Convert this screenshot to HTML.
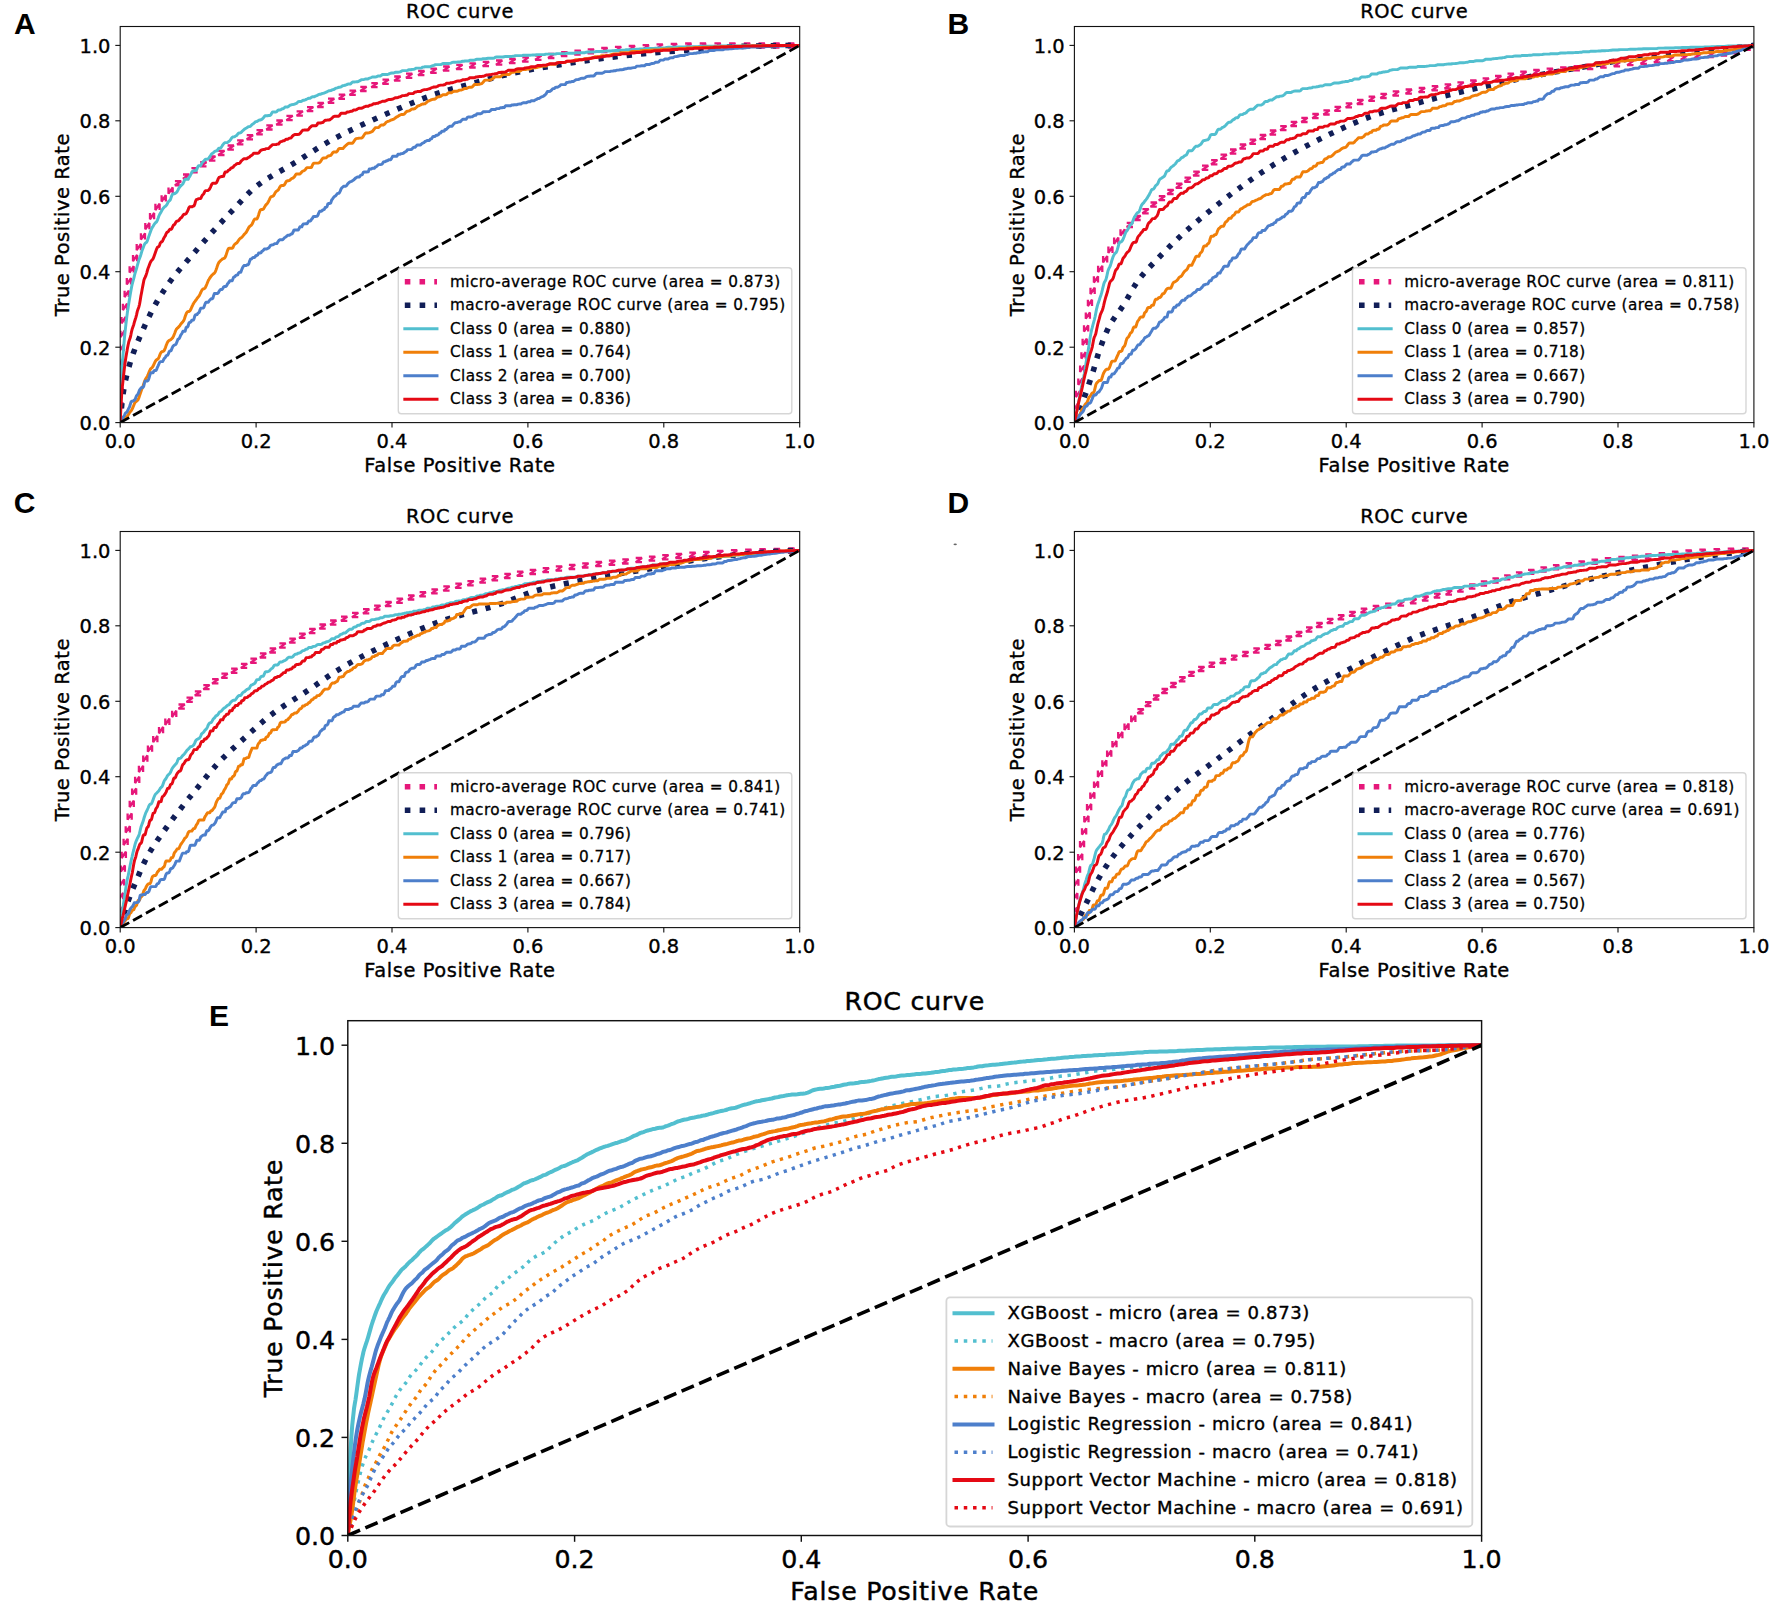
<!DOCTYPE html>
<html lang="en"><head><meta charset="utf-8"><title>ROC curves</title>
<style>
html,body{margin:0;padding:0;background:#fff}
body{width:1772px;height:1604px;overflow:hidden}
svg{display:block}
text{white-space:pre}
</style></head><body>
<svg width="1772" height="1604" viewBox="0 0 1772 1604">
<rect width="1772" height="1604" fill="#fff"/>
<clipPath id="cpA"><rect x="120.2" y="26.5" width="679.5" height="396.1"/></clipPath>
<g clip-path="url(#cpA)" fill="none" stroke-linejoin="round">
<path d="M118.1 416.7v6.3L122.3 416.7v6.3M118.3 402.1v6.3L122.4 402.1v6.3M118.4 387.5v6.3L122.6 387.5v6.3M118.7 373.1v6.3L122.8 373.1v6.3M119.1 358.7v6.3L123.2 358.7v6.3M119.7 344.6v6.3L123.8 344.6v6.3M120.5 330.7v6.3L124.6 330.7v6.3M121.5 317v6.3L125.7 317v6.3M122.9 303.7v6.3L127.1 303.7v6.3M124.6 290.7v6.3L128.8 290.7v6.3M126.8 278.1v6.3L131 278.1v6.3M129.6 266.2v6.3L133.7 266.2v6.3M133 254.9v6.3L137.1 254.9v6.3M136.7 243.9v6.3L140.9 243.9v6.3M140.9 233.3v6.3L145 233.3v6.3M145.3 223v6.3L149.4 223v6.3M150 213v6.3L154.1 213v6.3M155.4 203.7v6.3L159.6 203.7v6.3M161.6 195.2v6.3L165.8 195.2v6.3M168.5 187.4v6.3L172.7 187.4v6.3M174.9 181.2h6.3L174.9 185.3h6.3M183 174.5h6.3L183 178.6h6.3M191.4 168.2h6.3L191.4 172.4h6.3M200.2 162.2h6.3L200.2 166.4h6.3M209.1 156.4h6.3L209.1 160.6h6.3M218.2 150.9h6.3L218.2 155h6.3M227.6 145.5h6.3L227.6 149.7h6.3M237.1 140.3h6.3L237.1 144.4h6.3M246.7 135.2h6.3L246.7 139.3h6.3M256.5 130.2h6.3L256.5 134.3h6.3M266.3 125.3h6.3L266.3 129.5h6.3M276.3 120.5h6.3L276.3 124.7h6.3M286.4 115.9h6.3L286.4 120.1h6.3M296.6 111.4h6.3L296.6 115.6h6.3M307 107.1h6.3L307 111.2h6.3M317.4 102.8h6.3L317.4 107h6.3M328 98.7h6.3L328 102.8h6.3M338.7 94.6h6.3L338.7 98.8h6.3M349.5 90.7h6.3L349.5 94.9h6.3M360.3 86.8h6.3L360.3 91h6.3M371.3 83.1h6.3L371.3 87.2h6.3M382.5 79.6h6.3L382.5 83.8h6.3M394.2 76.5h6.3L394.2 80.7h6.3M406 73.7h6.3L406 77.8h6.3M418.1 71h6.3L418.1 75.2h6.3M430.4 68.6h6.3L430.4 72.8h6.3M443.1 66.5h6.3L443.1 70.7h6.3M456.2 64.9h6.3L456.2 69.1h6.3M469.4 63.4h6.3L469.4 67.5h6.3M482.7 61.9h6.3L482.7 66.1h6.3M496 60.5h6.3L496 64.7h6.3M509.2 59h6.3L509.2 63.2h6.3M522.3 57.4h6.3L522.3 61.6h6.3M535.2 55.6h6.3L535.2 59.8h6.3M548.1 53.8h6.3L548.1 58h6.3M561.1 52.1h6.3L561.1 56.2h6.3M574.4 50.6h6.3L574.4 54.7h6.3M587.7 49.3h6.3L587.7 53.4h6.3M601.2 48h6.3L601.2 52.2h6.3M614.9 46.9h6.3L614.9 51.1h6.3M628.7 46h6.3L628.7 50.2h6.3M642.6 45.2h6.3L642.6 49.4h6.3M656.5 44.4h6.3L656.5 48.6h6.3M670.7 43.8h6.3L670.7 48h6.3M685.1 43.5h6.3L685.1 47.7h6.3M699.7 43.5h6.3L699.7 47.6h6.3M714.4 43.4h6.3L714.4 47.6h6.3M729.1 43.4h6.3L729.1 47.5h6.3M743.8 43.4h6.3L743.8 47.5h6.3M758.5 43.3h6.3L758.5 47.5h6.3M773.2 43.3h6.3L773.2 47.5h6.3M787.9 43.3h6.3L787.9 47.5h6.3" fill="none" stroke="#E6177A" stroke-width="2.3" stroke-linejoin="bevel"/>
<path d="M123 422.8L123.4 417.6L117.8 417.1L117.4 422.4ZM124.2 408.5L124.7 403.3L119.1 402.8L118.6 408ZM125.8 394.5L126.6 389.4L121.1 388.5L120.3 393.7ZM128.2 380.9L129.4 375.9L123.9 374.7L122.8 379.6ZM131.6 367.7L133 362.8L127.7 361.2L126.2 366.1ZM135.7 354.8L137.4 350.1L132.2 348.2L130.4 352.9ZM140.6 342.3L142.5 337.8L137.4 335.6L135.4 340.1ZM146 330L147.9 325.5L142.8 323.3L140.8 327.8ZM151.5 317.9L153.7 313.6L148.6 311.1L146.5 315.4ZM157.6 306.3L160 302L155.1 299.3L152.7 303.5ZM164.3 295L166.9 290.9L162.2 287.9L159.6 292ZM171.5 284.2L174.4 280.3L169.9 277L167 280.9ZM179.5 274L182.6 270.3L178.3 266.7L175.2 270.3ZM188 264.1L191.2 260.5L187 256.8L183.8 260.4ZM196.7 254.2L199.8 250.5L195.5 246.9L192.4 250.5ZM205.2 244.3L208.4 240.7L204.2 237L201 240.6ZM213.9 234.5L217.1 231L213 227.2L209.7 230.7ZM222.7 224.9L226 221.3L221.9 217.5L218.6 221ZM231.6 215.3L235 211.9L230.9 208L227.6 211.5ZM240.7 205.7L243.9 202.2L239.8 198.4L236.5 202ZM249.5 196.3L252.9 192.9L249 188.9L245.6 192.3ZM259 187.8L262.9 185L259.6 180.4L255.7 183.3ZM269.6 180.5L273.8 178L270.9 173.2L266.8 175.7ZM281 173.9L285.3 171.5L282.5 166.6L278.3 169ZM292.7 167.3L296.8 164.7L293.9 160L289.8 162.5ZM304 160.2L308 157.6L305 152.9L300.9 155.5ZM315.1 153.2L319.2 150.6L316.2 145.8L312.1 148.4ZM326.3 146.3L330.5 143.8L327.7 139L323.5 141.4ZM337.8 139.9L342.1 137.6L339.5 132.7L335.2 134.9ZM349.6 133.9L354 131.7L351.6 126.7L347.2 128.8ZM361.6 128.1L366.1 126L363.7 120.9L359.3 123ZM373.8 122.5L378.3 120.5L376 115.4L371.5 117.4ZM386.1 117.1L390.6 115.1L388.4 110L383.9 112ZM398.4 111.8L403 109.8L400.8 104.7L396.2 106.6ZM410.8 106.5L415.4 104.7L413.3 99.5L408.7 101.4ZM423.3 101.6L427.9 99.8L426 94.6L421.3 96.3ZM435.9 96.9L440.7 95.4L438.9 90L434.2 91.6ZM448.8 92.9L453.7 91.5L452.2 86.1L447.3 87.5ZM462.1 89.2L467 87.9L465.5 82.5L460.6 83.8ZM475.4 85.6L480.3 84.2L478.8 78.8L473.9 80.2ZM488.7 82L493.6 80.7L492.2 75.3L487.3 76.6ZM502 78.6L507 77.4L505.7 72L500.7 73.1ZM515.5 75.5L520.5 74.5L519.4 69L514.4 70ZM529.2 72.8L534.2 71.8L533.2 66.3L528.2 67.3ZM543 70.3L548.1 69.4L547.1 63.9L542 64.8ZM556.8 68L561.9 67.2L561.1 61.6L556 62.4ZM570.8 65.8L575.9 65L575.1 59.5L569.9 60.3ZM584.8 63.7L589.9 63L589.1 57.5L584 58.2ZM598.8 61.8L603.9 61.1L603.2 55.5L598 56.2ZM612.8 59.9L618 59.3L617.3 53.7L612.1 54.4ZM626.9 58.2L632.2 57.7L631.6 52.1L626.3 52.7ZM641.2 56.8L646.4 56.3L645.9 50.7L640.6 51.2ZM655.4 55.5L660.7 55L660.2 49.5L654.9 49.9ZM669.7 54.3L675 53.9L674.6 48.3L669.3 48.7ZM684.1 53.2L689.4 52.8L689 47.2L683.7 47.6ZM698.5 52.1L703.8 51.7L703.3 46.1L698 46.5ZM712.8 51L718.1 50.6L717.7 45L712.4 45.4ZM727.2 49.9L732.5 49.6L732.1 44L726.8 44.3ZM741.6 49.2L746.9 49L746.8 43.4L741.4 43.6ZM756.2 48.8L761.5 48.7L761.4 43.1L756 43.2ZM770.8 48.5L776.2 48.4L776.1 42.8L770.7 42.9ZM785.4 48.3L790.8 48.2L790.8 42.6L785.4 42.7Z" fill="#111E57" stroke="none"/>
<path d="M120.2 422.6L120.9 392.4L120.9 391.6L121.6 375.6L122.3 363.2L123.1 353.6L123.8 345.4L124.3 339.9L124.5 337.7L125.2 330.6L125.9 324.3L126.6 318.5L127.3 313.1L128.1 308L128.4 305.9L128.8 303.2L129.5 299L130.2 294.8L130.9 290.7L131.6 286.9L132.3 283.8L133 281.1L133.1 280.9L133.8 278.4L134.5 275.4L135.2 272.7L135.9 270.5L136.6 268.3L137.3 265.7L138.1 262.8L138.8 260.3L139.5 258.4L139.9 257.4L140.2 256.7L140.9 254.5L141.6 252.1L142.3 249.9L143.1 247.9L143.8 246L144.5 244.4L145.2 243.3L145.9 242.8L146.7 242.1L147.4 240.6L148.1 238.5L148.8 236.4L149.4 234.7L149.5 234.4L150.2 232.4L151 230.3L151.7 228.5L152.4 227.2L153.1 226.3L153.8 225.1L154.6 223.8L155.3 222.8L156 222.4L156.7 221.7L157.4 220.1L158.2 218L158.9 216L159.6 214.5L160.3 213.3L161.1 211.9L161.8 210.5L162.3 209.5L162.5 209.3L163.2 208.3L164 207.4L164.7 206.6L165.4 206.2L166.1 205.7L166.9 204.7L167.6 203.2L168.3 201.8L169 201.1L169.8 200.6L170.5 199.4L171.2 197.3L171.9 195.3L172.7 194.2L173.4 193.9L174.1 193.8L174.9 193.5L175.6 193L176.3 192.6L177.1 191.7L177.8 190.3L178.5 188.8L179.3 187.7L180 186.7L180 186.7L180.7 185.9L181.5 185.1L182.2 184.6L182.9 183.8L183.7 182.2L184.4 180.4L185.1 179.3L185.9 179.3L186.6 179.3L187.4 179.3L188.1 179.3L188.8 177.8L189.6 176.6L190.3 175.4L191.1 173.9L191.8 172.3L192.6 171.2L193.3 170.8L194 170.8L194.8 170.8L195.5 170.8L196.3 170.3L197 168.7L197.8 166.9L198.5 165.8L199.3 165.8L200 165.8L200.8 165.5L201.5 164L201.7 163.6L202.3 162.6L203 161.7L203.8 161.1L204.5 160.2L205.3 159.4L206 159.2L206.8 159.2L207.6 159.1L208.3 158.5L209.1 157.7L209.8 156.7L210.6 155.5L211.3 154.3L212.1 153.5L212.9 153.1L213.6 152.6L214.4 151.7L215.2 151.1L215.9 151L216.7 150.9L217.5 150.1L218.2 148.9L219 148.2L219.8 148.2L220.5 148.1L221.3 147.3L222.1 146L222.8 144.8L223.6 143.8L224.4 143L225.2 142.6L225.9 142.6L226.7 142.6L227.5 142.5L228.3 141.8L229.1 141.3L229.6 140.9L229.8 140.7L230.6 139.7L231.4 138.3L232.2 137.3L233 137L233.7 136.9L234.5 136.7L235.3 136.2L236.1 135.8L236.9 135.2L237.7 134.1L238.5 133.1L239.3 132.9L240.1 132.9L240.8 132.7L241.6 131.9L242.4 131L243.2 130.3L244 129.6L244.8 128.9L245.6 128.4L246.4 128L247.2 127.5L248 126.9L248.8 126.6L249.6 126.6L250.4 126.4L251.2 125.4L252.1 124.4L252.9 123.9L253.7 123.5L254.5 122.7L255.3 121.9L256.1 121.6L256.9 121.6L257.7 121.1L258.6 120.4L259.4 120L260.2 120L261 119.8L261.8 119.4L262.6 118.7L263.5 117.8L264.3 116.6L265.1 115.8L265.9 115.7L266.3 115.7L266.8 115.7L267.6 115.7L268.4 115.5L269.3 115.5L270.1 115.5L270.9 114.7L271.8 113L272.6 111.9L273.4 111.9L274.3 111.9L275.1 111.9L276 111.9L276.8 111.6L277.6 110.6L278.5 110L279.3 110L280.2 110L281 109.6L281.9 109L282.7 108.7L283.6 108.5L284.4 107.7L285.3 107L286.1 106.9L287 106.9L287.9 106.9L288.7 106.3L289.6 105.6L290.4 105.1L291.3 104.8L292.2 104.6L293 104.5L293.9 104.4L294.8 104L295.6 103.7L296.5 103.3L297.4 102.5L298.3 101.6L299.1 101.5L300 101.5L300.9 101.5L301.8 101.2L302.7 100.5L303.5 100.3L304.4 100.2L305.3 99.9L306.2 99.4L307.1 99L308 98.5L308.9 98.3L309.8 98.3L310.7 97.9L311.6 97.2L312.5 96.8L313.3 96.8L314.3 96.8L315.2 96.2L316.1 95.9L317 95.6L317.9 95L318.8 94.4L319.7 94.3L320.6 94.2L321.5 93.8L322.4 93.4L323.3 93.3L324.1 93.1L324.3 93L325.2 92.6L326.1 92.2L327 91.8L327.9 91.2L328.9 90.7L329.8 90.7L330.7 90.6L331.7 90.1L332.6 89.7L333.5 89.6L334.5 89.1L335.4 88.4L336.3 88.1L337.3 87.9L338.2 87.5L339.2 87.2L340.1 87.2L341.1 86.9L342 86.1L343 85.6L343.9 85.5L344.9 85.3L345.8 85L346.8 84.6L347.7 84.1L348.7 83.9L349.6 83.9L350.6 83.9L351.6 82.8L352.5 82L353.5 82L354.5 82L355.5 81.9L356.4 81.8L357.4 81.8L358 81.6L358.4 81.4L359.4 80.9L360.3 80.4L361.3 79.8L362.3 79.6L363.3 79.6L364.3 79.4L365.3 79L366.3 79L367.3 79L368.3 78.8L369.3 78.1L370.3 77.9L371.3 77.5L372.3 77L373.3 77L374.3 77L375.3 77L376.3 76.9L377.3 76.3L378.3 75.9L379.3 75.9L380.4 75.9L381.4 75.3L382.4 74.5L383.4 74.5L384.5 74.5L385.5 74.5L386.5 74.5L387.6 74.5L388.6 74.1L389.6 73.6L390.7 73.2L391.7 73L392.7 73L393.8 73L394.8 72.5L395.9 72.2L396.9 72.2L398 72.2L399 72.1L400.1 71.9L401.2 71.4L402.2 70.7L403.3 70.6L404.3 70.6L405.4 70.6L406.5 70.6L407.5 70.3L408.6 69.8L409.7 69.8L410.8 69.8L411.8 69.5L412.9 69.4L414 69.3L414.4 69.1L415.1 68.7L416.2 68.1L417.3 68.1L418.4 68.1L419.5 68.1L420.6 68.1L421.7 67.8L422.8 67.1L423.9 67L425 66.8L426.1 66.7L427.2 66.7L428.3 66.7L429.4 66.7L430.5 66.7L431.6 66.2L432.8 65.7L433.9 65.3L435 64.8L436.1 64.6L437.3 64.6L438.4 64.6L439.5 64.6L440.7 64.6L441.8 64.1L442.9 63.5L444.1 63.5L445.2 63.5L446.4 63.5L447.5 63.5L448.7 63.5L449.8 63.4L451 63.1L452.1 62.4L453.3 62.3L454.5 62.3L455.6 62.3L456.8 62.1L458 62L459.1 62L459.9 62L460.3 62L461.5 61.5L462.7 61.2L463.8 61.2L465 61L466.2 60.9L467.4 60.9L468.6 60.9L469.8 60.3L471 60.3L472.2 60.3L473.4 60.3L474.6 60.1L475.8 59.5L477 59.3L478.2 59.3L479.4 59.3L480.6 59.3L481.9 59.2L483.1 58.7L484.3 58.7L485.5 58.7L486.8 58.5L488 58.3L489.2 58.3L490.5 58.3L491.7 58.3L492.9 58.3L494.2 58.1L495.4 57.2L496.7 57L497.9 57L499.2 57L500.4 57L501.7 57L502.9 57L504.2 56.7L505.5 56.4L506.7 56.4L508 56.4L509.3 56.4L510.6 56.4L511.8 56.4L513.1 56.2L514.4 56L515.7 55.6L517 55.6L517.7 55.6L518.3 55.6L519.6 55.6L520.9 55.6L522.2 55.5L523.5 55.3L524.8 55.3L526.1 55.3L527.4 55.3L528.7 55.2L530 55.2L531.3 55.1L532.7 54.9L534 54.9L535.3 54.9L536.6 54.6L538 54.6L539.3 54.6L540.6 54.6L542 54.6L543.3 54.6L544.7 54.5L546 54.1L547.4 54.1L548.7 54.1L550.1 54.1L551.4 54.1L552.8 54.1L554.2 54.1L555.5 54L556.9 53.6L558.3 53.6L559.7 53.6L561 53.6L562.4 53.6L563.8 53.6L565.2 53.5L566.6 53.3L568 53.3L569.4 53.3L570.8 53.2L572.2 53.2L573.6 53.2L574.8 53.1L575 53L576.4 52.7L577.8 52.7L579.2 52.7L580.7 52.7L582.1 52.7L583.5 52.7L584.9 52.7L586.4 52.2L587.8 52L589.2 52L590.7 52L592.1 52L593.6 52L595 51.8L596.5 51.5L597.9 51.5L599.4 51.5L600.8 51.5L602.3 51.5L603.8 51.4L605.2 51.1L606.7 50.9L608.2 50.9L609.7 50.9L611.2 50.9L612.6 50.7L614.1 50.7L615.6 50.4L617.1 50.4L618.6 50.4L620.1 50.1L621.6 50.1L623.1 50.1L624.6 50.1L626.1 49.8L627.7 49.7L629.2 49.7L630.7 49.7L632.2 49.6L632.5 49.5L633.8 49.5L635.3 49.5L636.8 49.3L638.4 49.2L639.9 49L641.4 49L643 49L644.5 49L646.1 48.5L647.7 48.5L649.2 48.5L650.8 48.5L652.3 48.5L653.9 48.5L655.5 48.3L657.1 48.2L658.6 47.9L660.2 47.9L661.8 47.9L663.4 47.9L665 47.9L666.6 47.4L668.2 47.3L669.8 47.3L671.4 47.3L673 47.3L674.6 47.2L676.2 46.9L677.8 46.9L679.5 46.9L681.1 46.9L682.7 46.9L684.4 46.9L686 46.8L687.6 46.8L689.3 46.8L690.3 46.8L690.9 46.8L692.6 46.7L694.2 46.7L695.9 46.7L697.5 46.7L699.2 46.5L700.9 46.3L702.5 46.3L704.2 46.3L705.9 46.3L707.6 46.2L709.2 46.1L710.9 46.1L712.6 46.1L714.3 46.1L716 46.1L717.7 46.1L719.4 46L721.1 46L722.8 46L724.5 46L726.2 46L728 46L729.7 45.9L731.4 45.9L733.2 45.9L734.9 45.9L736.6 45.9L738.4 45.9L740.1 45.9L741.9 45.8L743.6 45.8L745.4 45.8L747.1 45.8L748.1 45.8L748.9 45.7L750.7 45.6L752.4 45.6L754.2 45.6L756 45.6L757.8 45.6L759.5 45.6L761.3 45.6L763.1 45.6L764.9 45.6L766.7 45.6L768.5 45.5L770.3 45.5L772.1 45.5L773.9 45.5L775.8 45.5L777.6 45.5L779.4 45.4L781.2 45.4L783.1 45.4L784.9 45.4L786.7 45.4L788.6 45.4L790.4 45.4L792.3 45.4L794.1 45.4L796 45.4L797.8 45.4L799.7 45.4" stroke="#52BFCF" stroke-width="2.95" stroke-linecap="square"/>
<path d="M120.2 422.6L120.9 422.1L121.6 421.7L122.3 421.1L123.1 420.3L123.8 419.4L124.5 418.5L125.2 417.8L125.9 417.2L126.6 416.7L127.3 416L128.1 415L128.8 413.9L129.5 412.7L130.2 411.8L130.9 411L131.6 410.1L132.3 408.8L133 407.2L133.8 405.2L134.5 403.5L135.2 402.3L135.9 401.6L136.6 401.2L137.3 400.6L137.9 399.9L138.1 399.6L138.8 398L139.5 395.9L140.2 393.8L140.9 391.7L141.6 389.8L142.3 387.8L143.1 385.7L143.8 383.6L144.5 381.5L145.2 379.9L145.9 378.5L146.7 377.4L147.4 376.2L147.4 376.2L148.1 374.7L148.8 372.9L149.5 371L150.2 369.5L151 368.5L151.7 367.9L152.4 367.2L153.1 366.1L153.8 364.6L154.6 362.8L155.3 361.3L156 360.3L156.7 359.8L157.4 359.4L158.2 358.7L158.9 357.4L159.6 355.6L160.3 353.8L161.1 352.4L161.8 351.7L162.3 351.5L162.5 351.5L163.2 351.4L164 350.8L164.7 349.5L165.4 347.7L166.1 345.6L166.9 343.7L167.6 342.2L168.3 341.2L169 340.5L169.8 340.1L170.5 339.7L171.2 339.2L171.9 338.6L172.7 337.7L173.4 336.4L174.1 334.7L174.9 332.7L175.6 330.8L176.3 329.3L177.1 328.4L177.8 327.7L178 327.6L178.5 327.1L179.3 326.3L180 325.3L180.7 324.2L181.5 323.3L182.2 322.5L182.9 321.7L183.7 320.6L184.4 319L185.1 316.8L185.9 314.6L186.6 312.8L187.4 311.8L188.1 311.5L188.8 311.5L189.6 311.2L190.3 310.3L191.1 308.8L191.8 307L192.6 305.3L192.9 304.6L193.3 303.9L194 302.7L194.8 301.7L195.5 300.7L196.3 299.6L197 298.5L197.8 297.6L198.5 296.7L199.3 295.6L200 294.2L200.8 292.5L201.5 290.9L202.3 289.6L203 289L203.8 288.8L204.5 288.5L205.3 287.7L206 286.2L206.8 284.3L207.6 282.2L208.3 280.5L208.5 280.1L209.1 279.2L209.8 278L210.6 277L211.3 275.9L212.1 275L212.9 274.3L213.6 273.7L214.4 273.1L215.2 272L215.9 270.2L216.7 268L217.5 265.6L218.2 263.7L219 262.3L219.8 261.4L220.5 260.7L221.3 260L222.1 259.3L222.8 258.8L223.5 258.5L223.6 258.5L224.4 258.2L225.2 257.3L225.9 255.6L226.7 253.1L227.5 250.6L228.3 248.8L229.1 248.3L229.8 248.3L230.6 248.3L231.4 248.3L232.2 248.3L233 247.4L233.7 245.7L234.5 244.5L235.3 243.8L236.1 243.4L236.9 242.8L237.7 241.7L238.5 240.4L239.3 239.3L240.1 238.5L240.8 238L241.6 237.5L242.4 236.7L243.2 235.7L243.9 234.8L244 234.6L244.8 233.8L245.6 233L246.4 232L247.2 230.6L248 229L248.8 227.5L249.6 226.5L250.4 225.9L251.2 225.3L252.1 224.1L252.9 222.3L253.7 220.5L254.5 219.3L255.3 218.9L256.1 218.9L256.9 218.9L257.7 217.5L258.6 214.9L259.4 212.2L260.2 210.2L261 209.5L261.5 209.5L261.8 209.5L262.6 209.5L263.5 209L264.3 207.6L265.1 206.1L265.9 204.9L266.8 204.1L267.6 203.1L268.4 201.7L269.3 199.8L270.1 198L270.9 196.9L271.8 196.5L272.6 196.4L273.4 195.8L274.3 194.5L275.1 192.9L276 191.7L276.8 191L277.6 190.5L278.5 189.6L279.3 188.1L280.2 186.6L280.6 186L281 185.6L281.9 185.5L282.7 185.5L283.6 185.5L284.4 184.8L285.3 183.2L286.1 181.7L287 180.9L287.9 180.7L288.7 180.7L289.6 180.3L290.4 179.6L291.3 178.8L292.2 178.3L293 178L293.9 177.3L294.8 176.2L295.6 174.8L296.5 173.9L297.4 173.9L298.3 173.9L299.1 173.9L300 173.9L300.9 173L301.8 171.8L302.7 171.1L303.5 170.9L304.4 170.5L305.3 169.7L306.2 168.4L307.1 167.6L308 167.6L308.9 167.6L309.8 167.6L310.7 167.6L311.6 167.1L312.5 165L313.3 163.6L314.3 163.1L315.2 163.1L315.9 163.1L316.1 163.1L317 163.1L317.9 163.1L318.8 162.8L319.7 162.4L320.6 161.5L321.5 160L322.4 158.6L323.3 157.9L324.3 157.9L325.2 157.9L326.1 157.8L327 157L327.9 156.2L328.9 155.8L329.8 155.7L330.7 155.4L331.7 154.3L332.6 152.9L333.5 152L334.5 152L335.4 152L336.3 152L337.3 151.2L338.2 149.6L339.2 148.5L340.1 148.5L341.1 148.5L342 148.5L343 148.5L343.9 147.4L344.9 146.3L345.8 145.5L346.8 144.7L347.7 143.9L348.7 143.2L349.6 143.2L350.6 143.2L351.6 143.2L352.5 143.2L353.5 142.1L354.5 140.4L355.5 139.1L355.6 139L356.4 138.6L357.4 138.4L358.4 138.3L359.4 138.1L360.3 138.1L361.3 138.1L362.3 137.7L363.3 136.4L364.3 134.6L365.3 133.4L366.3 132.9L367.3 132.9L368.3 132.9L369.3 132.7L370.3 132.3L371.3 131.9L372.3 131.4L373.3 130.3L374.3 128.9L375.3 127.8L376.3 127.6L377.3 127.6L378.3 127.6L379.3 126.8L380.4 125.6L381.4 124.9L382.4 124.9L383.4 124.9L384.5 124.3L385.5 123.1L386.5 122L387.6 121.5L388.6 121.2L389.6 120.8L390.7 120.2L391.7 119.8L392.7 119.5L393.8 119.2L394.8 118.4L395.9 117.5L396.9 116.8L398 116.3L398.1 116.2L399 115.6L400.1 115L401.2 114.5L402.2 114.5L403.3 114.5L404.3 114.1L405.4 112.8L406.5 111.6L407.5 111.1L408.6 111L409.7 110.7L410.8 109.8L411.8 109.1L412.9 108.9L414 108.9L415.1 108.5L416.2 107.5L417.3 106.4L418.4 105.8L419.5 105.5L420.6 105L421.7 104.3L422.8 103.9L423.9 103.9L425 103.7L426.1 102.9L427.2 101.8L428.3 101.1L429.4 100.6L430.5 100.2L431.6 99.7L432.8 99.3L433.9 99.3L435 99L436.1 98.2L437.3 97.2L438.4 96.8L439.5 96.7L440.7 96.3L441.8 95.5L442.9 94.8L444.1 94.8L445.2 94.8L446.4 94.6L447.5 93.6L448.7 92.8L449.8 92.8L449.8 92.8L451 92.8L452.1 92.3L453.3 91.6L454.5 91.3L455.6 91.3L456.8 91.3L458 90.9L459.1 90.3L459.9 90.1L460.3 90.1L461.5 90L462.7 89.5L463.8 88.8L465 88.5L466.2 88.5L467.4 88.1L468.6 87.4L469.8 87.2L471 87.2L472.2 87L473.4 85.6L474.6 84.4L475.8 84.4L477 84.4L478.2 84.4L479.4 84.2L480.6 83.9L481.9 83.5L483.1 82.3L484.3 80.6L485.5 80.1L486.8 80.1L488 80.1L489.2 80.1L490.5 80.1L491.7 79.3L492.9 78.6L494.2 77.5L495.4 76.8L496.7 76.8L497.9 76.8L498 76.8L499.2 76.8L500.4 76.8L501.7 75.4L502.9 74.8L504.2 74.6L505.5 74.5L506.7 74.5L508 74.5L509.3 74.5L510.6 73.2L511.8 72.3L513.1 72.3L514.4 72.1L515.7 71.4L517 71.4L517.7 71.4L518.3 71.4L519.6 71.4L520.9 70.5L522.2 69.4L523.5 69.4L524.8 69.4L526.1 69.4L527.4 69L528.7 69L530 69L531.3 68.4L532.7 67.7L534 67.7L535.3 67.7L536.6 67.5L538 67L539.3 66.8L540.6 66.5L542 66L543.3 66L544.7 66L546 66L547.4 65L548.7 64.2L550.1 64.2L551.4 64.2L552.8 64.2L554.2 64.2L555.5 64.2L556.9 63.3L558.3 62.5L559.7 62.5L561 62.5L562.4 62.5L563.8 62.5L565.2 62.2L566.6 61.8L568 61.1L569.4 61.1L570.8 61.1L572.2 61.1L573.6 61.1L574.8 60.2L575 60L576.4 59.7L577.8 59.7L579.2 59.7L580.7 59.7L582.1 59.7L583.5 59.2L584.9 58.7L586.4 58.7L587.8 58.6L589.2 58.2L590.7 58.2L592.1 58.2L593.6 57.6L595 56.7L596.5 56.7L597.9 56.7L599.4 56.7L600.8 56L602.3 55.7L603.8 55.7L605.2 55.7L606.7 55.5L608.2 55.4L609.7 55.1L611.2 54.6L612.6 54.2L614.1 54L615.6 54L617.1 54L618.6 54L620.1 53.4L621.6 52.6L623.1 52.6L624.6 52.6L626.1 52.6L627.7 52.6L629.2 52.6L630.7 51.9L632.2 51.5L632.5 51.5L633.8 51.5L635.3 51.5L636.8 51.5L638.4 51.5L639.9 51.4L641.4 50.6L643 50.5L644.5 50.5L646.1 50.5L647.7 50.5L649.2 50.5L650.8 50.2L652.3 49.9L653.9 49.9L655.5 49.9L657.1 49.9L658.6 49.9L660.2 49.6L661.8 49.1L663.4 49.1L665 49.1L666.6 49.1L668.2 49L669.8 48.9L671.4 48.9L673 48.9L674.6 48.9L676.2 48.9L677.8 48.6L679.5 48.4L681.1 48.4L682.7 48.4L684.4 48.4L686 48.3L687.6 47.9L689.3 47.9L690.3 47.9L690.9 47.9L692.6 47.9L694.2 47.6L695.9 47.5L697.5 47.5L699.2 47.5L700.9 47.5L702.5 47.5L704.2 47.2L705.9 47.2L707.6 47.2L709.2 47.2L710.9 47.2L712.6 47.2L714.3 47L716 47L717.7 47L719.4 47L721.1 46.8L722.8 46.8L724.5 46.8L726.2 46.8L728 46.8L729.7 46.8L731.4 46.7L733.2 46.7L734.9 46.7L736.6 46.3L738.4 46.3L740.1 46.3L741.9 46.3L743.6 46.3L745.4 46.3L747.1 45.9L748.9 45.9L750.7 45.9L752.4 45.9L754.2 45.9L756 45.9L757.8 45.9L759.5 45.9L761.3 45.9L763.1 45.8L764.9 45.8L766.7 45.8L768.5 45.7L770.3 45.7L772.1 45.6L773.9 45.6L775.8 45.6L777.6 45.6L779.4 45.5L781.2 45.5L783.1 45.5L784.9 45.5L786.7 45.5L788.6 45.4L790.4 45.4L792.3 45.4L794.1 45.4L796 45.4L797.8 45.4L799.7 45.4" stroke="#F07F09" stroke-width="2.95" stroke-linecap="square"/>
<path d="M120.2 422.6L120.9 421.3L121.6 419.9L122.3 418.3L123.1 417.3L123.8 416.4L124.5 415.1L125.2 413.5L125.9 412.6L126.6 412.4L127.3 411.4L128.1 409.6L128.8 408.2L129.5 407L130.2 404.8L130.9 402.3L131.6 401.2L132.3 401.2L133 401.1L133.8 400.5L134.5 400L134.5 400L135.2 399.2L135.9 397.3L136.6 395.6L137.3 394.8L138.1 393.8L138.8 391.9L139.5 390.1L140.2 389.1L140.9 388.3L141.6 387.4L142.3 387.4L143.1 387.4L143.8 386L144.5 382.8L145.2 380.9L145.9 380.9L146.7 380.9L147.4 380.9L148.1 380.5L148.8 378.7L149.5 376.4L150.2 373.9L150.8 372.9L151 372.8L151.7 372.8L152.4 372.8L153.1 372.8L153.8 371.1L154.6 370.4L155.3 370.4L156 370.4L156.7 369.2L157.4 367.3L158.2 365.6L158.9 364L159.6 362.4L160.3 361.6L161.1 361.6L161.8 361.6L162.5 361.6L163.2 360.5L164 358.8L164.7 358.1L165.4 357.3L166.1 356L166.9 355.4L167.6 355.2L168.3 354L169 352L169.8 350.9L169.8 350.9L170.5 350.9L171.2 350.6L171.9 348.6L172.7 346.7L173.4 345.8L174.1 345.2L174.9 344.8L175.6 344.6L176.3 343.6L177.1 341.4L177.8 339.5L178.5 339L179.3 338.5L180 336.9L180.7 335.2L181.5 334.2L182.2 332.8L182.9 331.3L183.7 331.3L184.4 331.3L185.1 331.3L185.9 328.3L186.1 327.7L186.6 327L187.4 327L188.1 326.1L188.8 323.4L189.6 322.2L190.3 322.2L191.1 321.6L191.8 320.1L192.6 320.1L193.3 320.1L194 319L194.8 315.8L195.5 314.7L196.3 314.7L197 314.6L197.8 313.4L198.5 312.9L199.3 312.1L200 309.8L200.8 308.1L201.5 308.1L202.3 308.1L203 308.1L203.8 307.5L204.5 305.6L205.1 303.8L205.3 303.4L206 302.3L206.8 302.3L207.6 302.3L208.3 302.3L209.1 301L209.8 300L210.6 299.3L211.3 298.8L212.1 298.8L212.9 298.1L213.6 295.7L214.4 293.4L215.2 293.4L215.9 293.4L216.7 293.4L217.5 293.4L218.2 293L219 291.5L219.8 290.2L220.5 289.5L221.3 289.5L222.1 289.5L222.8 288.5L223.6 287L224.4 286.5L225.2 286.5L225.9 286.5L226.7 285.6L227.5 283.8L228.3 283L229.1 282L229.8 280.8L230.6 280.8L231 280.8L231.4 280.8L232.2 280.8L233 278.8L233.7 277.1L234.5 276.9L235.3 276.1L236.1 275.1L236.9 275.1L237.7 274.9L238.5 273L239.3 272.3L240.1 272.3L240.8 272.3L241.6 270.1L242.4 267.9L243.2 266.6L244 265.5L244.8 265.4L245.6 265.4L246.4 265.4L247.2 264.8L248 264.8L248.8 263.8L249.6 261.1L250.4 259.3L251.2 259.1L252.1 258.3L252.9 257.5L253.7 257.5L254.4 257.5L254.5 257.5L255.3 256.6L256.1 255.4L256.9 255.4L257.7 255L258.6 253L259.4 253L260.2 253L261 252.9L261.8 251.3L262.6 251L263.5 250.2L264.3 248.9L265.1 248.9L265.9 248.9L266.8 248.9L267.6 248.5L268.4 248.1L269.3 247.3L270.1 246L270.9 245.1L271.8 245L272.6 244.9L273.4 244.6L274.3 244L275.1 243.6L276 243.6L276.8 243.6L277.6 242.4L278.5 241L279.3 240.1L280.2 239.7L281 239.7L281.9 239.7L282.7 239.7L283.6 238.8L284.4 237.8L285.3 237.3L286.1 236.8L287 235.9L287.9 235.2L288.7 235.2L289.6 235.2L289.7 235.2L290.4 234.6L291.3 234L292.2 233.8L293 232.3L293.9 230.2L294.8 229.9L295.6 229.9L296.5 229.9L297.4 229.9L298.3 229.9L299.1 228.5L300 226.8L300.9 226.8L301.8 226.8L302.7 224.7L303.5 223.9L304.4 223.9L305.3 223.8L306.2 223.8L307.1 223.8L308 222.2L308.9 220.9L309.8 220.9L310.7 220.9L311.6 219.3L312.5 218.2L313.3 216.7L314.3 216.4L315.2 216.4L316.1 216.4L317 216.3L317.9 215.2L318.8 212.9L319.7 211.3L320.6 211.3L321.5 211.3L322.4 210.4L322.7 210L323.3 209.8L324.3 209.4L325.2 207.5L326.1 207.3L327 206.6L327.9 203.8L328.9 203.4L329.8 203.4L330.7 203.1L331.7 200L332.6 198.8L333.5 197.5L334.5 196.4L335.4 196L336.3 195L337.3 193.6L338.2 193.3L339.2 193.2L340.1 191.4L341.1 188.9L342 187.6L343 186.9L343.8 186.2L343.9 186.2L344.9 186.2L345.8 186.2L346.8 185.4L347.7 183.8L348.7 182.9L349.6 182.1L350.6 181.7L351.6 181.4L352.5 180.7L353.5 180.1L354.5 179.1L355.5 178.1L356.4 177.6L357.4 177L358.4 177L359.4 177L360.3 175.5L361.3 175L362.3 174.7L363.3 172.3L364.3 171.9L365.3 171.9L366.3 171.9L367.3 171.9L368.3 171.8L369.3 168.9L370.3 168.9L371.3 168.9L372.3 168.3L373.3 168.3L374.3 168.3L375.3 167L376.3 166.8L377.3 165.8L378.3 164.6L379.3 164.6L380.4 164.6L381.4 164.4L381.8 164.2L382.4 163.6L383.4 162L384.5 161.8L385.5 161.5L386.5 160.8L387.6 160.8L388.6 159.7L389.6 159.7L390.7 159.7L391.7 158.1L392.7 156.3L393.8 156.3L394.8 156.3L395.9 156.3L396.9 156.3L398 154.3L399 154.2L400.1 154.2L401.2 153.6L402.2 153.5L403.3 153.3L404.3 152.4L405.4 151.9L406.5 151.1L407.5 149.6L408.6 149.6L409.7 149.6L410.8 149.6L411.8 149.2L412.9 147.9L414 147.3L415.1 147.3L416.2 146L417.3 144.9L418.4 144.9L419.5 144.9L420.6 144.9L421.7 143.8L422.8 143.1L423.9 142.7L425 141.5L426.1 141.1L427.2 140.4L428.3 140.4L428.7 140.4L429.4 140.4L430.5 138.9L431.6 138.7L432.8 136.7L433.9 136.4L435 136.4L436.1 135.3L437.3 135.3L438.4 134.7L439.5 133L440.7 133L441.8 131.2L442.9 131.2L444.1 131.1L445.2 129.4L446.4 129.4L447.5 128.1L448.7 126.9L449.8 126.2L451 126.2L452.1 126.2L453.3 124.5L454.5 123.3L455.6 122.6L456.8 122.6L458 122.2L459.1 121.8L459.9 121.8L460.3 121.8L461.5 120.3L462.7 119.3L463.8 119.3L465 119.3L466.2 119.2L467.4 117.3L468.6 116.9L469.8 116.9L471 116.9L472.2 116.8L473.4 116L474.6 115.2L475.8 115.2L477 113.8L478.2 113.8L479.4 113.8L480.6 113.8L481.9 113.1L483.1 111.7L484.3 111.7L485.5 111.7L486.8 111.6L488 111.6L489.2 111.6L490.5 110.6L491.7 109.4L492.9 109.4L494.2 109.4L495.4 109.4L496.7 108.6L497.9 108.6L498 108.6L499.2 108.5L500.4 107.8L501.7 107.8L502.9 107.5L504.2 107.5L505.5 105.8L506.7 105.8L508 105.8L509.3 105.8L510.6 105.8L511.8 105L513.1 105L514.4 104.7L515.7 104.7L517 104.7L518.3 104.1L519.6 104L520.9 104L522.2 103.1L523.5 102.8L524.8 102.8L526.1 102.8L527.4 102.2L528.7 101.7L530 101.7L531.3 100.8L532.7 100.8L534 100.8L535.3 99.8L536.6 99.4L536.7 99.3L538 98.4L539.3 98.4L540.6 97.4L542 96.7L543.3 96.3L544.7 95.3L546 93.9L547.4 91.5L548.7 91.5L550.1 91.2L551.4 90.3L552.8 88.6L554.2 88.6L555.5 87.4L555.8 87.3L556.9 87.3L558.3 86.8L559.7 86L561 84.6L562.4 84.6L563.8 84.6L565.2 84.6L566.6 82.4L568 82.4L569.4 82L570.8 82L572.2 81.4L573.6 81.4L575 80.3L576.4 79.6L577.8 79.6L579.2 79.3L580.7 78.4L582.1 78.3L583.5 78.3L584.9 77.9L586.4 76.7L587.8 76.3L589.2 76.3L590.7 76L592.1 76L593.6 76L594.5 75.4L595 74.6L596.5 73.2L597.9 73.2L599.4 73.2L600.8 73.2L602.3 73.2L603.8 72.5L605.2 71.6L606.7 71.6L608.2 71.6L609.7 71.6L611.2 71.1L612.6 71.1L614.1 70.7L615.6 70.7L617.1 70.1L618.6 70.1L620.1 69.8L621.6 69.8L623.1 69.5L624.6 69L626.1 68.8L627.7 68.3L629.2 68.3L630.7 68.2L632.2 67.9L633.8 67.6L635.3 67.5L636.8 66.1L638.4 66.1L639.9 66.1L641.4 65.7L643 65.7L644.5 65.7L646.1 64.5L647.7 64.5L649.2 64.5L650.8 63.9L651.6 63.5L652.3 63.5L653.9 63.4L655.5 62.3L657.1 62.3L658.6 62.1L660.2 60.1L661.8 60.1L663.4 60.1L665 58.9L666.6 58.9L668.2 58.9L669.8 57.9L670.6 57.9L671.4 57.7L673 57.7L674.6 56.6L676.2 56.6L677.8 56.2L679.5 55.8L681.1 55.4L682.7 55.4L684.4 55.4L686 54.6L687.6 54.5L689.3 53.6L690.9 53.6L692.6 53.6L694.2 53.3L695.9 53.2L697.5 52.8L699.2 52.8L700.9 52.3L702.5 51.9L704.2 51.9L705.9 51.8L707.6 51.8L709.2 50.5L709.3 50.5L710.9 50.5L712.6 50.5L714.3 50.5L716 49.8L717.7 49.8L719.4 49.8L721.1 49.8L722.8 49.8L724.5 49.1L726.2 49.1L728 49.1L729.7 48.8L731.4 48.8L733.2 48.6L734.9 48.3L736.6 48.3L737.9 48.3L738.4 48L740.1 47.9L741.9 47.9L743.6 47.9L745.4 47.8L747.1 47.5L748.9 47.5L750.7 47.1L752.4 47.1L754.2 47.1L756 47.1L757.8 47.1L759.5 46.7L761.3 46.7L763.1 46.7L764.9 46.7L766.7 46.5L767.1 46.5L768.5 46.5L770.3 46.5L772.1 46.4L773.9 46.3L775.8 46.3L777.6 46.1L779.4 46L781.2 46L783.1 46L784.9 45.8L786.7 45.8L788.6 45.8L790.4 45.7L792.3 45.6L794.1 45.5L796 45.5L797.8 45.5L799.7 45.4" stroke="#4D7FCB" stroke-width="2.95" stroke-linecap="square"/>
<path d="M120.2 422.6L120.9 407.2L121.6 396.2L121.6 395.4L122.3 387.1L123.1 379.9L123.8 373.4L124.5 367.4L125.2 362L125.9 357.3L126.6 353.2L127 351L127.3 349L128.1 345L128.8 341.8L129.5 339.8L130.2 337.8L130.9 334.8L131.6 331.3L132.3 328.7L133 326.7L133.8 324.4L134.5 321.7L135.2 319.5L135.9 317.4L136.6 314.6L137.3 311.4L138.1 309L138.8 307.2L139.2 305.7L139.5 304.5L140.2 300.4L140.9 296.1L141.6 292.4L142.3 288.6L143.1 284.4L143.8 280.7L144 279.9L144.5 278.5L145.2 277.2L145.9 275.6L146.7 273.1L147.4 270.5L148.1 268.3L148.8 266.4L149.5 264.6L150.2 262.7L151 261.2L151.7 260.3L152.4 259.7L153.1 258.7L153.2 258.6L153.8 256.9L154.6 254.7L155.3 252.7L156 250.8L156.7 248.8L157.4 247.3L158.2 246.9L158.9 246.5L159.6 245.1L160.3 243.1L161.1 242L161.8 241.8L162.5 241.2L163.2 239.5L164 237.8L164.7 236.7L165.4 235.6L166.1 233.8L166.1 233.8L166.9 232.4L167.6 232L168.3 231.6L169 230.4L169.8 229.3L170.5 229.3L171.2 229.3L171.9 228.5L172.7 226.6L173.4 225.3L174.1 224.8L174.9 224.1L175.6 222.7L176.3 221.5L177.1 221.1L177.8 221L178.5 220.6L179.3 219.8L180 218.8L180.7 218L181.5 217.5L182.2 216.6L182.9 215.4L183.7 214.4L184.4 214.2L185.1 214.2L185.9 213.8L186.6 212.8L187.4 211.5L188.1 209.8L188.2 209.7L188.8 207.9L189.6 206.8L190.3 206.8L191.1 206.8L191.8 206.8L192.6 206.5L193.3 206.2L194 205.9L194.8 204.1L195.5 201.3L196.3 199.6L197 199.4L197.8 199.2L198.5 198.6L199.3 198.6L200 198.6L200.8 198.5L201.5 196.8L202.3 195.2L203 194.5L203.8 193.7L204.5 192.1L205.3 190.8L206 190.6L206.8 190.6L207.6 190.6L208.3 190.2L209.1 189.6L209.8 188.6L210.6 187.1L210.6 187.1L211.3 185.2L212.1 183.7L212.9 183.2L213.6 183.2L214.4 183.2L215.2 183.2L215.9 183.2L216.7 182.4L217.5 180.7L218.2 178.7L219 177.5L219.8 177.2L220.5 176.9L221.3 176.4L222.1 176.4L222.8 176.4L223.6 176.2L224.4 173.7L225.2 172L225.9 172L226.7 172L227.5 171.5L228.3 170.4L229.1 170L229.8 169.5L230.6 168.5L231.4 167.8L232.2 167.8L233 167.3L233.7 166.3L234.5 165.4L235.3 165L236.1 164.3L236.9 163.6L237.7 163.5L237.8 163.5L238.5 163.5L239.3 163.5L240.1 162.7L240.8 161.6L241.6 160.7L242.4 160L243.2 159.2L244 158.7L244.8 158.7L245.6 158.7L246.4 158.7L247.2 158.5L248 157.6L248.8 157.4L249.6 157L250.4 156.1L251.2 155.5L252.1 155.1L252.9 154.2L253.7 153.2L254.5 153.2L255.3 153.2L256.1 153.2L256.9 153.2L257.7 153.2L258.6 153.1L259.4 152.1L260.2 150.9L261 150.3L261.8 150.1L262.6 149.6L263.5 149.4L264.3 149.4L265.1 149.2L265.9 148.6L266.8 148.6L267.6 148.6L268.4 148.6L269.3 147.7L270.1 146.8L270.9 146.2L271.8 145.4L272.6 144.7L273.4 144.6L274.3 144.6L275.1 144.6L276 144.6L276.8 144.2L277.6 144.1L278.5 144L279.3 143L280.2 141.9L281 141.6L281.9 141.4L282.7 140.9L283.6 140.7L284.4 140.7L285.3 139.9L285.3 139.9L286.1 139.3L287 139.3L287.9 139.3L288.7 138.5L289.6 138.1L290.4 138.1L291.3 137.8L292.2 136.4L293 135.6L293.9 135L294.8 134.4L295.6 134.4L296.5 134.4L297.4 134.4L298.3 134.4L299.1 134.2L300 133.6L300.9 132.5L301.8 131.2L302.7 130.3L303.5 130.1L304.4 130L305.3 130L306.2 130L307.1 130L308 130L308.9 129L309.8 127.7L310.7 126.9L311.6 125.9L312.5 125.7L313.3 125.7L314.3 125.7L315.2 125.7L316.1 125.7L317 124.7L317.9 123L318.8 123L319.7 123L320.6 123L321.5 122.7L322.4 122.6L323.3 122.1L324.3 120.9L325.2 120.3L326.1 120.3L327 120.1L327.9 120L328.9 120L329.8 119.8L330.7 119.1L331.7 118.4L332.6 117.5L333.5 116.7L334.5 116.3L335.4 116.3L336.3 116.3L337 116.3L337.3 116.3L338.2 116.3L339.2 115.9L340.1 114.5L341.1 113.3L342 113.3L343 113.3L343.9 113.3L344.9 113.3L345.8 113.3L346.8 112.2L347.7 111.9L348.7 111.9L349.6 111.7L350.6 111.3L351.6 111.3L352.5 111.1L353.5 110L354.5 110L355.5 110L356.4 109.7L357.4 109L358.4 108.5L359.4 108.2L360.3 108.2L361.3 108.2L362.3 108L363.3 107.4L364.3 106.9L365.3 106.5L366.3 106.2L367.3 106.2L368.3 106.2L369.3 105.6L370.3 105.1L371.3 105.1L372.3 104.7L373.3 103.8L374.3 103.8L375.3 103.8L376.3 103.4L377.3 103.3L378.3 103.2L379.3 102.4L380.4 102.2L381.4 101.7L382.4 101.2L383.4 101.2L384.5 101.2L385.5 101L386.5 100.4L387.6 100L388.6 99.5L389.6 99.5L390.7 99.5L391.7 99.3L392.7 99L393.8 98.6L394.8 98L395.9 97.7L396.9 97.7L398 97.6L399 97L400.1 96.9L401.2 96.4L402.2 95.6L403.3 95.6L404.3 95.6L405.4 95.3L406.5 95.3L407.5 94.9L408.6 93.8L409.7 93.6L410.8 93.6L411.8 93.6L412.9 93.6L414 93L414.4 92.4L415.1 92L416.2 92L417.3 91.5L418.4 91.5L419.5 91.5L420.6 91.5L421.7 90.6L422.8 90.1L423.9 89.8L425 89.6L426.1 89.6L427.2 89.5L428.3 89L429.4 88.9L430.5 88.4L431.6 87.6L432.8 87.4L433.9 87L435 87L436.1 87L437.3 86.5L438.4 85.7L439.5 85.4L440.7 85.1L441.8 85.1L442.9 85.1L444.1 84.8L445.2 84.5L446.4 83.3L447.5 83.3L448.7 83.3L449.8 83.2L451 82.7L452.1 82.7L453.3 82.5L454.5 82L455.6 81.6L456.8 81.1L458 81L459.1 81L459.9 81L460.3 80.9L461.5 80.5L462.7 79.8L463.8 79.7L465 79.7L466.2 79.4L467.4 79.3L468.6 78.7L469.8 77.8L471 77.8L472.2 77.8L473.4 77.8L474.6 77.7L475.8 77L477 77L478.2 76.8L479.4 76.4L480.6 76.4L481.9 76.4L483.1 76.2L484.3 76L485.5 75.4L486.8 74.9L488 74.9L489.2 74.8L490.5 74.8L491.7 74.4L492.9 74.1L494.2 74.1L495.4 73.6L496.7 73.6L497.9 73L498 72.9L499.2 72.5L500.4 72.5L501.7 72.1L502.9 72.1L504.2 72.1L505.5 72.1L506.7 71.3L508 70.3L509.3 70.3L510.6 70.3L511.8 70.3L513.1 70.3L514.4 70.2L515.7 69.4L517 69L517.7 68.8L518.3 68.7L519.6 68.7L520.9 68.7L522.2 68.7L523.5 68.7L524.8 67.9L526.1 67.9L527.4 67.6L528.7 67.6L530 67.1L531.3 66.7L532.7 66.7L534 66.7L535.3 66.7L536.6 66L538 65.4L539.3 65.4L540.6 65.4L542 65.4L543.3 65.1L544.7 65.1L546 65.1L547.4 64.6L548.7 64.3L550.1 63.7L551.4 63.7L552.8 63.7L554.2 63.7L555.5 63.7L556.9 62.9L558.3 62.8L559.7 62.4L561 62.4L562.4 62.4L563.8 62.4L565.2 62.3L566.6 61.2L568 61.2L569.4 61.2L570.8 61.2L572.2 60.9L573.6 60.8L574.8 60.7L575 60.7L576.4 60.6L577.8 60.4L579.2 59.7L580.7 59.7L582.1 59.7L583.5 59.5L584.9 59.1L586.4 58.9L587.8 58.9L589.2 58.7L590.7 58.4L592.1 57.8L593.6 57.8L595 57.6L596.5 57.6L597.9 57.3L599.4 57.1L600.8 57.1L602.3 56.8L603.8 56.5L605.2 56.3L606.7 56L608.2 55.9L609.7 55.9L611.2 55.8L612.6 55.1L614.1 54.6L615.6 54.6L617.1 54.6L618.6 54.6L620.1 54.6L621.6 53.9L623.1 53.8L624.6 53.7L626.1 53.7L627.7 53.7L629.2 53.7L630.7 53L632.2 53L632.5 53L633.8 53L635.3 52.7L636.8 52.5L638.4 52.5L639.9 52.5L641.4 52.4L643 52L644.5 51.8L646.1 51.8L647.7 51.7L649.2 51.7L650.8 51.7L652.3 51.3L653.9 50.8L655.5 50.8L657.1 50.8L658.6 50.8L660.2 50.7L661.8 50.6L663.4 50.3L665 50.2L666.6 50.2L668.2 50.2L669.8 50.2L671.4 49.6L673 49.4L674.6 49.4L676.2 49.4L677.8 49.4L679.5 49.1L681.1 49.1L682.7 49.1L684.4 49.1L686 49L687.6 48.7L689.3 48.7L690.3 48.7L690.9 48.7L692.6 48.7L694.2 48.3L695.9 48.2L697.5 48.2L699.2 48.2L700.9 48.1L702.5 47.9L704.2 47.9L705.9 47.9L707.6 47.9L709.2 47.9L710.9 47.6L712.6 47.6L714.3 47.3L716 47.3L717.7 47.3L719.4 47.3L721.1 47L722.8 47L724.5 47L726.2 47L728 46.7L729.7 46.7L731.4 46.7L733.2 46.7L734.9 46.4L736.6 46.4L738.4 46.4L740.1 46.4L741.9 46.4L743.6 46.1L745.4 46.1L747.1 46.1L748.1 46.1L748.9 46.1L750.7 46.1L752.4 46L754.2 46L756 46L757.8 46L759.5 46L761.3 46L763.1 45.7L764.9 45.7L766.7 45.7L768.5 45.7L770.3 45.7L772.1 45.7L773.9 45.7L775.8 45.5L777.6 45.5L779.4 45.5L781.2 45.5L783.1 45.5L784.9 45.5L786.7 45.5L788.6 45.5L790.4 45.5L792.3 45.4L794.1 45.4L796 45.4L797.8 45.4L799.7 45.4" stroke="#E50914" stroke-width="2.95" stroke-linecap="square"/>
<path d="M120.2 422.6L799.7 45.4" stroke="#000" stroke-width="2.78" stroke-dasharray="10.28 4.44"/>
</g>
<rect x="120.2" y="26.5" width="679.5" height="396.1" fill="none" stroke="#111" stroke-width="1.11"/>
<g stroke="#111" stroke-width="1.11"><path d="M120.2 422.6v4.9"/><path d="M120.2 422.6h-4.9"/><path d="M256.1 422.6v4.9"/><path d="M120.2 347.2h-4.9"/><path d="M392 422.6v4.9"/><path d="M120.2 271.7h-4.9"/><path d="M527.9 422.6v4.9"/><path d="M120.2 196.3h-4.9"/><path d="M663.8 422.6v4.9"/><path d="M120.2 120.8h-4.9"/><path d="M799.7 422.6v4.9"/><path d="M120.2 45.4h-4.9"/></g>
<g font-family="'DejaVu Sans', 'Liberation Sans', sans-serif" font-size="19.44" letter-spacing="0.56" fill="#000" stroke="#000" stroke-width="0.35"><text x="120.2" y="447.7" text-anchor="middle" letter-spacing="0">0.0</text><text x="110.5" y="430" text-anchor="end" letter-spacing="0">0.0</text><text x="256.1" y="447.7" text-anchor="middle" letter-spacing="0">0.2</text><text x="110.5" y="354.5" text-anchor="end" letter-spacing="0">0.2</text><text x="392" y="447.7" text-anchor="middle" letter-spacing="0">0.4</text><text x="110.5" y="279.1" text-anchor="end" letter-spacing="0">0.4</text><text x="527.9" y="447.7" text-anchor="middle" letter-spacing="0">0.6</text><text x="110.5" y="203.7" text-anchor="end" letter-spacing="0">0.6</text><text x="663.8" y="447.7" text-anchor="middle" letter-spacing="0">0.8</text><text x="110.5" y="128.2" text-anchor="end" letter-spacing="0">0.8</text><text x="799.7" y="447.7" text-anchor="middle" letter-spacing="0">1.0</text><text x="110.5" y="52.8" text-anchor="end" letter-spacing="0">1.0</text><text x="460" y="18.2" text-anchor="middle">ROC curve</text><text x="460" y="472" text-anchor="middle">False Positive Rate</text><text transform="translate(69.4 224.6) rotate(-90)" text-anchor="middle">True Positive Rate</text></g>
<rect x="398.3" y="267.8" width="393.5" height="146" rx="3.1" fill="#fff" fill-opacity="0.8" stroke="#ccc" stroke-opacity="0.8" stroke-width="1.39"/>
<g font-family="'DejaVu Sans', 'Liberation Sans', sans-serif" font-size="15.28" letter-spacing="0.44" fill="#000" stroke="#000" stroke-width="0.30"><path d="M404.8 281.8H437" fill="none" stroke="#E6177A" stroke-width="5.56" stroke-dasharray="5.56 9.17"/><text x="450" y="286.8">micro-average ROC curve (area = 0.873)</text><path d="M404.8 305.3H437" fill="none" stroke="#111E57" stroke-width="5.60" stroke-dasharray="5.60 9.24"/><text x="450" y="310.3">macro-average ROC curve (area = 0.795)</text><path d="M404.8 328.8H437" fill="none" stroke="#52BFCF" stroke-width="2.95" stroke-linecap="square"/><text x="450" y="333.8">Class 0 (area = 0.880)</text><path d="M404.8 352.3H437" fill="none" stroke="#F07F09" stroke-width="2.95" stroke-linecap="square"/><text x="450" y="357.3">Class 1 (area = 0.764)</text><path d="M404.8 375.8H437" fill="none" stroke="#4D7FCB" stroke-width="2.95" stroke-linecap="square"/><text x="450" y="380.8">Class 2 (area = 0.700)</text><path d="M404.8 399.3H437" fill="none" stroke="#E50914" stroke-width="2.95" stroke-linecap="square"/><text x="450" y="404.3">Class 3 (area = 0.836)</text></g>
<clipPath id="cpB"><rect x="1074.4" y="26.5" width="679.5" height="396.1"/></clipPath>
<g clip-path="url(#cpB)" fill="none" stroke-linejoin="round">
<path d="M1072.5 416.9v6.3L1076.7 416.9v6.3M1073.8 403.5v6.3L1078 403.5v6.3M1075.9 390.8v6.3L1080 390.8v6.3M1078.3 378.5v6.3L1082.4 378.5v6.3M1080.1 365.6v6.3L1084.2 365.6v6.3M1081.4 352.2v6.3L1085.6 352.2v6.3M1082.6 338.7v6.3L1086.8 338.7v6.3M1084 325.3v6.3L1088.2 325.3v6.3M1085.8 312.4v6.3L1089.9 312.4v6.3M1087.9 299.7v6.3L1092 299.7v6.3M1090.5 287.7v6.3L1094.7 287.7v6.3M1093.9 276.3v6.3L1098 276.3v6.3M1098.1 265.8v6.3L1102.3 265.8v6.3M1103.1 256.1v6.3L1107.2 256.1v6.3M1108.4 246.6v6.3L1112.5 246.6v6.3M1114.1 237.6v6.3L1118.3 237.6v6.3M1120.5 229.3v6.3L1124.7 229.3v6.3M1126.7 222.8h6.3L1126.7 227h6.3M1134.4 215.8h6.3L1134.4 220h6.3M1142.4 209.1h6.3L1142.4 213.3h6.3M1150.5 202.5h6.3L1150.5 206.7h6.3M1158.8 196.1h6.3L1158.8 200.2h6.3M1167.3 189.9h6.3L1167.3 194h6.3M1175.9 183.7h6.3L1175.9 187.9h6.3M1184.5 177.6h6.3L1184.5 181.8h6.3M1193.2 171.6h6.3L1193.2 175.7h6.3M1202 165.7h6.3L1202 169.9h6.3M1211.1 160.1h6.3L1211.1 164.3h6.3M1220.5 154.7h6.3L1220.5 158.9h6.3M1230 149.5h6.3L1230 153.7h6.3M1239.7 144.5h6.3L1239.7 148.6h6.3M1249.6 139.7h6.3L1249.6 143.8h6.3M1259.7 135h6.3L1259.7 139.2h6.3M1269.8 130.5h6.3L1269.8 134.6h6.3M1280.2 126.1h6.3L1280.2 130.2h6.3M1290.7 121.9h6.3L1290.7 126h6.3M1301.3 117.8h6.3L1301.3 122h6.3M1312.3 114h6.3L1312.3 118.2h6.3M1323.4 110.4h6.3L1323.4 114.5h6.3M1334.5 106.8h6.3L1334.5 110.9h6.3M1345.7 103.3h6.3L1345.7 107.4h6.3M1357 99.9h6.3L1357 104h6.3M1368.6 96.7h6.3L1368.6 100.9h6.3M1380.4 93.9h6.3L1380.4 98h6.3M1392.7 91.4h6.3L1392.7 95.6h6.3M1405.6 89.5h6.3L1405.6 93.7h6.3M1418.7 88h6.3L1418.7 92.1h6.3M1431.7 86.2h6.3L1431.7 90.4h6.3M1444.6 84.4h6.3L1444.6 88.5h6.3M1457.4 82.4h6.3L1457.4 86.6h6.3M1470.1 80.5h6.3L1470.1 84.6h6.3M1482.6 78.3h6.3L1482.6 82.4h6.3M1495 76h6.3L1495 80.1h6.3M1507.5 73.7h6.3L1507.5 77.8h6.3M1520.2 71.6h6.3L1520.2 75.8h6.3M1533.2 70h6.3L1533.2 74.1h6.3M1546.6 68.6h6.3L1546.6 72.8h6.3M1560.1 67.4h6.3L1560.1 71.5h6.3M1573.6 66.1h6.3L1573.6 70.3h6.3M1587 64.9h6.3L1587 69h6.3M1600.4 63.6h6.3L1600.4 67.7h6.3M1613.8 62.3h6.3L1613.8 66.4h6.3M1627.2 60.9h6.3L1627.2 65.1h6.3M1640.6 59.6h6.3L1640.6 63.8h6.3M1654 58.3h6.3L1654 62.4h6.3M1667.4 56.9h6.3L1667.4 61.1h6.3M1680.8 55.6h6.3L1680.8 59.7h6.3M1694.1 54.2h6.3L1694.1 58.3h6.3M1707.5 52.8h6.3L1707.5 57h6.3M1720.8 51.5h6.3L1720.8 55.6h6.3M1733.3 49.3h6.3L1733.3 53.4h6.3M1744.5 45.7h6.3L1744.5 49.9h6.3" fill="none" stroke="#E6177A" stroke-width="2.3" stroke-linejoin="bevel"/>
<path d="M1077 423.7L1078.9 419.2L1073.8 417L1071.8 421.5ZM1082.1 411.1L1083.9 406.5L1078.7 404.5L1076.9 409.1ZM1086.9 398.3L1088.6 393.7L1083.3 391.8L1081.6 396.5ZM1091.4 385.5L1093 380.7L1087.7 378.9L1086.1 383.7ZM1095.7 372.4L1097.2 367.6L1091.8 366L1090.4 370.8ZM1099.6 359.2L1101 354.4L1095.7 352.8L1094.2 357.6ZM1103.8 346.4L1105.5 341.7L1100.3 339.8L1098.6 344.5ZM1108.6 334L1110.7 329.6L1105.6 327.2L1103.5 331.7ZM1114.6 322.6L1117.3 318.6L1112.7 315.5L1110 319.5ZM1122.2 311.9L1124.9 307.9L1120.3 304.7L1117.6 308.7ZM1129.4 300.5L1131.8 296.3L1127 293.5L1124.6 297.8ZM1135.9 289.1L1138.5 285L1133.7 282L1131.2 286.1ZM1143.2 278.6L1146.3 274.9L1142 271.3L1138.9 275ZM1151.7 268.9L1155.1 265.4L1151 261.5L1147.7 265ZM1160.9 259.5L1164.2 256L1160.2 252.1L1156.8 255.6ZM1170 250.1L1173.4 246.8L1169.4 242.8L1166 246.2ZM1179.3 241.1L1182.8 237.8L1179 233.7L1175.5 237ZM1188.9 232.2L1192.5 229L1188.8 224.9L1185.2 228ZM1198.7 223.7L1202.4 220.6L1198.8 216.3L1195.1 219.4ZM1208.8 215.3L1212.5 212.2L1209 207.9L1205.2 210.9ZM1218.9 207.1L1222.7 204.1L1219.3 199.7L1215.5 202.7ZM1229.3 199L1233.1 196.1L1229.7 191.7L1225.9 194.6ZM1239.8 191.2L1243.7 188.4L1240.4 183.9L1236.5 186.7ZM1250.5 183.6L1254.4 180.8L1251.2 176.2L1247.2 179ZM1261.2 176.1L1265.3 173.4L1262.2 168.8L1258.1 171.5ZM1272.2 168.9L1276.3 166.3L1273.4 161.6L1269.2 164.2ZM1283.4 162L1287.6 159.6L1284.8 154.8L1280.6 157.2ZM1294.9 155.4L1299.1 153.1L1296.4 148.2L1292.1 150.5ZM1306.5 149.1L1310.8 146.8L1308.2 141.9L1303.9 144.1ZM1318.3 143L1322.7 140.8L1320.2 135.8L1315.8 138ZM1330.3 137.1L1334.7 135L1332.3 130L1327.8 132.1ZM1342.3 131.4L1346.8 129.3L1344.4 124.3L1340 126.3ZM1354.5 125.9L1359 124L1356.9 118.9L1352.3 120.8ZM1366.9 120.9L1371.5 119.2L1369.6 113.9L1364.9 115.6ZM1379.6 116.4L1384.4 115L1382.7 109.6L1377.9 111.1ZM1392.7 112.5L1397.5 111.2L1396 105.8L1391.2 107.1ZM1405.9 108.9L1410.8 107.7L1409.4 102.2L1404.5 103.5ZM1419.3 105.4L1424.2 104.1L1422.7 98.7L1417.8 100ZM1432.6 101.9L1437.5 100.6L1436.1 95.2L1431.2 96.5ZM1446 98.5L1450.9 97.3L1449.6 91.8L1444.7 93.1ZM1459.4 95.2L1464.4 94L1463.1 88.6L1458.1 89.7ZM1472.9 92L1477.9 90.8L1476.6 85.4L1471.7 86.5ZM1486.4 88.9L1491.4 87.7L1490.2 82.3L1485.2 83.4ZM1500 85.8L1505 84.7L1503.8 79.3L1498.8 80.3ZM1513.6 82.9L1518.6 81.8L1517.5 76.3L1512.5 77.4ZM1527.3 80.1L1532.3 79.1L1531.2 73.6L1526.2 74.6ZM1541 77.4L1546 76.4L1545 70.9L1539.9 71.9ZM1554.7 74.8L1559.8 73.9L1558.8 68.4L1553.7 69.3ZM1568.6 72.3L1573.6 71.4L1572.7 65.9L1567.6 66.8ZM1582.4 69.9L1587.5 69L1586.5 63.5L1581.5 64.4ZM1596.3 67.5L1601.3 66.5L1600.4 61L1595.3 61.9ZM1610.1 65L1615.2 64.1L1614.2 58.5L1609.1 59.4ZM1623.9 62.6L1629 61.7L1628.1 56.2L1623 57ZM1637.8 60.4L1643 59.7L1642.2 54.2L1637.1 54.9ZM1651.9 58.7L1657.1 58.1L1656.5 52.5L1651.3 53.1ZM1666.1 57.2L1671.3 56.7L1670.8 51.2L1665.6 51.7ZM1680.4 55.9L1685.6 55.5L1685.1 49.9L1679.9 50.4ZM1694.7 54.6L1699.9 54.1L1699.4 48.5L1694.1 49ZM1708.9 53.2L1714.2 52.6L1713.6 47.1L1708.4 47.6ZM1723.2 51.7L1728.4 51.1L1727.8 45.5L1722.6 46.1ZM1737.4 50.1L1742.6 49.5L1742 43.9L1736.8 44.5ZM1751.6 48.5L1754.2 48.2L1753.6 42.6L1750.9 42.9Z" fill="#111E57" stroke="none"/>
<path d="M1074.4 422.6L1075.1 419.3L1075.8 416L1076.5 412.7L1077.3 409.3L1078 405.7L1078.7 402L1079.4 398.4L1080.1 394.8L1080.8 390.9L1081.5 386.9L1082.3 383.1L1083 379.8L1083.7 376.9L1083.9 375.9L1084.4 373.5L1085.1 369.3L1085.8 364.4L1086.5 359.8L1087.2 355.6L1088 351.6L1088.7 347.2L1089.4 342.4L1090.1 337.8L1090.8 333.8L1091.5 330.4L1092.1 328.1L1092.3 327.4L1093 324.6L1093.7 322.1L1094.4 319.6L1095.1 316.6L1095.8 313L1096.5 309.3L1097.3 306.1L1098 303.7L1098 303.7L1098.7 301.7L1099.4 299.7L1100.1 297.4L1100.9 295.2L1101.6 292.9L1102.3 290.2L1103 287.2L1103.7 284.3L1104.4 282.2L1105 281.2L1105.2 281L1105.9 279.6L1106.6 277.2L1107.3 273.9L1108 270.8L1108.8 268.7L1109.5 267.4L1110.2 266L1110.9 263.9L1111.6 261.3L1112.4 258.8L1113.1 256.8L1113.1 256.7L1113.8 255.3L1114.5 254.1L1115.3 253.2L1116 252.6L1116.7 251.5L1117.4 249.4L1118.2 246.5L1118.9 243.9L1119.6 242.3L1120.3 241.9L1121.1 241.9L1121.8 241.4L1122.5 240.3L1123.2 238.8L1124 237L1124.7 235L1125 234.1L1125.4 233.1L1126.1 231.7L1126.9 230.8L1127.6 229.9L1128.3 228.6L1129.1 226.9L1129.8 225.4L1130.5 224.7L1131.3 224.3L1132 223.3L1132.7 221.4L1133.5 219.2L1134.2 217.5L1134.9 216.3L1135.7 215.3L1136.4 214L1137.1 213L1137.9 212.5L1138.6 212.2L1139 211.9L1139.3 211.3L1140.1 209.3L1140.8 207L1141.6 205.1L1142.3 204.1L1143 203.4L1143.8 202.6L1144.5 201.5L1145.3 200.5L1146 199.7L1146.8 198.7L1147.5 197.5L1148.2 196.3L1149 195.1L1149.7 193.7L1150.5 192.1L1151.2 190.5L1152 189.5L1152.7 189.3L1153.5 189.1L1154.2 188.2L1154.6 187.5L1155 186.8L1155.7 185.6L1156.5 185L1157.2 184.4L1158 183.2L1158.7 181.3L1159.5 179.7L1160.2 178.9L1161 178.5L1161.8 178L1162.5 177.4L1163.3 176.9L1164 176.5L1164.8 175.5L1165.5 173.8L1166.3 172L1167.1 171L1167.8 170.8L1168.6 170.7L1169.4 169.8L1170.1 168.6L1170.9 167.5L1171.7 166.9L1172.4 166.4L1173.2 165.8L1174 165.1L1174.7 164.5L1175.5 163.7L1175.6 163.5L1176.3 162.6L1177 161.4L1177.8 160.8L1178.6 160.5L1179.4 160.2L1180.1 159.3L1180.9 158.3L1181.7 157.7L1182.5 157.4L1183.3 156.9L1184 156.2L1184.8 155.6L1185.6 155.3L1186.4 154.9L1187.2 153.6L1187.9 151.9L1188.7 150.8L1189.5 150.8L1190.3 150.8L1191.1 150.8L1191.9 150.8L1192.7 150L1193.5 148.9L1194.3 147.9L1195 147L1195.8 146.3L1196.6 146.2L1197.4 146.2L1198.2 146L1199 145.5L1199.8 144.9L1200.6 144.4L1201.4 143.6L1202.2 142.3L1203 141.1L1203.8 140.6L1204.6 140.5L1205.4 140.4L1206.2 140L1206.3 140L1207.1 139.9L1207.9 139.7L1208.7 139L1209.5 137.4L1210.3 135.5L1211.1 134.6L1211.9 134.5L1212.8 134.5L1213.6 134.5L1214.4 134.5L1215.2 134.3L1216 133.4L1216.8 131.6L1217.7 129.9L1218.5 129.3L1219.3 129.3L1220.1 129.3L1221 128.8L1221.8 127.8L1222.6 127.4L1223.5 127.1L1224.3 126.6L1225.1 125.8L1226 125L1226.8 124.1L1227.6 123.1L1228.5 122.4L1229.3 122.2L1230.2 122.2L1231 121.9L1231.8 120.9L1232.7 120.1L1233.5 119.6L1234.4 119.1L1235.2 118.3L1236.1 117.8L1236.9 117.8L1237.8 117.7L1238.6 116.6L1239.5 115.2L1239.5 115.2L1240.3 114.6L1241.2 114.6L1242.1 114.6L1242.9 114.4L1243.8 113.7L1244.6 113.4L1245.5 113.2L1246.4 112.5L1247.2 111.5L1248.1 110.7L1249 110L1249.8 109.5L1250.7 109.3L1251.6 109.3L1252.5 109.3L1253.3 109.3L1254.2 108.4L1255.1 107.4L1256 106.6L1256.9 105.8L1257.7 105.1L1258.6 105.1L1259.5 105.1L1260.4 105.1L1261.3 105L1262.2 104.5L1263.1 104L1264 102.9L1264.9 101.8L1265.8 101.4L1266.7 101.4L1267.5 101.4L1268.5 100.9L1269.4 100.1L1270.3 100L1271.2 100L1272.1 100L1273 99.3L1273.9 98.7L1274.8 98.1L1275.7 97.4L1276.6 96.8L1277.5 96.8L1278.5 96.8L1279.4 96.4L1280.3 96.1L1281.2 96.1L1282.1 96L1283.1 95.6L1284 94.9L1284.9 94.1L1285.9 93L1286.8 92.4L1287.7 92.4L1288.7 92.4L1289.6 92.4L1290.5 92.4L1291.2 92.4L1291.5 92.3L1292.4 91.7L1293.4 91.4L1294.3 91.1L1295.3 90.9L1296.2 90.9L1297.2 90.9L1298.1 90.9L1299.1 90.9L1300 90.9L1301 90.2L1301.9 89L1302.9 88.6L1303.8 88.6L1304.8 88.6L1305.8 88.6L1306.7 88.6L1307.7 88.5L1308.7 88.1L1309.7 88L1310.6 88L1311.6 87.9L1312.6 87.3L1313.6 87.1L1314.5 87.1L1315.5 87.1L1316.5 86.8L1317.5 86.7L1318.5 86.6L1319.5 86.1L1320.5 85.9L1321.5 85.9L1322.5 85.9L1323.5 85.6L1324.5 84.9L1325.5 84.8L1326.5 84.8L1327.5 84.8L1328.5 84.8L1329.5 84.8L1330.5 84.8L1331.5 84.3L1332.5 83.8L1333.5 83.2L1334.6 83L1335.6 83L1336.6 83L1337.6 83L1338.7 83L1339.7 82.7L1340.7 82.5L1341.8 82.2L1342.8 82L1343.8 81.9L1344.9 81.7L1345.9 81.4L1346.9 81.4L1348 81.4L1349 81L1349.9 80.5L1350.1 80.5L1351.1 80.5L1352.2 80.5L1353.2 79.6L1354.3 79L1355.4 79L1356.4 79L1357.5 79L1358.5 79L1359.6 78.8L1360.7 77.6L1361.7 77L1362.8 76.9L1363.9 76.9L1365 76.9L1366 76.9L1367.1 76.8L1368.2 76.4L1369.3 76.3L1370.4 75.2L1371.5 73.9L1372.6 73.9L1373.7 73.9L1374.8 73.9L1375.9 73.9L1377 73.9L1378.1 73.2L1379.2 72.8L1380.3 72.8L1381.4 72.6L1382.5 72.1L1383.6 71.9L1384.7 71.9L1385.8 71.7L1387 71.6L1388.1 71.4L1389.2 70.7L1390.3 70.1L1391.5 70L1392.6 69.7L1393.7 69.6L1394.9 69.6L1396 69.6L1397.1 69.6L1398.3 69.3L1399.2 68.8L1399.4 68.6L1400.6 67.9L1401.7 67.9L1402.9 67.9L1404 67.9L1405.2 67.9L1406.3 67.9L1407.5 67.9L1408.7 67.4L1409.8 67.3L1411 67.3L1412.2 67.3L1413.3 67.3L1414.2 67.3L1414.5 67.3L1415.7 67.3L1416.9 66.9L1418 66.5L1419.2 66.5L1420.4 66.5L1421.6 66.5L1422.8 66.5L1424 66.4L1425.2 66.4L1426.4 66.3L1427.6 66.1L1428.8 65.9L1430 65.6L1431.2 65.6L1432.4 65.6L1433.6 65.6L1434.8 65.6L1436.1 65.3L1437.3 64.8L1438.5 64.8L1439.7 64.8L1441 64.8L1442.2 64.8L1443.4 64.8L1444.7 64.4L1445.9 64.3L1447.1 64.1L1448.4 64L1449.6 64L1450.9 64L1452.1 63.7L1453.4 63.6L1454.6 63.6L1455.9 63.5L1457.1 63.4L1458.4 63.1L1459.7 62.8L1460.9 62.8L1462.2 62.8L1463.5 62.8L1464.8 62.6L1466 62.4L1467.3 62.3L1468.6 61.9L1469.9 61.4L1471.2 61.4L1471.9 61.4L1472.5 61.4L1473.8 61.4L1475.1 61L1476.4 60.7L1477.7 60.7L1479 60.7L1480.3 60.7L1481.6 60.7L1482.9 60.7L1484.2 60.2L1485.5 59.3L1486.9 59.3L1488.2 59.3L1489.5 59.3L1490.8 59.3L1492.2 58.9L1493.5 58.7L1494.8 58.6L1496.2 58.4L1497.5 58.4L1498.9 58.1L1500.2 58L1501.6 58L1502.9 57.6L1504.3 57.5L1505.6 57.3L1507 56.6L1508.4 56.6L1509.7 56.6L1510 56.6L1511.1 56.6L1512.5 56.6L1513.9 56.1L1515.2 56L1516.6 56L1518 56L1519.4 56L1520.8 56L1522.2 55.4L1523.6 55.4L1525 55.4L1526.4 55.4L1527.8 55.4L1529.2 55.3L1530.6 55.3L1532 55.1L1533.4 54.7L1534.9 54.7L1536.3 54.7L1537.7 54.7L1539.1 54.7L1540.6 54.6L1542 54.6L1543.4 54.3L1544.9 54.1L1546.3 54.1L1547.8 54.1L1549.2 54.1L1550.7 53.7L1552.1 53.7L1553.6 53.7L1555 53.7L1556.5 53.7L1558 53.7L1559.4 53.3L1560.9 53L1562.4 53L1563.9 53L1565.4 53L1566.8 52.9L1567.7 52.8L1568.3 52.8L1569.8 52.8L1571.3 52.8L1572.8 52.8L1574.3 52.6L1575.8 52.4L1577.3 52.4L1578.8 52.4L1580.3 52.3L1581.9 52.2L1583.4 51.7L1584.9 51.7L1586.4 51.7L1588 51.7L1589.5 51.7L1591 51.2L1592.6 51.2L1594.1 51.2L1595.6 51.2L1597.2 51.1L1598.7 51L1600.3 51L1601.9 50.7L1603.4 50.7L1605 50.7L1606.5 50.6L1608.1 50.6L1609.7 50.4L1611.3 50.2L1612.8 50L1614.4 50L1616 50L1617.6 50L1619.2 49.7L1620.8 49.6L1622.4 49.6L1624 49.6L1624.8 49.6L1625.6 49.6L1627.2 49.6L1628.8 49.4L1630.4 49.2L1632 49.2L1633.7 49.2L1635.3 49.2L1636.9 49.1L1638.6 49L1640.2 49L1641.8 49L1643.5 48.7L1645.1 48.7L1646.8 48.7L1648.4 48.7L1650.1 48.6L1651.7 48.6L1653.4 48.6L1655.1 48.6L1656.7 48.6L1658.4 48.1L1660.1 48.1L1661.8 48.1L1663.4 48.1L1665.1 48L1666.8 48L1668.5 48L1670.2 48L1671.9 48L1673.6 48L1675.3 47.7L1677 47.7L1678.7 47.7L1680.4 47.7L1682.2 47.5L1682.6 47.5L1683.9 47.5L1685.6 47.5L1687.4 47.5L1689.1 47.5L1690.8 47.2L1692.6 47.2L1694.3 47.2L1696.1 47.2L1697.8 47.2L1699.6 47.2L1701.3 47.1L1703.1 47.1L1704.9 47L1706.6 46.9L1708.4 46.9L1710.2 46.9L1712 46.6L1713.7 46.6L1715.5 46.6L1717.3 46.5L1719.1 46.5L1720.9 46.5L1722.7 46.5L1724.5 46.5L1726.3 46.2L1728.1 46L1730 46L1731.8 46L1733.6 45.9L1735.4 45.9L1737.3 45.9L1739.1 45.9L1740.9 45.8L1742.8 45.7L1744.6 45.7L1746.5 45.7L1748.3 45.6L1750.2 45.5L1752 45.5L1753.9 45.4" stroke="#52BFCF" stroke-width="2.95" stroke-linecap="square"/>
<path d="M1074.4 422.6L1075.1 421.3L1075.8 420.1L1076.5 418.9L1077.3 417.7L1078 416.5L1078.7 415.7L1079.4 415.1L1080.1 414.1L1080.8 412.3L1081.5 410.3L1082.3 408.9L1083 408.1L1083.7 407.2L1084.4 405.8L1085.1 404.4L1085.8 403.6L1086.5 403.2L1087.2 402L1088 400L1088.5 398.3L1088.7 397.9L1089.4 396.8L1090.1 396.2L1090.8 395.3L1091.5 393.9L1092.3 392.9L1093 392.8L1093.7 392.4L1094.4 390.7L1095.1 387.8L1095.8 384.9L1096.5 383.2L1097.3 382.4L1098 381.7L1098.7 380.9L1099.4 380.5L1100.1 380.5L1100.9 380.4L1101.6 379.2L1102.3 377L1102.7 375.7L1103 374.7L1103.7 372.9L1104.4 371.7L1105.2 370.6L1105.9 369.7L1106.6 369.3L1107.3 369.3L1108 369.3L1108.8 368.7L1109.5 367.5L1110.2 365.7L1110.9 363.6L1111.6 361.9L1112.4 361.1L1113.1 361.1L1113.8 361.1L1114.5 361.1L1115.3 360.7L1116 359L1116.7 357.4L1117.4 355.8L1118.2 354.1L1118.9 352.3L1119.6 351.4L1120.3 351.4L1120.3 351.4L1121.1 351.4L1121.8 350.9L1122.5 348.9L1123.2 347.3L1124 346.5L1124.7 345.7L1125.4 343.8L1126.1 340.9L1126.9 338.6L1127.6 337.6L1128.3 337.1L1129.1 335.9L1129.8 334.3L1130.5 333.1L1131.3 332.6L1132 331.7L1132.7 329.7L1133.3 328L1133.5 327.6L1134.2 326.9L1134.9 326.9L1135.7 326.9L1136.4 325.1L1137.1 322.6L1137.9 320.9L1138.6 320.1L1139.3 319L1140.1 317.6L1140.8 317L1141.6 317L1142.3 317L1143 317L1143.8 315.5L1144.5 313.1L1145.3 312.2L1146 311.8L1146.8 310.3L1147.5 308.2L1148.2 307.4L1149 307.4L1149.7 307.4L1150.5 307.4L1151.2 306.1L1152 305.2L1152.1 305.2L1152.7 305.2L1153.5 305L1154.2 302.9L1155 300.4L1155.7 299.3L1156.5 299.3L1157.2 299.3L1158 298.5L1158.7 297.6L1159.5 297.4L1160.2 297.4L1161 296.7L1161.8 295.1L1162.5 294L1163.3 293.7L1164 293.5L1164.8 292.4L1165.5 290.9L1166.3 289.6L1167.1 288.8L1167.8 288.4L1168.6 288.2L1169.4 288.2L1170.1 288.2L1170.9 288L1171.7 286.4L1172.4 284.4L1173.2 282.9L1174 282.2L1174.7 281.9L1175.5 281.5L1175.6 281.4L1176.3 280.9L1177 280.3L1177.8 279.4L1178.6 278.2L1179.4 277.2L1180.1 276.8L1180.9 276.5L1181.7 275.7L1182.5 274.4L1183.3 273.1L1184 272.1L1184.8 271.2L1185.6 270.5L1186.4 270L1187.2 269.1L1187.9 267.6L1188.7 265.9L1189.5 265.2L1190.3 265.2L1191.1 265.2L1191.9 265.2L1192.7 263.3L1193.5 261.6L1194.3 260.2L1195 258.5L1195.8 256.8L1196.6 256.3L1196.7 256.3L1197.4 256.3L1198.2 256.3L1199 256.3L1199.8 254L1200.6 252.7L1201.4 252.3L1202.2 251L1203 248.4L1203.8 246.3L1204.6 246L1205.4 246L1206.3 245.9L1207.1 244.6L1207.9 243.8L1208.7 243.3L1209.5 241.5L1210.3 238.5L1211.1 236.4L1211.9 236.2L1212.8 236.2L1213.6 236L1214.4 235L1214.4 235L1215.2 234.8L1216 234.6L1216.8 233.1L1217.7 230.6L1218.5 228.9L1219.3 228.3L1220.1 227.6L1221 226.6L1221.8 226.2L1222.6 226.2L1223.5 226.2L1224.3 224.8L1225.1 222.7L1226 221.7L1226.8 221.5L1227.6 220.4L1228.5 218.9L1229.3 218.3L1230.2 218.3L1231 218.2L1231.8 216.9L1232.7 215.8L1233.5 215.3L1234.4 214.6L1235.2 213.2L1236.1 212L1236.9 211.9L1237.8 211.9L1238.6 211.9L1239.3 210.9L1239.5 210.6L1240.3 209.3L1241.2 208.7L1242.1 208.5L1242.9 207.9L1243.8 207.2L1244.6 206.7L1245.5 206.3L1246.4 205.7L1247.2 205L1248.1 204.7L1249 204.7L1249.8 204.4L1250.7 203.4L1251.6 202.2L1252.5 201.5L1253.3 201.4L1254.2 201.1L1255.1 200.7L1256 200.2L1256.9 199.9L1257.7 199.5L1258.6 199L1259.5 198.7L1260.4 198.5L1261.3 197.9L1262.2 197L1263.1 196.3L1264 195.8L1264.9 195.4L1265.8 194.8L1266.7 194.6L1267.5 194.6L1268.5 194.5L1269.4 194L1270.3 193.7L1271.2 193.6L1272.1 192.7L1273 191.1L1273.9 189.8L1274.8 189.5L1275.7 189.5L1276.6 189.5L1277.5 189.5L1278.5 189.5L1279.4 189.5L1280.3 188.1L1281.2 186.5L1281.6 186.2L1282.1 186.2L1283.1 186L1284 184.9L1284.9 183.9L1285.9 183.9L1286.8 183.9L1287.7 183.8L1288.7 183.5L1289.6 183.5L1290.5 182.8L1291.5 180.7L1292.4 179.3L1293.4 179.3L1294.3 179L1295.3 177.8L1296.2 177L1297.2 177L1298.1 177L1299.1 177L1300 177L1301 175.7L1301.9 173.5L1302.9 171.7L1303.8 171.7L1304.8 171.7L1305.8 171.7L1306.7 171.6L1307.7 171L1308.7 170.3L1309.7 169.1L1310.6 168.7L1311.6 168.7L1312.6 167.7L1313.6 166.3L1314.5 166.3L1315.5 166.3L1316.5 165.2L1317.5 163.4L1318.5 163.1L1319.4 163.1L1319.5 163.1L1320.5 162.7L1321.5 162.4L1322.5 162.4L1323.5 161.3L1324.5 159.4L1325.5 158.7L1326.5 158.7L1327.5 157.8L1328.5 156.7L1329.5 156.7L1330.5 156.7L1331.5 156.2L1332.5 155.3L1333.5 154.4L1334.6 153.3L1335.6 152.3L1336.6 151.8L1337.6 151.4L1338.7 151L1339.7 150.4L1340.7 149.5L1341.8 148.6L1342.8 148.1L1343.8 147.7L1344.9 147.5L1345.9 147.2L1346.9 146.1L1348 144.4L1349 143.2L1350.1 142.9L1351.1 142.9L1352.2 142.9L1353.2 142.9L1354.3 142.2L1355.4 140.9L1356.4 140L1357.1 139.4L1357.5 138.9L1358.5 137.7L1359.6 137.7L1360.7 137.7L1361.7 137.7L1362.8 137L1363.9 136.5L1365 134.9L1366 134L1367.1 134L1368.2 134L1369.3 133L1370.4 132.3L1371.5 132.3L1372.6 130.7L1373.7 130.3L1374.8 130.3L1375.9 130.3L1377 129.3L1378.1 129.3L1379.2 128.8L1380.3 126.7L1381.4 126.2L1382.5 125.9L1383.6 125L1384.7 125L1385.8 125L1387 125L1388.1 124.4L1389.2 123.6L1390.3 121.8L1391.5 121L1392.6 121L1393.7 121L1394.9 121L1396 121L1397.1 120.9L1398.3 119L1399.4 118.6L1400.6 118.3L1401.7 117.8L1402.9 117.8L1404 117.2L1405.2 116.5L1406.3 116.5L1407.5 116.5L1408.7 116.5L1408.7 116.5L1409.8 115.2L1411 114.4L1412.2 114.4L1413.3 114.4L1414.2 114.4L1414.5 114.4L1415.7 114.4L1416.9 114.4L1418 114L1419.2 113.2L1420.4 112.3L1421.6 111.6L1422.8 111.6L1424 111.6L1425.2 111.4L1426.4 110.9L1427.6 110.9L1428.8 110.8L1430 110.8L1431.2 109.8L1432.4 108.3L1433.6 108.3L1434.8 108.3L1436.1 108.3L1437.3 108.3L1438.5 107.7L1439.7 106.6L1441 106.6L1442.2 106L1443.4 105.7L1444.7 105.7L1445.9 105.3L1447.1 103.9L1448.4 103.9L1449.6 103.7L1450.9 103.7L1452.1 103.7L1452.2 103.7L1453.4 102.5L1454.6 101.5L1455.9 101.5L1457.1 100.9L1458.4 100.9L1459.7 100.9L1460.9 100.3L1462.2 99.9L1463.5 99.3L1464.8 98.4L1466 98.4L1467.3 98.2L1468.6 98L1469.9 97.9L1471.2 96.7L1472.5 96L1473.8 95.7L1475.1 95.3L1476.4 95.3L1477.7 94.8L1479 94.2L1480.3 93.7L1481.6 92.7L1482.9 92.3L1484.2 92.3L1485.5 92.3L1486.9 91.5L1488.2 90.2L1489.5 89.7L1490.8 89.5L1490.9 89.5L1492.2 89.5L1493.5 89.5L1494.8 88L1496.2 87.5L1497.5 86.8L1498.9 85.9L1500.2 85.9L1501.6 85.3L1502.9 84.1L1504.3 84.1L1505.6 83.2L1507 83.2L1508.4 83.1L1509.7 81.6L1510 81.4L1511.1 81.2L1512.5 80.6L1513.9 80.6L1515.2 80.6L1516.6 80.5L1518 79.4L1519.4 78.8L1520.8 78.8L1522.2 78.8L1523.6 78.8L1525 78.8L1526.4 78.3L1527.8 77.1L1529.2 77.1L1530.6 77.1L1532 77.1L1533.4 77.1L1534.9 76.3L1536.3 76.3L1537.7 76.3L1539.1 75.4L1540.6 75.4L1542 75.4L1543.4 75.4L1544.9 75.1L1546.3 74.1L1547.8 74.1L1548.7 74.1L1549.2 74.1L1550.7 74.1L1552.1 74.1L1553.6 73.5L1555 72.6L1556.5 72.3L1558 72.3L1559.4 72.3L1560.9 71.5L1562.4 71.4L1563.9 71.4L1565.4 71.2L1566.8 70.2L1568.3 69.5L1569.8 69.5L1571.3 69.5L1572.8 69.5L1574.3 68.9L1575.8 68.1L1577.3 68.1L1578.8 68L1580.3 67.7L1581.9 67.5L1583.4 66.9L1584.9 66.9L1586.4 66.8L1586.7 66.6L1588 66.1L1589.5 65.6L1591 65.6L1592.6 65.6L1594.1 65.6L1595.6 64.8L1597.2 64.6L1598.7 64.6L1600.3 64.6L1601.9 63.8L1603.4 63.8L1605 63.8L1606.5 63.8L1608.1 63.4L1609.7 62.4L1611.3 62.2L1612.8 62.2L1614.4 62.2L1616 62.2L1617.6 61.5L1619.2 60.9L1620.8 60.9L1622.4 60.9L1624 60.9L1625.6 60.9L1627.2 60.4L1628.8 60.4L1630.4 60.3L1632 60.2L1633.7 60.2L1635.3 60.1L1636.9 59.5L1638.6 59.4L1640.2 59.4L1641.8 59.2L1643.5 59L1644.5 58.8L1645.1 58.7L1646.8 58.3L1648.4 58.3L1650.1 58.3L1651.7 57.8L1653.4 57.4L1655.1 57.4L1656.7 57.4L1658.4 57.1L1660.1 57.1L1661.8 57.1L1663.4 56.9L1665.1 56.3L1666.8 56.3L1668.5 56.2L1670.2 56.2L1671.9 56L1673.6 55.5L1675.3 54.9L1677 54.9L1678.7 54.9L1680.4 54.9L1682.2 54.6L1683.9 54.6L1685.6 54.6L1687.4 54.6L1689.1 54.4L1690.8 54.4L1692.6 54L1694.3 53.9L1696.1 53.5L1697.8 53.5L1699.6 53.5L1701.3 53.2L1702.3 53.1L1703.1 52.8L1704.9 52.8L1706.6 52.8L1708.4 52.3L1710.2 52.2L1712 52.2L1713.7 52.1L1715.5 51.7L1717.3 51.4L1719.1 51.4L1720.9 51.4L1722.7 51.2L1724.5 50.5L1726.3 50.5L1728.1 50.4L1730 50.2L1730.8 50L1731.8 49.8L1733.6 49.6L1735.4 49.3L1737.3 49L1739.1 48.6L1740.9 48.3L1742.8 48L1744.6 47.4L1746.5 47.1L1748.3 46.7L1750.2 46.3L1752 45.8L1753.9 45.4" stroke="#F07F09" stroke-width="2.95" stroke-linecap="square"/>
<path d="M1074.4 422.6L1075.1 421.6L1075.8 420.4L1076.5 419.3L1077.3 418.6L1078 418L1078.7 417L1079.4 415.7L1080.1 414.7L1080.8 413.9L1081.5 413.1L1082.3 412.4L1083 411.6L1083.7 410.3L1084.4 408.3L1085.1 406.7L1085.8 406.3L1086.5 406.3L1087.2 405.6L1088 404.3L1088.7 403.5L1089.4 403.4L1090.1 403.2L1090.8 402.2L1091.5 400.5L1092.1 399.1L1092.3 398.6L1093 396.8L1093.7 395.5L1094.4 394.9L1095.1 394.9L1095.8 394.9L1096.5 394L1097.3 392.8L1098 392.2L1098.7 392.1L1099.4 391.4L1100.1 390.1L1100.9 389.1L1101.6 387.9L1102.3 385.8L1103 383.3L1103.7 382.4L1104.4 382.4L1105.2 382.4L1105.9 382.4L1106.6 382.4L1107.3 382.4L1108 380.4L1108.8 377.8L1109.5 376.9L1110.2 376.9L1110.9 376.9L1111.6 375L1112.1 374.1L1112.4 373.9L1113.1 373.9L1113.8 373.9L1114.5 373.3L1115.3 372L1116 371.3L1116.7 370.1L1117.4 368.5L1118.2 368L1118.9 368L1119.6 366.7L1120.3 364.3L1121.1 363.4L1121.8 363.4L1122.5 363.4L1123.2 362.9L1124 361.2L1124.7 360.4L1125.4 359.6L1126.1 358.4L1126.9 358L1127.6 357.8L1128.3 356.4L1129.1 354.6L1129.8 354.2L1130.5 354.2L1131.3 354L1132 351.8L1132.2 351.4L1132.7 350.3L1133.5 350.2L1134.2 350.1L1134.9 349.5L1135.7 348.7L1136.4 347.6L1137.1 346.2L1137.9 345L1138.6 344.8L1139.3 344.8L1140.1 344.3L1140.8 342.9L1141.6 341.8L1142.3 341.3L1143 340.7L1143.8 339.4L1144.5 338.1L1145.3 337.4L1146 337.1L1146.8 336.7L1147.5 336.1L1148.2 335.8L1149 335.5L1149.7 334.4L1150.5 332.9L1151.2 331.7L1152 330.5L1152.7 329L1153.5 328.2L1154.2 328.2L1154.6 328.2L1155 328.2L1155.7 328.2L1156.5 327.3L1157.2 326.7L1158 325.8L1158.7 323.8L1159.5 322.2L1160.2 322L1161 321.9L1161.8 320.9L1162.5 320.2L1163.3 319.8L1164 318.6L1164.8 317.1L1165.5 317.1L1166.3 317.1L1167.1 317L1167.8 313.7L1168.6 311.9L1169.4 311.9L1170.1 311.9L1170.9 311.9L1171.7 311.9L1172.4 311L1173.2 308.5L1174 307.3L1174.7 307.3L1175.5 307.3L1176.3 306.2L1177 305L1177.8 305L1178.1 305L1178.6 305L1179.4 304L1180.1 303L1180.9 302L1181.7 300.7L1182.5 300.3L1183.3 300.3L1184 300.3L1184.8 300L1185.6 298.5L1186.4 297.9L1187.2 297.4L1187.9 296.4L1188.7 296L1189.5 296L1190.3 296L1191.1 295.3L1191.9 294.5L1192.7 293.7L1193.5 293L1194.3 292.5L1195 292.3L1195.8 291.8L1196.6 290.5L1197.4 289.5L1198.2 289.5L1199 289.5L1199.8 289.5L1200.6 288.7L1201.4 287.9L1202.2 287.1L1203 286L1203.8 285L1204.6 284.8L1205.4 284.5L1206.3 284.1L1207.1 284.1L1207.9 283.9L1208.7 282.3L1209.5 280.9L1209.6 280.8L1210.3 280.8L1211.1 280.8L1211.9 279.2L1212.8 277.6L1213.6 277.4L1214.4 277.1L1215.2 276.5L1216 276.5L1216.8 275.6L1217.7 273.5L1218.5 273L1219.3 273L1220.1 273L1221 271.1L1221.8 270L1222.6 269.1L1223.5 267.1L1224.3 266.3L1225.1 266.3L1226 266.3L1226.8 266.3L1227.6 266.3L1228.5 265.2L1229.3 262.5L1230.2 261.2L1231 261.1L1231.8 259.7L1232.7 257.9L1233.5 257.9L1234.4 257.9L1234.8 257.9L1235.2 257.9L1236.1 257.6L1236.9 256.7L1237.8 255L1238.6 253.8L1239.5 253.2L1240.3 251.3L1241.2 249.1L1242.1 248.9L1242.9 248.9L1243.8 248.9L1244.6 248.9L1245.5 247.4L1246.4 246L1247.2 244.8L1248.1 244L1249 243.2L1249.8 242.2L1250.7 241.4L1251.6 240.8L1252.5 239.3L1253.3 237.6L1254.2 237.6L1255.1 237.6L1256 237.6L1256.9 236.2L1257.7 234.1L1258.2 233.4L1258.6 232.9L1259.5 232.6L1260.4 232.6L1261.3 232.3L1262.2 230.5L1263.1 230.5L1264 230.5L1264.9 230.4L1265.8 228.9L1266.7 228.2L1267.5 226.8L1268.5 225.6L1269.4 225.6L1270.3 225.4L1271.2 224.5L1272.1 224.5L1273 224.5L1273.9 223L1274.8 222.6L1275.7 222.3L1276.6 220.4L1277.5 219.7L1278.5 219.7L1279.4 219.3L1280.3 218.5L1281.2 218.3L1282.1 217.2L1283.1 216.8L1284 216.8L1284.9 215.6L1285.9 214.1L1286.8 214.1L1287.7 213.1L1288.7 211.4L1289.6 211.2L1290.5 211.2L1291.2 211.2L1291.5 211.2L1292.4 210.5L1293.4 208.8L1294.3 206.9L1295.3 206.5L1296.2 205.6L1297.2 203.4L1298.1 203L1299.1 203L1300 203L1301 201.4L1301.9 198.5L1302.9 197.4L1303.8 197.4L1304.8 197.4L1305.8 195.5L1306.7 193.4L1307.7 193.4L1308.7 193.4L1309.7 192.3L1310.6 190.6L1311.6 189.2L1312.6 187.7L1313.6 187.7L1314.5 187.7L1314.7 187.7L1315.5 187L1316.5 186.7L1317.5 184.8L1318.5 182.5L1319.5 182.5L1320.5 182.5L1321.5 181.8L1322.5 181.5L1323.5 180.2L1324.5 178.8L1325.5 178.8L1326.5 178L1327.5 177.2L1328.5 177.2L1329.5 175.6L1330.5 174.7L1331.5 174.7L1332.5 173.8L1333.5 173L1334.6 172.9L1335.6 171.6L1336.6 170.9L1337.6 170.1L1338.7 169.4L1339.7 169.4L1340.7 169.4L1341.8 167.3L1342.8 167L1343.8 167L1344.9 166.2L1345.9 164.8L1346.9 163.9L1348 163.9L1349 163.9L1350.1 163.9L1350.1 163.9L1351.1 162.5L1352.2 161.6L1353.2 160.6L1354.3 160.1L1355.4 160.1L1356.4 160.1L1357.5 160.1L1358.5 160L1359.6 158.8L1360.7 157.5L1361.7 155.9L1362.8 155.3L1363.9 155.3L1365 155.3L1366 155.3L1367.1 155.2L1368.2 154.5L1369.3 154.1L1370.4 153.3L1371.5 151.9L1372.6 151.9L1373.7 151.9L1374.8 151.6L1375.9 151.6L1377 151L1378.1 149.9L1379.2 149.4L1380.3 148.8L1381.4 148.8L1382.5 148L1383.6 147.9L1384.7 147.9L1385.8 147.2L1387 146.7L1388.1 146.2L1389.2 145.3L1390.3 144.8L1391.5 144.2L1392.6 144.2L1393.7 144.2L1394.9 143.5L1396 142.4L1397.1 141.8L1398.3 141.8L1399.4 141.8L1400.6 141.6L1401.7 140.7L1402.9 140.2L1404 140L1404.2 140L1405.2 139.6L1406.3 138.3L1407.5 137.9L1408.7 137.9L1409.8 137.8L1411 137.2L1412.2 136.4L1413.3 135.8L1414.2 135.8L1414.5 135.8L1415.7 135L1416.9 134.9L1418 134L1419.2 133.9L1420.4 133.9L1421.6 132.7L1422.8 132.1L1424 132L1425.2 131.8L1426.4 130.8L1427.6 130.4L1428.8 130.4L1430 130.4L1431.2 128.5L1432.4 128.3L1433.6 128.3L1434.8 128.3L1436.1 127.6L1437.3 127.6L1438.5 127.5L1439.7 125.9L1441 125.6L1442.2 125.4L1443.4 125.4L1444.7 124.8L1445.9 124.7L1447.1 124.4L1448.4 124L1449.6 123.2L1450.9 121.8L1452.1 121.8L1452.2 121.8L1453.4 121.8L1454.6 121.6L1455.9 121.1L1457.1 120.8L1458.4 120.7L1459.7 119.8L1460.9 119L1462.2 118.1L1463.5 118.1L1464.8 118.1L1466 117.7L1467.3 116.6L1468.6 116.4L1469.9 116.4L1471.2 115.5L1472.5 115.3L1473.8 115.3L1475.1 114.1L1476.4 114.1L1477.7 113.8L1479 113.6L1480.3 112.3L1481.6 112.3L1482.9 111.7L1484.2 111.7L1485.5 111.7L1486.9 110.9L1488.2 110.9L1489.5 110L1490.8 109.3L1490.9 109.2L1492.2 109L1493.5 109L1494.8 109L1496.2 108.3L1497.5 108.2L1498.9 108.1L1500.2 107.6L1501.6 107.6L1502.9 107.6L1504.3 107.2L1505.6 106.7L1507 106.5L1508.4 106.5L1509.7 106.3L1511.1 105.5L1512.5 105.5L1513.9 105.5L1515.2 105.3L1516.6 104.9L1518 104.9L1519.4 104.6L1520.8 104.6L1522.2 104.5L1523.6 104.5L1525 103.6L1526.4 103.6L1527.8 102.7L1529.2 102.7L1530.6 102.7L1532 102.7L1533.4 101.6L1534.9 101.6L1536.3 101L1537.7 101L1539.1 99.3L1539.2 99.3L1540.6 99.3L1542 99.3L1543.4 98.7L1544.9 96.1L1546.3 94.9L1547.8 93.6L1549.2 93.6L1550.7 92.9L1552.1 91.3L1552.1 91.3L1553.6 91.3L1555 89.6L1556.5 88.7L1558 88.7L1559.4 88.7L1560.9 87.7L1562.4 87.7L1563.9 87.2L1565.4 86.8L1566.8 86.8L1568.3 86.8L1569.8 85.8L1571.3 85.1L1572.8 85.1L1574.3 85L1575.8 84.5L1577.3 84.5L1578.8 84.5L1580.3 82.8L1581.9 82.8L1583.4 82.4L1584.9 82.4L1586.4 82.4L1586.7 82.4L1588 82L1589.5 80.1L1591 80.1L1592.6 80.1L1594.1 80.1L1595.6 79L1597.2 79L1598.7 77.7L1600.3 76.8L1601.9 76.8L1603.4 76.8L1605 75.4L1606.5 75.4L1608.1 75.4L1609.7 74.8L1611.3 74.2L1612.8 73.6L1614.4 73.6L1616 72.5L1617.6 72.3L1619.2 72.2L1620.8 71.6L1622.4 71.1L1624 71.1L1624.8 70.2L1625.6 69.9L1627.2 69.9L1628.8 69.9L1630.4 69.4L1632 69.1L1633.7 68.5L1635.3 68.3L1636.9 68.3L1638.6 68.3L1640.2 66.6L1641.8 66.6L1643.5 66.6L1645.1 66.2L1646.8 66.2L1648.4 65.8L1650.1 65.6L1651.7 65.6L1653.4 65.3L1655.1 64.8L1656.7 64.8L1658.4 64.8L1660.1 63.6L1661.8 63.6L1663.4 63.6L1663.5 63.6L1665.1 63.3L1666.8 63.3L1668.5 62.8L1670.2 62.7L1671.9 62.4L1673.6 62.4L1675.3 61.8L1677 61.4L1678.7 61.4L1680.4 61.4L1682.2 60.8L1683.9 60L1685.6 60L1687.4 60L1689.1 59.7L1690.8 59.5L1692.6 59L1694.3 59L1696.1 59L1697.8 58.9L1699.6 58L1701.3 57.6L1702.3 57.6L1703.1 57.6L1704.9 57.3L1706.6 57.3L1708.4 57L1710.2 56.2L1712 56.2L1713.7 56.1L1715.5 55.9L1717.3 55.7L1719.1 54.9L1720.9 54.8L1722.7 54.8L1724.5 54.2L1726.3 54.1L1728.1 53.5L1730 53.2L1730.8 53.2L1731.8 53.1L1733.6 52.1L1735.4 52.1L1737.3 51.2L1739.1 50.8L1740.9 50.4L1742.8 49.5L1744.6 49L1746.5 48.3L1748.3 47.5L1750.2 46.9L1752 46.2L1753.9 45.4" stroke="#4D7FCB" stroke-width="2.95" stroke-linecap="square"/>
<path d="M1074.4 422.6L1075.1 419.2L1075.8 415.9L1076.5 412.5L1077.3 409.1L1078 405.5L1078.7 402.1L1079.4 399.2L1080.1 396.6L1080.8 394L1081.5 390.9L1082.3 387.3L1083 383.7L1083.7 380.3L1084.4 377.3L1085 374.9L1085.1 374.5L1085.8 371.9L1086.5 369L1087.2 365.7L1088 362.4L1088.7 359.3L1089.4 356.4L1090.1 353.9L1090.8 351.8L1091.5 349.7L1092.3 346.8L1093 342.9L1093.7 339.2L1094.4 336.9L1095.1 335.6L1095.8 333.7L1096.5 330.3L1096.8 328.8L1097.3 326.5L1098 323.3L1098.7 320.9L1099.4 318.4L1100.1 315.6L1100.9 313.3L1101.6 311.8L1102.3 310.3L1103 308.2L1103.6 305.7L1103.7 305.3L1104.4 302.1L1105.2 299.2L1105.9 296.7L1106.6 294.5L1107.3 292.3L1108 289.5L1108.8 286.3L1109.5 283.4L1110.2 281.7L1110.9 280.9L1110.9 280.9L1111.6 280.3L1112.4 279.4L1113.1 278.2L1113.8 276.2L1114.5 273.6L1115.3 271.1L1116 269.7L1116.7 269.2L1117.4 268.3L1118.2 266.5L1118.9 264.6L1119.6 263.9L1120.3 263.9L1121.1 263.7L1121.8 261.9L1122.5 259.7L1123.2 258.1L1124 257.3L1124 257.3L1124.7 256.4L1125.4 255.2L1126.1 253.9L1126.9 252.8L1127.6 252.1L1128.3 251.5L1129.1 250.8L1129.8 249.6L1130.5 247.7L1131.3 245.8L1132 244.4L1132.7 243.3L1133.5 242.5L1134.2 242.3L1134.9 242.3L1135.7 242.3L1136.4 241.5L1137.1 239.1L1137.9 237L1138.6 236L1139.3 235.4L1140.1 234.3L1140.3 234L1140.8 233.2L1141.6 232.4L1142.3 231.7L1143 230.5L1143.8 229.5L1144.5 229.4L1145.3 229.4L1146 229.4L1146.8 227.9L1147.5 225.5L1148.2 223.7L1149 222.8L1149.7 222.3L1150.5 221.5L1151.2 220.4L1152 219.2L1152.7 218.6L1153.5 218.6L1154.2 218.6L1155 218.3L1155.7 217.3L1156.5 216.5L1157.2 215.7L1158 213.9L1158.7 211.3L1159.5 209.5L1160.2 209.5L1161 209.5L1161.4 209.5L1161.8 209.5L1162.5 209.5L1163.3 209.3L1164 208.3L1164.8 207.4L1165.5 206.6L1166.3 206.3L1167.1 205.9L1167.8 204.7L1168.6 203.1L1169.4 202L1170.1 202L1170.9 202L1171.7 202L1172.4 201L1173.2 199.4L1174 198.5L1174.7 198.5L1175.5 198.5L1176.3 198.5L1177 198.1L1177.8 196.5L1178.6 195.5L1179.4 194.9L1180.1 194L1180.9 193.3L1181.7 193.3L1182.5 193.3L1183.3 193.3L1184 192.5L1184.8 191.6L1185.6 191.5L1186.4 191.2L1187.2 190.1L1187.9 188.8L1188.7 188.1L1189.5 188L1190.3 187.9L1191.1 187.8L1191.9 187.5L1192 187.5L1192.7 186.9L1193.5 186L1194.3 185.2L1195 184.6L1195.8 184.1L1196.6 183.9L1197.4 183.8L1198.2 183.5L1199 182.8L1199.8 182.2L1200.6 181.7L1201.4 181.1L1202.2 180.1L1203 179.7L1203.8 179.7L1204.6 179.7L1205.4 179L1206.3 178L1207.1 178L1207.9 178L1208.7 177.6L1209.5 176.4L1210.3 175.7L1211.1 175.7L1211.9 175.7L1212.8 175.1L1213.6 174.3L1214.4 173.8L1215.2 173.7L1216 173.7L1216.8 173.4L1217.7 172.4L1218.5 171.4L1219.3 171.2L1220.1 171.2L1221 171.2L1221.8 170.8L1222.6 170.2L1223.5 169.2L1224.3 168.5L1225.1 168.5L1226 168.5L1226.8 168.4L1227.6 166.9L1228.5 166.2L1229.3 166.2L1230.2 166.2L1231 166.2L1231.8 165.8L1232.7 165.4L1233.5 164.7L1234.4 163.8L1235.2 163.2L1236.1 163L1236.8 163L1236.9 163L1237.8 162.6L1238.6 162.2L1239.5 161.9L1240.3 161.9L1241.2 161.9L1242.1 161.1L1242.9 159.6L1243.8 158.7L1244.6 158.7L1245.5 158.5L1246.4 158L1247.2 158L1248.1 158L1249 158L1249.8 157.5L1250.7 157L1251.6 156.2L1252.5 154.7L1253.3 153.6L1254.2 153.6L1255.1 153.6L1256 153.6L1256.9 153.6L1257.7 153.6L1258.6 153L1259.5 151.7L1260.4 150.9L1261.3 150.9L1262.2 150.9L1263.1 150.9L1264 149.9L1264.9 149.2L1265.8 149.2L1266.7 149.2L1267.5 149.1L1268.5 147L1269.4 146.3L1270.3 146.3L1271.2 146.3L1272.1 146.3L1273 146.3L1273.9 145.6L1274.8 144.4L1275.7 144.4L1276.6 144.4L1277.5 144.4L1278.5 143.9L1279.4 143.2L1280.3 142.6L1281.2 142.3L1282.1 142.3L1283.1 142.3L1284 142.3L1284.9 141.6L1285.9 140.4L1286.8 139.7L1287.7 139.7L1288.7 139.7L1288.8 139.7L1289.6 139.1L1290.5 138.6L1291.5 138.6L1292.4 138.6L1293.4 138.1L1294.3 138L1295.3 137.7L1296.2 136.4L1297.2 135.3L1298.1 135.3L1299.1 135.3L1300 135.3L1301 135.3L1301.9 134.3L1302.9 133.7L1303.8 133.7L1304.8 133.7L1305.8 133.7L1306.7 133.3L1307.7 131.9L1308.7 130.9L1309.7 130.9L1310.6 130.9L1311.6 130.9L1312.6 130.9L1313.6 130.9L1314.5 129.8L1315.5 129.6L1316.5 129.6L1317.5 129.6L1318.5 127.6L1319.5 127.2L1320.5 127.2L1321.5 127.2L1322.5 127.2L1323.5 127L1324.5 126.1L1325.5 126.1L1326.5 126.1L1327.5 126.1L1328.5 125.6L1329.5 124.5L1330.5 124L1331.5 124L1332.5 124L1333.5 124L1334.6 124L1335.6 123.4L1336.6 122.4L1337.6 122.2L1338.7 122.2L1339.7 121.6L1340.7 121.1L1341.8 121.1L1342.8 121.1L1343.8 121.1L1344.9 120.7L1345.9 120L1346.9 119L1348 118.4L1349 118.4L1350.1 118.4L1351.1 118.4L1352.2 118.2L1353.2 118L1354.3 117.7L1355.4 116.8L1356.4 116.5L1357.5 116.5L1358.5 115.7L1359.5 115.5L1359.6 115.5L1360.7 115.5L1361.7 115.5L1362.8 115L1363.9 114L1365 113.3L1366 113.3L1367.1 113.3L1368.2 113.3L1369.3 112.2L1370.4 111.7L1371.5 111.7L1372.6 111.7L1373.7 111.1L1374.8 110.9L1375.9 110.9L1377 110.9L1378.1 110.6L1379.2 110.1L1380.3 108.8L1381.4 108.2L1382.5 108.2L1383.6 108.2L1384.7 108.2L1385.8 108.2L1387 107.7L1388.1 107.1L1389.2 106.7L1390.3 106.2L1391.5 105.9L1392.6 105.9L1393.7 105.9L1394.9 105.9L1396 105.6L1397.1 104.6L1398.3 103.6L1399.4 103.6L1400.6 103.6L1401.7 103.6L1402.9 102.6L1404 102.6L1405.2 102.6L1406.3 102.6L1407.5 102.6L1408.7 101.3L1409.8 100.4L1411 100.4L1412.2 100.4L1413.3 100.4L1414.2 99.6L1414.5 99.5L1415.7 99.5L1416.9 99.5L1418 99.4L1419.2 97.8L1420.4 97.3L1421.6 97.3L1422.8 97.3L1424 97.1L1425.2 96.9L1426.4 96.9L1427.6 96.9L1428.8 96.2L1430 95.3L1431.2 94.7L1432.4 94.7L1433.6 94.7L1434.8 94.7L1436.1 94.1L1437.3 93.9L1438.5 93.6L1439.7 92.9L1441 92.8L1442.2 92.5L1443.4 92.4L1444.7 92.4L1445.9 91.5L1447.1 91.4L1448.4 91.2L1449.6 90.5L1450.9 90.4L1452.1 89.8L1453.4 89.6L1454.6 89.6L1455.9 89.5L1457.1 88.8L1458.4 88.3L1459.7 88L1460.9 87.8L1462.2 87.8L1463.5 87.8L1464.8 86.5L1466 86.5L1467.3 86.5L1468.6 86L1469.9 86L1471.2 86L1471.9 86L1472.5 85.9L1473.8 84.7L1475.1 84.4L1476.4 84.4L1477.7 84.4L1479 84.2L1480.3 84.2L1481.6 84.2L1482.9 83.1L1484.2 82.9L1485.5 82.8L1486.9 82.8L1488.2 82.8L1489.5 82.5L1490.8 82.3L1492.2 82L1493.5 81.2L1494.8 81.2L1496.2 81.2L1497.5 81.2L1498.9 81L1500.2 80.2L1501.6 80.2L1502.9 80.2L1504.3 80.1L1505.6 79.9L1507 79.8L1508.4 79.4L1509.7 79.2L1511.1 78.7L1512.5 78.7L1513.9 78.7L1515.2 77.7L1516.6 77.7L1518 77.7L1519.4 77.6L1520.8 77.6L1522.2 77.6L1523.6 76.9L1525 76.6L1526.4 76.6L1527.8 76.6L1529 76.2L1529.2 76.1L1530.6 76L1532 75.7L1533.4 75L1534.9 75L1536.3 74.9L1537.7 74.7L1539.1 74.4L1540.6 73.7L1542 73.7L1543.4 73.7L1544.9 73.4L1546.3 73.2L1547.8 72.6L1549.2 72.3L1550.7 72.3L1552.1 72L1553.6 72L1555 71.5L1556.5 71.3L1558 70.6L1559.4 70.2L1560.9 70.2L1562.4 70.2L1563.9 70.2L1565.4 69.4L1566.8 69.2L1568.3 68.7L1569.8 68.1L1571.3 68.1L1572.8 68.1L1574.3 67.4L1575.8 67.4L1577.3 67.4L1578.8 66.6L1580.3 66.2L1581.9 66.2L1583.4 66.2L1584.9 66L1586.4 65.3L1586.7 65.2L1588 64.9L1589.5 64.9L1591 64.9L1592.6 64.9L1594.1 64.3L1595.6 62.8L1597.2 62.8L1598.7 62.8L1600.3 62.8L1601.9 62.3L1603.4 62.3L1605 62.1L1606.5 61.8L1608.1 61.8L1609.7 60.8L1611.3 60.3L1612.8 60.3L1614.4 60.3L1616 59.9L1617.6 59.7L1619.2 59.2L1620.8 58.3L1622.4 58.3L1624 58.2L1625.6 58.2L1627.2 57.8L1628.8 56.8L1630.4 56.8L1632 56.8L1633.7 56.8L1635.3 56.6L1636.9 56.1L1638.6 55.5L1640.2 55.5L1641.8 55.4L1643.5 55L1644.5 54.8L1645.1 54.7L1646.8 54.7L1648.4 54.7L1650.1 53.9L1651.7 53.9L1653.4 53.7L1655.1 53.7L1656.7 53.7L1658.4 53.7L1660.1 52.3L1661.8 52.3L1663.4 52.3L1665.1 52.3L1666.8 52.3L1668.5 52.3L1670.2 51.4L1671.9 51.4L1673.6 51.4L1675.3 51.4L1677 51.4L1678.7 51.2L1680.4 51.2L1682.2 50.6L1683.9 50.6L1685.6 50.6L1687.4 50.5L1689.1 50.2L1690.8 50.2L1692.6 50.2L1694.3 50.1L1696.1 49.8L1697.8 49.7L1699.6 49.4L1701.3 49.4L1702.3 49.4L1703.1 49.3L1704.9 48.8L1706.6 48.8L1708.4 48.8L1710.2 48.5L1712 48.5L1713.7 48.5L1715.5 47.9L1717.3 47.9L1719.1 47.9L1720.9 47.8L1722.7 47.5L1724.5 47.4L1726.3 47.4L1728.1 47.3L1730 47.1L1731.8 46.9L1733.6 46.7L1735.4 46.7L1737.3 46.5L1739.1 46.3L1740.9 46.3L1742.8 46.2L1744.6 45.9L1746.5 45.9L1748.3 45.8L1750.2 45.6L1752 45.5L1753.9 45.4" stroke="#E50914" stroke-width="2.95" stroke-linecap="square"/>
<path d="M1074.4 422.6L1753.9 45.4" stroke="#000" stroke-width="2.78" stroke-dasharray="10.28 4.44"/>
</g>
<rect x="1074.4" y="26.5" width="679.5" height="396.1" fill="none" stroke="#111" stroke-width="1.11"/>
<g stroke="#111" stroke-width="1.11"><path d="M1074.4 422.6v4.9"/><path d="M1074.4 422.6h-4.9"/><path d="M1210.3 422.6v4.9"/><path d="M1074.4 347.2h-4.9"/><path d="M1346.2 422.6v4.9"/><path d="M1074.4 271.7h-4.9"/><path d="M1482.1 422.6v4.9"/><path d="M1074.4 196.3h-4.9"/><path d="M1618 422.6v4.9"/><path d="M1074.4 120.8h-4.9"/><path d="M1753.9 422.6v4.9"/><path d="M1074.4 45.4h-4.9"/></g>
<g font-family="'DejaVu Sans', 'Liberation Sans', sans-serif" font-size="19.44" letter-spacing="0.56" fill="#000" stroke="#000" stroke-width="0.35"><text x="1074.4" y="447.7" text-anchor="middle" letter-spacing="0">0.0</text><text x="1064.7" y="430" text-anchor="end" letter-spacing="0">0.0</text><text x="1210.3" y="447.7" text-anchor="middle" letter-spacing="0">0.2</text><text x="1064.7" y="354.5" text-anchor="end" letter-spacing="0">0.2</text><text x="1346.2" y="447.7" text-anchor="middle" letter-spacing="0">0.4</text><text x="1064.7" y="279.1" text-anchor="end" letter-spacing="0">0.4</text><text x="1482.1" y="447.7" text-anchor="middle" letter-spacing="0">0.6</text><text x="1064.7" y="203.7" text-anchor="end" letter-spacing="0">0.6</text><text x="1618" y="447.7" text-anchor="middle" letter-spacing="0">0.8</text><text x="1064.7" y="128.2" text-anchor="end" letter-spacing="0">0.8</text><text x="1753.9" y="447.7" text-anchor="middle" letter-spacing="0">1.0</text><text x="1064.7" y="52.8" text-anchor="end" letter-spacing="0">1.0</text><text x="1414.2" y="18.2" text-anchor="middle">ROC curve</text><text x="1414.2" y="472" text-anchor="middle">False Positive Rate</text><text transform="translate(1023.6 224.6) rotate(-90)" text-anchor="middle">True Positive Rate</text></g>
<rect x="1352.5" y="267.8" width="393.5" height="146" rx="3.1" fill="#fff" fill-opacity="0.8" stroke="#ccc" stroke-opacity="0.8" stroke-width="1.39"/>
<g font-family="'DejaVu Sans', 'Liberation Sans', sans-serif" font-size="15.28" letter-spacing="0.44" fill="#000" stroke="#000" stroke-width="0.30"><path d="M1359 281.8H1391.2" fill="none" stroke="#E6177A" stroke-width="5.56" stroke-dasharray="5.56 9.17"/><text x="1404.2" y="286.8">micro-average ROC curve (area = 0.811)</text><path d="M1359 305.3H1391.2" fill="none" stroke="#111E57" stroke-width="5.60" stroke-dasharray="5.60 9.24"/><text x="1404.2" y="310.3">macro-average ROC curve (area = 0.758)</text><path d="M1359 328.8H1391.2" fill="none" stroke="#52BFCF" stroke-width="2.95" stroke-linecap="square"/><text x="1404.2" y="333.8">Class 0 (area = 0.857)</text><path d="M1359 352.3H1391.2" fill="none" stroke="#F07F09" stroke-width="2.95" stroke-linecap="square"/><text x="1404.2" y="357.3">Class 1 (area = 0.718)</text><path d="M1359 375.8H1391.2" fill="none" stroke="#4D7FCB" stroke-width="2.95" stroke-linecap="square"/><text x="1404.2" y="380.8">Class 2 (area = 0.667)</text><path d="M1359 399.3H1391.2" fill="none" stroke="#E50914" stroke-width="2.95" stroke-linecap="square"/><text x="1404.2" y="404.3">Class 3 (area = 0.790)</text></g>
<clipPath id="cpC"><rect x="120.2" y="531.5" width="679.5" height="396.1"/></clipPath>
<g clip-path="url(#cpC)" fill="none" stroke-linejoin="round">
<path d="M118.2 921.7v6.3L122.3 921.7v6.3M118.4 907.2v6.3L122.5 907.2v6.3M118.9 893v6.3L123.1 893v6.3M119.9 879.3v6.3L124.1 879.3v6.3M120.8 865.4v6.3L124.9 865.4v6.3M121.7 851.7v6.3L125.9 851.7v6.3M123.6 838.8v6.3L127.7 838.8v6.3M125.7 826.2v6.3L129.9 826.2v6.3M127.6 813.4v6.3L131.7 813.4v6.3M129.7 800.7v6.3L133.8 800.7v6.3M132.1 788.4v6.3L136.2 788.4v6.3M135.1 776.7v6.3L139.3 776.7v6.3M138.9 765.8v6.3L143.1 765.8v6.3M143.2 755.4v6.3L147.4 755.4v6.3M147.9 745.4v6.3L152.1 745.4v6.3M153.2 735.9v6.3L157.4 735.9v6.3M159 727v6.3L163.1 727v6.3M165.3 718.6v6.3L169.4 718.6v6.3M172.1 710.7v6.3L176.3 710.7v6.3M178.5 704.5h6.3L178.5 708.6h6.3M186.5 697.7h6.3L186.5 701.9h6.3M194.8 691.3h6.3L194.8 695.4h6.3M203.3 685.1h6.3L203.3 689.2h6.3M212.1 679.2h6.3L212.1 683.4h6.3M221.4 673.7h6.3L221.4 677.9h6.3M231.1 668.7h6.3L231.1 672.8h6.3M240.9 663.8h6.3L240.9 667.9h6.3M250.4 658.6h6.3L250.4 662.8h6.3M259.9 653.4h6.3L259.9 657.5h6.3M269.6 648.3h6.3L269.6 652.5h6.3M279.4 643.4h6.3L279.4 647.6h6.3M289.3 638.6h6.3L289.3 642.7h6.3M299.1 633.7h6.3L299.1 637.9h6.3M309.1 628.9h6.3L309.1 633.1h6.3M319.4 624.5h6.3L319.4 628.7h6.3M330.1 620.5h6.3L330.1 624.6h6.3M341 616.7h6.3L341 620.8h6.3M352 612.9h6.3L352 617.1h6.3M363 609.2h6.3L363 613.4h6.3M374.1 605.6h6.3L374.1 609.7h6.3M385.2 602h6.3L385.2 606.2h6.3M396.5 598.6h6.3L396.5 602.8h6.3M408 595.3h6.3L408 599.5h6.3M419.6 592.2h6.3L419.6 596.4h6.3M431.4 589.3h6.3L431.4 593.4h6.3M443.3 586.4h6.3L443.3 590.6h6.3M455.3 583.7h6.3L455.3 587.9h6.3M467.4 581.1h6.3L467.4 585.3h6.3M479.6 578.6h6.3L479.6 582.7h6.3M491.8 576.1h6.3L491.8 580.3h6.3M504.3 573.8h6.3L504.3 578h6.3M516.9 571.7h6.3L516.9 575.9h6.3M529.7 569.8h6.3L529.7 574h6.3M542.7 568.1h6.3L542.7 572.2h6.3M555.8 566.4h6.3L555.8 570.6h6.3M568.9 564.9h6.3L568.9 569h6.3M582.2 563.4h6.3L582.2 567.5h6.3M595.5 562h6.3L595.5 566.2h6.3M608.9 560.7h6.3L608.9 564.8h6.3M622.3 559.4h6.3L622.3 563.5h6.3M635.7 558h6.3L635.7 562.2h6.3M648.9 556.6h6.3L648.9 560.7h6.3M662.2 555.1h6.3L662.2 559.3h6.3M675.6 553.8h6.3L675.6 558h6.3M689.3 552.7h6.3L689.3 556.9h6.3M703 551.8h6.3L703 555.9h6.3M716.9 550.9h6.3L716.9 555.1h6.3M730.9 550.2h6.3L730.9 554.4h6.3M745.1 549.6h6.3L745.1 553.8h6.3M759.3 549.2h6.3L759.3 553.3h6.3M773.6 548.8h6.3L773.6 552.9h6.3M788.1 548.4h6.3L788.1 552.6h6.3" fill="none" stroke="#E6177A" stroke-width="2.3" stroke-linejoin="bevel"/>
<path d="M122.9 928.3L124.2 923.4L118.8 922L117.5 926.9ZM126.5 915.1L128 910.3L122.6 908.7L121.2 913.5ZM130.7 902.3L132.4 897.6L127.1 895.7L125.4 900.3ZM135.5 889.8L137.4 885.2L132.2 883L130.3 887.6ZM140.7 877.4L142.7 872.8L137.5 870.6L135.6 875.2ZM146.1 865.2L148.2 860.7L143.2 858.3L141 862.7ZM152.1 853.6L154.7 849.5L149.9 846.5L147.4 850.7ZM159.2 842.6L162 838.7L157.4 835.5L154.6 839.4ZM166.8 831.9L169.6 828L165 824.7L162.2 828.6ZM174.5 821.3L177.4 817.5L172.9 814.1L170 817.9ZM182.5 810.9L185.4 807.1L181 803.7L178 807.5ZM190.5 800.6L193.6 796.9L189.2 793.4L186.2 797.1ZM198.8 790.4L201.9 786.7L197.5 783.2L194.5 786.9ZM207.1 780.3L210.2 776.6L205.8 773L202.8 776.7ZM215.5 770.3L218.6 766.7L214.4 763L211.3 766.6ZM224.2 760.8L227.6 757.4L223.7 753.4L220.3 756.8ZM233.6 751.8L237.1 748.5L233.3 744.4L229.8 747.6ZM243.3 743L246.8 739.7L243 735.6L239.5 738.8ZM252.9 734.1L256.5 730.9L252.7 726.7L249.2 730ZM262.6 725.4L266.3 722.3L262.6 718L259 721.2ZM272.6 717.2L276.5 714.3L273.1 709.8L269.3 712.7ZM283.2 709.7L287.3 707L284.2 702.3L280.1 705ZM294.3 702.6L298.4 700L295.4 695.2L291.3 697.8ZM305.5 695.4L309.5 692.7L306.4 688.1L302.4 690.8ZM316.5 688L320.4 685.2L317.2 680.6L313.3 683.4ZM327.2 680.4L331.2 677.7L328.1 673.1L324.1 675.8ZM338.1 673.2L342.2 670.7L339.3 665.9L335.2 668.4ZM349.4 666.5L353.7 664.1L350.9 659.2L346.7 661.6ZM361 660.1L365.3 657.9L362.7 652.9L358.4 655.2ZM372.8 654.1L377.2 651.9L374.7 646.9L370.3 649ZM384.8 648.2L389.3 646.2L386.9 641.1L382.4 643.2ZM396.9 642.6L401.4 640.5L399.1 635.5L394.6 637.5ZM409.1 637.1L413.6 635.1L411.4 630L406.9 631.9ZM421.4 631.8L426 629.9L423.9 624.7L419.3 626.6ZM433.9 626.8L438.6 625.1L436.6 619.8L431.9 621.6ZM446.6 622.3L451.4 620.8L449.7 615.5L444.9 617ZM459.7 618.4L464.5 617L463 611.7L458.1 613ZM472.9 614.8L477.8 613.5L476.4 608.1L471.5 609.4ZM486.3 611.2L491.1 609.9L489.6 604.5L484.8 605.8ZM499.6 607.3L504.3 605.7L502.5 600.4L497.8 602ZM512.5 602.5L517.1 600.6L514.9 595.5L510.4 597.3ZM524.9 597.5L529.6 595.7L527.6 590.5L523 592.2ZM537.6 593.2L542.4 591.9L541 586.4L536.1 587.8ZM550.9 589.7L555.8 588.6L554.6 583.1L549.6 584.3ZM564.4 586.7L569.4 585.7L568.3 580.2L563.2 581.2ZM578 584L583.1 583L582 577.5L577 578.5ZM591.8 581.4L596.9 580.4L595.8 574.9L590.8 575.9ZM605.6 578.9L610.7 578L609.7 572.5L604.6 573.3ZM619.5 576.6L624.6 575.7L623.7 570.2L618.6 571ZM633.4 574.3L638.5 573.5L637.6 568L632.5 568.8ZM647.4 572.1L652.4 571.2L651.5 565.7L646.4 566.5ZM661.2 569.6L666.3 568.6L665.2 563.1L660.2 564.1ZM675 566.8L680 565.8L678.9 560.3L673.9 561.3ZM688.6 564.1L693.7 563.1L692.7 557.6L687.6 558.6ZM702.4 561.7L707.5 561L706.8 555.4L701.6 556.2ZM716.4 559.9L721.6 559.3L721 553.8L715.8 554.4ZM730.6 558.3L735.8 557.8L735.2 552.2L730 552.8ZM744.8 556.8L750 556.3L749.5 550.8L744.3 551.3ZM759.1 555.5L764.3 555.1L763.9 549.5L758.6 549.9ZM773.4 554.4L778.7 554.1L778.3 548.5L773 548.8ZM787.8 553.6L793.1 553.4L792.9 547.8L787.6 548Z" fill="#111E57" stroke="none"/>
<path d="M120.2 927.6L120.9 922.1L121.6 916.8L122.3 911.5L123.1 906.4L123.8 901.6L124.5 897L125.2 892.3L125.9 887.5L126.6 882.9L127.3 879.5L127.3 879.2L128.1 875.9L128.8 872.5L129.5 868.8L130.2 865.1L130.9 861.7L131.6 858.6L132 857.1L132.3 855.6L133 852.7L133.8 849.7L134.5 846.6L135.2 843.9L135.9 841.8L136.6 840.1L137.3 838.5L138.1 837.1L138.8 835.6L139 835L139.5 833.4L140.2 830.2L140.9 827.3L141.6 825.2L142.3 823.4L143.1 821.3L143.8 818.8L144.5 816.5L145.2 814.5L145.9 812.6L146.7 811L147.4 809.6L147.4 809.5L148.1 808L148.8 806.2L149.5 804.8L150.2 804.2L151 804L151.7 803.2L152.4 801.6L153.1 799.7L153.8 797.7L154.6 795.8L155.3 794.4L156 793.6L156.7 793.1L157.4 792.3L158.2 791.5L158.9 790.6L159.6 789.5L160.3 788.3L161.1 787.4L161.4 787.1L161.8 786.9L162.5 785.8L163.2 783.7L164 781.4L164.7 780.1L165.4 779.4L166.1 778.4L166.9 776.8L167.6 775.5L168.3 774.8L169 774.2L169.8 773.5L170.5 772.3L171.2 770.7L171.9 769L172.7 767.7L173.4 766.8L174.1 766L174.9 765.1L175.6 764.3L176.3 763.6L176.6 763.1L177.1 762.1L177.8 760.1L178.5 758.6L179.3 758.4L180 758.4L180.7 758.2L181.5 757.1L182.2 756.1L182.9 755.4L183.7 754.7L184.4 753.9L185.1 753L185.9 751.9L186.6 750.7L187.4 749.9L188.1 749.3L188.8 748.6L189.6 747.6L190.3 746.8L191.1 746.6L191.8 746.4L192.6 746L193.3 745.4L194 744.5L194.8 742.9L195.5 741.1L196.3 739.9L197 739.4L197.8 739L197.9 739L198.5 738.6L199.3 738.2L200 737.4L200.8 735.8L201.5 734.1L202.3 733.2L203 732.8L203.8 732L204.5 730.7L205.3 729.9L206 729.3L206.8 728.3L207.6 726.6L208.3 724.9L209.1 723.5L209.8 722.9L210.6 722.8L211.3 722.4L212.1 721.2L212.9 719.6L213.6 718.6L214.4 718L215.2 717L215.9 715.9L216.7 715.5L216.7 715.5L217.5 715.2L218.2 714.2L219 712.7L219.8 711.8L220.5 711.5L221.3 711.1L222.1 710.2L222.8 709.3L223.6 708.5L224.4 707.9L225.2 707.5L225.9 706.9L226.7 706L227.5 705.3L228.3 705.1L229.1 704.7L229.8 703.7L230.6 702.4L231.4 701.6L232.2 701L233 700.4L233.7 700.2L234.5 700.2L235.3 700L236.1 698.9L236.9 697.7L237.7 696.7L238.5 695.8L239.3 695.5L240.1 695.5L240.8 695.5L241.6 694.4L242.4 693L243.2 692.3L244 691.9L244.8 691.4L245.1 691.1L245.6 690.6L246.4 689.9L247.2 689.3L248 689L248.8 688.8L249.6 687.8L250.4 686.2L251.2 685.2L252.1 684.8L252.9 684.4L253.7 683.9L254.5 683.6L255.3 682.7L256.1 680.9L256.9 679.6L257.7 679.6L258.6 679.6L259.4 679.4L260.2 677.8L261 676.6L261.8 676.3L262.6 676.3L263.5 676L264.3 674.2L265.1 672.3L265.9 671.7L266.8 671.7L267.6 671.7L268.4 671.4L269.3 671L270.1 670.1L270.9 669L271.8 668.5L272.6 668L273.4 666.7L274.3 665.4L275.1 665L275.8 665L276 665L276.8 665L277.6 665L278.5 664.1L279.3 662.6L280.2 661.9L281 661.9L281.9 661.9L282.7 661.6L283.6 661L284.4 660.6L285.3 660.3L286.1 659.8L287 658.9L287.9 657.7L288.7 657.3L289.6 657.3L290.4 657.3L291.3 657.3L292.2 657.1L293 656.5L293.9 655.3L294.8 654.5L295.6 654.3L296.5 654.1L296.9 654L297.4 653.6L298.3 653.2L299.1 653L300 652.7L300.9 652.3L301.8 651.4L302.7 650.7L303.5 650.6L304.4 650.3L305.3 649.6L306.2 649.2L307.1 649.1L308 648.3L308.2 648L308.9 647.4L309.8 647.4L310.7 647.4L311.6 647.4L312.5 646.8L313.3 646.5L314.3 646.4L315.2 646.3L316.1 645.8L317 644.9L317.9 644.5L318.8 644.5L319.7 644.5L320.6 644.5L321.5 644.4L322.4 643.6L322.7 643.4L323.3 642.9L324.3 642.8L325.2 642.6L326.1 642L327 641.7L327.9 641.5L328.9 641.2L329.8 640.7L330.7 639.8L331.7 638.8L332.6 638.8L333.5 638.8L334.5 638.7L335.4 637.6L336.3 636.9L337.3 636.8L338.2 636.6L339.2 635.8L340.1 634.6L341.1 634.3L342 634.1L343 633.3L343.9 633L344.9 633L345.8 632.7L346.8 631.6L347.7 630.8L348.7 629.9L349.6 629.3L350.6 629.3L351.6 629.3L352.5 628.7L353.5 627.6L354.5 627L355.5 627L356.4 626.6L357.4 625.5L358.4 625.3L359.4 625.3L360.3 624.8L361.3 623.6L362.3 623.3L363.3 623.3L364.3 623.1L365.3 622.4L366.3 621.4L367.3 621.4L368.3 621.4L369.3 621.4L369.9 621.2L370.3 620.8L371.3 619.9L372.3 619.6L373.3 619.6L374.3 619.6L375.3 619.3L376.3 619L377.3 618.9L378.3 618.8L379.3 618.4L380.4 617.8L381.4 617.8L382.4 617.8L383.4 617.3L384.5 616.3L385.5 616.3L386.5 616.3L387.6 616.3L388.6 616.3L389.6 616L390.7 615.8L391.7 615.7L392.7 615.6L393.8 615.4L394.8 614.9L395.9 614.7L396.9 614.7L398 614.5L399 614.2L400.1 614.2L401.2 614.1L402.2 613.8L403.3 613.6L404.3 613.3L405.4 613.1L406.5 612.8L407.5 612.7L408.6 612.6L409.7 612.3L410.8 612.3L411.8 612.3L412.9 611.8L414 611.1L415.1 611.1L416.2 611.1L417.3 611.1L418.4 610.4L419.5 610.2L420.6 610.2L421.7 610.2L422.8 610.1L423.9 609.7L425 609.5L426.1 609.2L426.7 608.7L427.2 608.3L428.3 608.1L429.4 608.1L430.5 608.1L431.6 608.1L432.8 606.9L433.9 606.9L435 606.9L436.1 606.5L437.3 606.1L438.4 606.1L439.5 606.1L440.7 605.6L441.8 604.9L442.9 604.9L444.1 604.9L445.2 604.9L446.4 604.1L447.5 603.6L448.7 603.6L449.8 602.9L451 602.7L452.1 602.7L453.3 602.7L454.5 602.4L455.6 601.4L456.8 601.2L458 601.2L459.1 600.9L459.9 600.9L460.3 600.9L461.5 600.7L462.7 600L463.8 599.7L465 599.6L466.2 599.4L467.4 598.9L468.6 598.7L469.8 598.1L471 597.5L472.2 597.5L473.4 597.5L474.6 597.5L475.8 596.8L477 596L478.2 596L479.4 595.8L480.6 595.1L481.9 595.1L483.1 595.1L484.3 594.4L485.5 593.7L486.8 593.7L488 593.7L489.2 593L490.5 592.8L491.7 592.7L492.9 592.2L494.2 591.6L495.4 591.6L496.7 591.6L497.9 591.3L498 591.2L499.2 590.4L500.4 590.2L501.7 590L502.9 589.6L504.2 589.6L505.5 589.4L506.7 588.8L508 588.3L509.3 588.3L510.6 587.9L511.8 587.2L513.1 587.2L514.4 587L515.7 586.5L517 586.4L518.3 586L519.6 585.4L520.9 585.4L522.2 585.4L523.5 584.6L524.8 583.8L526.1 583.8L527.4 583.8L528.7 583.5L530 583.3L531.3 583.3L532.7 582.6L534 582.1L535.3 582.1L536.6 582.1L536.7 582L538 581.4L539.3 581.4L540.6 581.4L542 581L543.3 580.6L544.7 580.6L546 580.5L547.4 579.8L548.7 579.8L550.1 579.8L551.4 579.8L552.8 579.6L554.2 579.6L555.5 579L556.9 578.9L558.3 578.9L559.7 578.5L561 578.3L562.4 578.3L563.8 578.3L565.2 578L566.6 577.3L568 577.3L569.4 577.3L570.8 577.3L572.2 577.3L573.6 577.1L575 576.9L576.4 576.6L577.8 576.1L579.2 576.1L580.7 576.1L582.1 576.1L583.5 576.1L584.9 575.6L586.4 575.2L587.8 575.2L589.2 574.7L590.7 574.6L592.1 574.6L593.6 574.6L594.5 574.2L595 573.9L596.5 573.9L597.9 573.9L599.4 573.5L600.8 573.3L602.3 573.3L603.8 572.7L605.2 572.7L606.7 572.7L608.2 571.5L609.7 571.5L611.2 571.5L612.6 571.5L614.1 571.5L615.6 571.4L617.1 570.7L618.6 570.3L620.1 570.3L621.6 570.1L623.1 570.1L624.6 570L626.1 569.3L627.7 569.3L629.2 569.2L630.7 568.2L632.2 568.2L633.8 568.2L635.3 568.2L636.8 568.2L638.4 567.3L639.9 567L641.4 567L643 566.9L644.5 566.7L646.1 566.7L647.7 566.3L649.2 566.1L650.8 565.9L651.6 565.5L652.3 565L653.9 565L655.5 565L657.1 565L658.6 565L660.2 564.2L661.8 563.9L663.4 563.9L665 563.8L666.6 563.8L668.2 563.5L669.8 563L671.4 562.8L673 562.6L674.6 562.4L676.2 562.3L677.8 562L679.5 562L681.1 561.9L682.7 560.9L684.4 560.9L686 560.9L687.6 560.6L689.3 560.6L690.9 560.2L692.6 560L694.2 559.7L695.9 559.4L697.5 559.4L699.2 559.4L700.9 558.7L702.5 558.7L704.2 558.7L705.9 558.2L707.6 558.2L709.2 558L709.3 558L710.9 558L712.6 557.8L714.3 557.3L716 557.3L717.7 557.1L719.4 556.8L721.1 556.8L722.8 556.6L724.5 556.5L726.2 556.3L728 556L729.7 556L731.4 555.8L733.2 555.8L734.9 555.4L736.6 555L738.4 555L740.1 555L741.9 554.8L743.6 554.6L745.4 554.6L747.1 554.4L748.1 554.2L748.9 553.9L750.7 553.9L752.4 553.9L754.2 553.7L756 553.6L757.8 553.4L759.5 553.4L761.3 553.1L763.1 553.1L764.9 552.9L766.7 552.8L768.5 552.6L770.3 552.3L772.1 552.3L773.9 552.3L775.8 552.1L777.6 551.8L779.4 551.6L781.2 551.6L783.1 551.5L784.9 551.4L786.7 551.3L788.6 551.1L790.4 551L792.3 550.8L794.1 550.8L796 550.7L797.8 550.5L799.7 550.4" stroke="#52BFCF" stroke-width="2.95" stroke-linecap="square"/>
<path d="M120.2 927.6L120.9 926.7L121.6 925.8L122.3 925.1L123.1 924L123.8 922.7L124.5 921.7L125.2 920.7L125.9 919.5L126.6 918.8L127.3 918.8L128.1 918.6L128.8 916.5L129.5 914L130.2 913.1L130.9 912.7L131.6 911.4L132.3 910.1L133 910L133.8 909.7L134.5 907.8L135.2 906.3L135.9 906.1L136.6 905.2L136.7 905L137.3 902.6L138.1 900.5L138.8 900.4L139.5 900.2L140.2 898.5L140.9 896.9L141.6 896.6L142.3 895.8L143.1 893.3L143.8 890.9L144.5 889.9L145.2 889.2L145.9 887.5L146.7 885.8L147.4 884.8L148.1 884.1L148.8 883.7L149.5 883.7L150.2 883.5L150.8 882.2L151 881.6L151.7 878.7L152.4 876.7L153.1 876L153.8 875.7L154.6 875.5L155.3 875.5L156 875L156.7 873.6L157.4 872.1L158.2 871.3L158.9 870.3L159.6 869.2L160.3 869.2L161.1 869.2L161.8 869.2L162.5 868.2L163.2 867.3L164 866.9L164.7 865.2L165.4 862.4L166.1 860.9L166.9 860.9L167.6 860.9L168.3 860.9L169 860.9L169.8 860.9L170.5 859.6L171.2 857.9L171.9 857.5L172 857.5L172.7 857.5L173.4 856L174.1 853.5L174.9 852L175.6 851.4L176.3 850.2L177.1 849L177.8 848.8L178.5 848.8L179.3 847.8L180 846L180.7 844.5L181.5 843.5L182.2 842.5L182.9 841.5L183.7 840.3L184.4 838.9L185.1 837.9L185.9 837.4L186.6 836.6L187.4 834.7L188.1 832.9L188.5 832.2L188.8 831.8L189.6 831.3L190.3 831.1L191.1 831.1L191.8 831.1L192.6 829.9L193.3 828.7L194 828.7L194.8 828.4L195.5 826.8L196.3 825L197 824.1L197.8 822.9L198.5 820.8L199.3 820L200 820L200.8 820L201.5 820L202.3 820L203 820L203.8 820L204.5 817.7L205.3 816.2L206 815.3L206.8 813.8L207.6 812.7L208.3 812.7L209.1 812.7L209.8 812.7L210.6 811.3L211.3 810.8L211.9 810.7L212.1 810.5L212.9 809.5L213.6 808.5L214.4 807.6L215.2 805.8L215.9 803.4L216.7 801.4L217.5 799.9L218.2 798.7L219 798.4L219.8 798.2L220.5 796.5L221.3 794.4L222.1 793.6L222.8 793.1L223.6 791.4L224.4 789.6L225.2 788.6L225.9 787.1L226.2 786.4L226.7 785.1L227.5 784.3L228.3 783.4L229.1 780.9L229.8 779L230.6 779L231.4 779L232.2 777.4L233 776.2L233.7 776.2L234.5 775.1L235.3 772.1L236.1 771.1L236.9 771L237.7 768.8L238.5 766.4L239.3 766.1L240.1 766L240.8 764.8L241.6 764.7L242.4 764.7L242.5 764.6L243.2 762L244 758.8L244.8 758.6L245.6 758.6L246.4 758L247.2 757.6L248 757.6L248.8 757.3L249.6 754.6L250.4 752.4L251.2 750.4L252.1 748.3L252.9 748.1L253.7 748.1L254.5 748.1L255.3 748.1L256.1 748.1L256.9 748.1L257.7 745.2L258.6 743.4L259.4 742.8L260.2 741.2L261 740.3L261.8 740.3L262.6 740.1L263.5 739.6L263.9 739.6L264.3 739.6L265.1 739.6L265.9 737.6L266.8 736.8L267.6 736.8L268.4 735.4L269.3 733.2L270.1 733.2L270.9 732.6L271.8 730.2L272.6 729.8L273.4 729.8L274.3 729.8L275.1 729.6L276 729.6L276.8 729.5L277.6 727.5L278.5 726.9L279.3 725.8L280.2 723L281 722.2L281.9 722.2L282.7 722.2L283.6 722.1L284.4 722.1L285.3 721.7L286.1 720.3L287 720L287.9 719.6L288.7 718.4L289.6 717.6L290.4 716.8L291.3 715.1L292.1 714.4L292.2 714.4L293 714.4L293.9 713.5L294.8 713L295.6 713L296.5 713L297.4 712L298.3 711.1L299.1 709.7L300 708.7L300.9 708.7L301.8 707.8L302.7 705.9L303.5 705.9L304.4 705.9L305.3 704.9L306.2 704.6L307.1 704.6L308 703.6L308.9 702.4L309.8 702.4L310.7 701.2L311.6 699.8L312.5 699.8L313.3 698.9L314.3 697.7L315.2 697.7L316.1 697.4L317 695.6L317.9 695.6L318.8 695.6L319.7 695.1L320.6 694.1L321.5 693.3L322.4 691.9L322.7 691.5L323.3 690.6L324.3 689.7L325.2 689.1L326.1 689.1L327 689.1L327.9 689.1L328.9 688.5L329.8 687.1L330.7 684.9L331.7 683.6L332.6 682.9L333.5 682.9L334.5 682.9L335.4 682.4L336.3 681.6L337.3 681.3L338.2 679.3L339.2 677.1L340.1 677.1L341.1 677.1L342 676.6L343 676.6L343.9 675.7L344.9 673.7L345.8 673L346.8 672.1L347.7 671.4L348.7 671.4L349.6 671.1L350.6 669.9L351.6 669.9L352.5 669L353.3 668L353.5 667.7L354.5 667.6L355.5 667.1L356.4 665.9L357.4 664.8L358.4 664.4L359.4 664.4L360.3 664.4L361.3 664.1L362.3 663.7L363.3 662.2L364.3 660.8L365.3 660.5L366.3 660L367.3 660L368.3 660L369.3 659.3L370.3 659.1L371.3 658.4L372.3 656.6L373.3 656.6L374.3 656.6L375.3 655.4L376.3 655.4L377.3 655.1L378.3 653.6L379.3 653.6L380.4 653.5L381.4 653.5L382.4 653.5L383.4 652.2L384.5 650.8L385.5 650L386.5 648.5L387.6 648.5L388.6 648.5L389.6 648.5L390.7 648.5L391.7 648L392.7 646.2L393.8 645.4L394.8 645.1L395.9 645.1L396.9 645.1L398 645.1L398.1 645.1L399 645.1L400.1 643.8L401.2 642.9L402.2 642.4L403.3 641.2L404.3 641.2L405.4 641.2L406.5 641L407.5 641L408.6 639.4L409.7 639.1L410.8 639.1L411.8 637.4L412.9 637.4L414 637.3L415.1 636.2L416.2 636.2L417.3 635.3L418.4 635.3L419.5 635.3L420.6 633.6L421.7 633.6L422.8 632.9L423.9 632.3L425 632.3L426.1 631.1L427.2 631.1L428.3 630.9L429.4 630.6L430.5 629.9L431.6 628.5L432.8 628.5L433.9 627.6L435 627.6L436.1 627.6L437.3 625.9L438.4 625.3L439.5 624.5L440.7 624.5L441.8 624.5L442.9 623.6L444.1 623.2L445.2 620.9L446.4 620.9L447.5 620.9L447.7 620.9L448.7 620.3L449.8 620.3L451 618.7L452.1 618.7L453.3 618.4L454.5 617.6L455.6 617.1L456.8 614.4L458 614.4L459.1 614.4L459.9 613.8L460.3 613.8L461.5 613.8L462.7 612.8L463.8 611.8L465 609.7L466.2 608.3L467.4 607.4L468.6 607.4L469.8 607.4L471 606.3L472.2 605.3L473.4 604.7L473.5 604.7L474.6 604.7L475.8 604.7L477 604.7L478.2 604.4L479.4 603.9L480.6 603.9L481.9 603.9L483.1 603.9L484.3 603.9L485.5 603.9L486.8 603.9L488 603.9L489.2 603.8L490.5 603.5L491.7 603.5L492.9 603.5L494.2 603.5L495.4 603.5L496.7 603.4L497.9 603.2L499.2 603.2L500.4 603.2L501.7 603.2L502.9 603.2L504.1 603.2L504.2 603.2L505.5 603.2L506.7 602.3L508 602.2L509.3 602.2L510.6 602.2L511.8 601.8L513.1 601.6L514.4 601.5L515.7 601.2L517 601.2L518.3 599.8L519.6 599.5L520.9 599.1L522.2 599.1L523.5 599.1L524.8 598.9L526.1 597.3L527.4 597.3L528.7 597.3L530 597.1L531.3 597.1L532.7 597L534 596.1L535.3 595.3L536.6 595.1L536.7 595L538 595L539.3 595L540.6 595L542 594.8L543.3 593.8L544.7 593.8L546 593.8L547.4 593.8L548.7 593.7L550.1 593.7L551.4 592.9L552.8 592.9L554.2 592.7L555.5 592.7L555.8 592.7L556.9 592.7L558.3 592L559.7 590.9L561 590.9L562.4 590.9L563.8 590L565.2 588.6L566.6 587.6L568 587.6L569.4 587.6L570.8 586L572.2 585.3L573.6 585.2L574.8 585.2L575 585.2L576.4 584.7L577.8 584.2L579.2 583.5L580.7 583.5L582.1 583.2L583.5 583.2L584.9 582.2L586.4 582.2L587.8 581.8L589.2 581.8L590.7 581.5L592.1 581.5L593.6 580.9L595 580.9L596.5 580.7L597.9 580.7L599.4 579.2L600.8 579.2L602.3 579.2L603.8 579.2L605.2 579.1L606.7 578.4L608.2 578.2L609.7 578.2L611.2 578.2L612.6 577.4L613.5 577.2L614.1 577.2L615.6 577.2L617.1 576.8L618.6 575.4L620.1 575.4L621.6 574.1L623.1 574.1L624.6 574.1L626.1 574.1L627.7 572.9L629.2 572.3L630.7 571.1L632.2 571.1L632.5 571.1L633.8 571.1L635.3 571.1L636.8 571L638.4 570.2L639.9 568.8L641.4 568.8L643 568.8L644.5 568.8L646.1 568.8L647.7 568.5L649.2 567.8L650.8 567.8L652.3 567.5L653.9 567.5L655.5 567.5L657.1 567.5L658.6 566.2L660.2 566.2L661.8 566.1L663.4 565.8L665 565.8L666.6 565.7L668.2 565.4L669.8 564.5L670.6 564.5L671.4 564.4L673 564.4L674.6 564.4L676.2 563.8L677.8 563.3L679.5 563.3L681.1 563.2L682.7 562.7L684.4 561.9L686 561.2L687.6 561.2L689.3 561.2L690.9 560.7L692.6 560L694.2 559.4L695.9 559.4L697.5 559.4L699.2 559.4L700.9 559.2L702.5 558.8L704.2 558.8L705.9 558.4L707.6 558.4L709.2 558.4L709.3 558.4L710.9 558.2L712.6 557.2L714.3 556.8L716 556.8L717.7 556.8L719.4 556.8L721.1 556.8L722.8 556.1L724.5 556L726.2 556L728 556L729.7 556L731.4 555.3L733.2 555L734.9 555L736.6 554.8L738.4 554.8L740.1 554.6L741.9 554.4L743.6 554.4L745.4 553.7L747.1 553.7L748.9 553.7L750.7 553.7L752.4 553.6L754.2 553L756 552.9L757.8 552.9L759.5 552.9L761.3 552.7L763.1 552.5L764.9 552L766.7 552L768.5 552L770.3 551.9L772.1 551.7L773.9 551.6L775.8 551.5L777.6 551.4L779.4 551.3L781.2 551.1L783.1 551.1L784.9 551L786.7 550.8L788.6 550.8L790.4 550.7L792.3 550.6L794.1 550.6L796 550.5L797.8 550.4L799.7 550.4" stroke="#F07F09" stroke-width="2.95" stroke-linecap="square"/>
<path d="M120.2 927.6L120.9 926.1L121.6 924.7L122.3 923.5L123.1 922.1L123.8 921L124.5 920L125.2 918.7L125.9 916.6L126.6 914.9L127.3 914.4L128.1 914L128.8 912.6L129.5 910.7L130.2 909.2L130.9 908.2L131.6 907.3L132.3 906.6L133 905.7L133.8 903.9L134.3 902.7L134.5 902.6L135.2 902.6L135.9 902.6L136.6 902.6L137.3 902.2L138.1 902.2L138.8 901.3L139.5 898.3L140.2 895.4L140.9 894.9L141.6 894.9L142.3 894.9L143.1 894.5L143.8 894.5L144.5 894.5L145.2 894.5L145.9 893.5L146.7 892.4L147.4 892.4L148.1 892.4L148.8 891.6L149.5 889.9L150.2 887.8L151 886.6L151.7 886.6L152.4 886.6L153.1 886.6L153.8 886.6L154.6 886.6L155.3 886.6L156 886.3L156.7 884.6L157.4 883.6L158.2 883.6L158.9 883L159.6 881.3L160.3 879.9L161.1 879.6L161.4 879.5L161.8 879.5L162.5 879.4L163.2 879.4L164 879.4L164.7 878.4L165.4 876.1L166.1 874.2L166.9 873.2L167.6 873L168.3 873L169 872.7L169.8 871.1L170.5 869.1L171.2 868.4L171.9 868.4L172.7 868L173.4 866.8L174.1 865.7L174.9 864.4L175.6 862.6L176.3 861.1L177.1 861.1L177.8 861.1L178.5 861.1L179.3 861.1L180 859.4L180.7 857.5L181.4 855.8L181.5 855.5L182.2 853.8L182.9 853.1L183.7 853.1L184.4 853.1L185.1 853.1L185.9 853.1L186.6 851.6L187.4 851.6L188.1 851.6L188.8 850.7L189.6 847.6L190.3 845.4L191.1 845.3L191.8 845.3L192.6 845.3L193.3 845.3L194 845.3L194.8 845.3L195.5 844L196.3 841.7L197 840.2L197.8 840.2L198.5 840.2L199.3 840.2L200 838.9L200.8 836.9L201.5 836.3L202.3 835.9L203 835.1L203.8 835L204.5 835L205.1 835L205.3 835L206 832.8L206.8 830.8L207.6 830.7L208.3 830.7L209.1 829.6L209.8 828.1L210.6 826.9L211.3 825.8L212.1 825.1L212.9 825.1L213.6 824.9L214.4 823.9L215.2 822.9L215.9 821.4L216.7 819.2L217.5 817.8L218.2 817.8L219 817.8L219.8 817.7L220.5 816L221.3 814.8L222.1 813.3L222.8 811.9L223.6 811.9L224.4 811.9L225.2 811.8L225.9 809.1L226.2 808.6L226.7 808.4L227.5 808.4L228.3 808.1L229.1 807.2L229.8 807L230.6 806.5L231.4 805L232.2 803.7L233 802.8L233.7 802.6L234.5 802.6L235.3 802.6L236.1 800.9L236.9 798.8L237.7 798.8L238.5 798.8L239.3 798.8L240.1 798.2L240.8 798.2L241.6 797.2L242.4 794.8L243.2 793.8L244 793.8L244.8 793.8L245.6 793.3L246.4 792.7L247.2 792.7L248 792.7L248.8 792.4L249.6 791.3L250.4 789.5L251.2 788.1L252.1 787.3L252.9 785.8L253.7 785.4L254.5 785.4L254.5 785.4L255.3 785.4L256.1 785.4L256.9 783.8L257.7 782.8L258.6 782.2L259.4 781L260.2 780.6L261 780.6L261.8 779.8L262.6 779.1L263.5 779.1L264.3 778.3L265.1 776.6L265.9 775.5L266.8 774.6L267.6 773.4L268.4 772.9L269.3 772.8L270.1 772.6L270.9 772.4L271.8 771.3L272.6 768.9L273.4 767.4L274.3 767.4L275.1 767.4L276 766.3L276.8 765L277.6 764.7L278.5 764.1L279.3 763.8L280.2 763.8L280.6 763.8L281 763.7L281.9 761.8L282.7 760.1L283.6 759.2L284.4 758.9L285.3 758.3L286.1 757.9L287 757.9L287.9 757.9L288.7 757.2L289.6 755.5L290.4 755.5L291.3 755.5L292.2 753.6L293 751.5L293.9 751.5L294.8 751.5L295.6 751.5L296.5 751.5L297.4 750.9L298.3 750.6L299.1 749.6L300 748.2L300.9 747.9L301.8 747.9L302.7 747L303.5 746.1L304.4 746.1L305.3 745.5L306.2 744.6L307.1 744.5L308 743.7L308.9 741.7L309.8 741.2L310.7 741.2L311.6 741.2L312.5 740.2L313.2 738.5L313.3 738.2L314.3 737L315.2 737L316.1 737L317 736L317.9 735.7L318.8 734.8L319.7 732.5L320.6 731.2L321.5 730.5L322.4 729.3L323.3 729.2L324.3 728.7L325.2 725.9L326.1 725.1L327 725.1L327.9 724L328.9 720.8L329.8 720.7L330.7 720.7L331.7 720.7L332.6 719.6L333.5 717.2L334.5 716.6L335.4 716.1L336.3 714.7L337 714.7L337.3 714.7L338.2 714.7L339.2 714.2L340.1 713.2L341.1 713.2L342 712.4L343 712L343.9 711.9L344.9 710.2L345.8 709.4L346.8 709.4L347.7 709.4L348.7 709.4L349.6 708.8L350.6 708.4L351.6 708.4L352.5 707.7L353.5 706.2L354.5 706.2L355.5 706.2L356.4 706.2L357.4 706.2L358.4 706.2L359.4 705L360.3 703.8L361.3 703L362.3 703L362.8 703L363.3 703L364.3 703L365.3 701.9L366.3 701.9L367.3 701.9L368.3 701.5L369.3 699.9L370.3 699.1L371.3 699.1L372.3 699.1L373.3 699.1L374.3 699.1L375.3 697.6L376.3 696.1L377.3 696.1L378.3 696.1L379.3 696.1L380.4 696.1L381.4 694.8L382.4 694.7L383.4 694.7L384.5 693L385.5 690.6L386.5 690.6L386.6 690.6L387.6 690.6L388.6 690.6L389.6 689.1L390.7 688.8L391.7 687.8L392.7 686.2L393.8 686.2L394.8 686L395.9 682.7L396.9 681.7L398 681.7L399 681.7L400.1 679.3L401.2 677.2L402.2 676.5L403.3 676.5L404.3 676.3L405.4 673.1L406.5 672.1L407.5 672.1L408.6 671.6L409.7 669.7L410.8 668.7L411.8 668.2L412.4 668.2L412.9 668.2L414 668.1L415.1 667.1L416.2 665L417.3 664.5L418.4 664.5L419.5 664.5L420.6 663.7L421.7 662L422.8 662L423.9 662L425 661.7L426.1 660.5L427.2 660.5L428.3 660.1L429.4 659.7L430.5 659.3L431.6 658.6L432.8 658.4L433.9 658.4L435 658.4L436.1 656.1L437.3 656L438.4 656L439.5 656L440.7 656L441.8 654.5L442.9 654.5L444.1 654.5L445.2 653.4L446.4 652.2L447.5 652.2L448.7 652.2L449.8 652.2L451 652.2L452.1 651.1L453.3 649.9L454.5 649.9L455.6 649.9L456.8 648.9L458 648.9L459.1 648.9L459.9 648.9L460.3 648.6L461.5 646.3L462.7 646.3L463.8 646.3L465 646.3L466.2 645.5L467.4 644.2L468.6 644L469.8 643.8L471 643.6L472.2 642.1L473.4 642.1L474.6 642.1L475.8 641.3L477 640L478.2 638.2L479.4 638.2L480.6 638.2L481.9 638.2L483.1 638.2L484.3 638L485.5 636.1L486.8 635.3L488 634.9L489.2 634.4L490.5 634.4L491.7 634L492.9 632.5L494.2 632.5L495.4 631.8L496.7 630.4L497.9 629.4L498 629.4L499.2 629.3L500.4 629.3L501.7 628.7L502.9 626.9L504.2 626.8L505.5 625.4L506.7 624.2L508 622.1L509.3 621.4L510.6 621.4L511.8 621.2L513.1 619.7L514.4 618.5L515.7 617.1L517 615.3L518.3 614.2L519.6 614.2L520.9 614.2L522.2 612.9L523.5 612.4L524.8 610.6L526.1 610.6L527.2 610.1L527.4 609.8L528.7 608.3L530 608.3L531.3 608.3L532.7 608.3L534 608.3L535.3 607.2L536.6 607.1L538 606.3L539.3 605.4L540.6 605.4L542 605.4L543.3 605.4L544.7 604.9L546 604.5L547.4 603.8L548.7 603.5L550.1 603.5L551.4 603.5L552.8 603.5L554.2 602.9L555.5 601.2L555.8 601.1L556.9 601.1L558.3 601.1L559.7 601.1L561 601L562.4 601L563.8 599.5L565.2 598.7L566.6 598.7L568 598.3L569.4 597.5L570.8 597.5L572.2 596.9L573.6 596.9L575 594.9L576.4 594.9L577.8 594.3L579.2 593.4L580.7 593.3L582.1 593.3L583.5 593.3L584.9 591.2L586.4 590.8L587.8 590.8L589.2 590.2L590.7 590.2L592.1 590L593.6 590L594.5 588.7L595 587.6L596.5 587.6L597.9 587.6L599.4 587.4L600.8 587.3L602.3 587.3L603.8 586.8L605.2 585.2L606.7 585.2L608.2 585.1L609.7 585L611.2 584.4L612.6 584.4L614.1 584.4L615.6 582.2L617.1 582.2L618.6 582.2L620.1 582.2L621.6 582.2L623.1 582.2L624.6 580.5L626.1 580.5L627.7 580.3L629.2 580.3L630.7 579.8L632.2 579.5L632.5 579.5L633.8 579.5L635.3 577.4L636.8 577.4L638.4 577.4L639.9 577.4L641.4 576.1L643 576.1L644.5 576L646.1 575L647.7 574L649.2 574L650.8 574L652.3 573.5L653.9 573.5L655.5 570.8L657.1 570.8L658.6 570.8L660.2 570.8L661.8 570.8L663.4 570.2L665 569.6L666.6 568.8L668.2 568.8L669.8 568.8L670.6 568.8L671.4 567.9L673 567.9L674.6 567.9L676.2 567.9L677.8 567.4L679.5 567.4L681.1 567.2L682.7 567.2L684.4 567.2L686 566.8L687.6 566.5L689.3 566.5L690.9 566.5L692.6 566.2L694.2 566.2L695.9 566L697.5 565.7L699.2 565.7L700.9 565.7L702.5 565.6L704.2 565.3L705.9 565.2L707.6 564.7L709.2 564.7L709.3 564.7L710.9 564.5L712.6 564L714.3 564L716 563.8L717.7 562.9L719.4 562.9L721.1 562.9L722.8 562.9L724.5 561.5L726.2 561.5L728 560.5L729.7 560.5L731.4 560.4L733.2 559.9L734.9 559.5L736.6 559.5L738.4 558.9L740.1 558.7L741.9 558.1L743.6 557.8L745.4 557.8L747.1 557.2L748.1 556.6L748.9 556.5L750.7 556.5L752.4 556.3L754.2 556.2L756 556L757.8 555.5L759.5 555.3L761.3 555.2L763.1 554.8L764.9 554.6L766.7 554.3L768.5 553.9L770.3 553.9L772.1 553.6L773.9 553L775.8 553L777.6 552.9L779.4 552.6L781.2 552.3L783.1 552.2L784.9 551.9L786.7 551.8L788.6 551.4L790.4 551.3L792.3 551.2L794.1 550.9L796 550.7L797.8 550.6L799.7 550.4" stroke="#4D7FCB" stroke-width="2.95" stroke-linecap="square"/>
<path d="M120.2 927.6L120.9 924.6L121.6 921.5L122.3 918.4L123.1 915.3L123.8 912.3L124.5 909.2L125.2 906.1L125.9 903.2L126.6 900.1L127.3 896.4L128.1 892.7L128.8 889.5L129.5 886.4L130.2 882.7L130.8 879.5L130.9 879L131.6 875.8L132.3 872.7L133 868.5L133.8 863.9L134.5 860.6L135.2 858.6L135.5 857.8L135.9 856.3L136.6 853.2L137.3 850.6L138.1 849L138.8 847.1L139.5 844.9L140.2 843.6L140.9 843.4L141.6 842.3L142.3 839.1L143.1 835.8L143.8 834.7L144.5 834.7L144.9 834.7L145.2 834.5L145.9 831.5L146.7 828.4L147.4 827.3L148.1 826.8L148.8 824.7L149.5 821.7L150.2 820.2L151 820.1L151.7 818.8L152.4 815.7L153.1 813.3L153.8 813L154.6 812.6L155.3 810.7L155.5 809.8L156 808.6L156.7 807.7L157.4 806.7L158.2 804L158.9 801.7L159.6 801.7L160.3 801.7L161.1 801.6L161.8 798.6L162.5 796.6L163.2 796.1L164 795.5L164.7 794.4L165.4 793.4L166.1 792.1L166.9 790L167.6 788.4L168.3 788.3L169 788.3L169.7 786.9L169.8 786.6L170.5 784.6L171.2 784.1L171.9 783.9L172.7 782L173.4 779.3L174.1 778L174.9 778L175.6 777.2L176.3 775.2L177.1 773.6L177.8 772.7L178.5 771.9L179.3 771.2L180 771.1L180.7 770.4L181.5 768.4L182.2 765.9L182.9 764.5L183.7 763.9L184.4 762.9L185 761.8L185.1 761.5L185.9 760.5L186.6 760L187.4 759.8L188.1 759.8L188.8 759.4L189.6 758L190.3 756L191.1 754.5L191.8 753.8L192.6 752.9L193.3 751.2L194 749.8L194.8 749.6L195.5 749.6L196.3 749.6L197 749.4L197.8 747.8L198.5 747L199.3 746.7L200 745.4L200.8 743L201.5 741.5L202.3 741.5L203 741.5L203.8 740.5L204.5 739.2L205.1 739L205.3 739L206 739L206.8 738.1L207.6 736.9L208.3 736.4L209.1 735.2L209.8 732.8L210.6 730.9L211.3 730.9L212.1 730.9L212.9 730.8L213.6 728.6L214.4 727.5L215.2 727.5L215.9 727.5L216.7 726.5L217.5 724.5L218.2 723.5L219 723.1L219.8 721.7L220.5 720L221.3 719.8L222.1 719.8L222.8 719.8L223.6 718L224.4 716.6L225.2 716.2L225.9 715.3L226.2 714.8L226.7 714.2L227.5 714.2L228.3 714.2L229.1 712.6L229.8 710.8L230.6 710.8L231.4 710.8L232.2 710.5L233 708.3L233.7 707.9L234.5 707.3L235.3 705.7L236.1 705.5L236.9 705.5L237.7 705.5L238.5 704.1L239.3 703.1L240.1 703.1L240.8 703.1L241.6 701L242.4 700.5L243.2 700.5L244 699.6L244.8 697.6L245.6 697.6L246.4 697.6L247.2 697.6L248 696.7L248.8 695.9L249.6 695.8L250.4 695.1L251.2 694L252.1 693.4L252.9 693.1L253.7 692.3L254.5 691.1L254.5 691.1L255.3 690.7L256.1 690.7L256.9 690.7L257.7 690L258.6 688.6L259.4 688.3L260.2 688.3L261 687.4L261.8 686.3L262.6 686.1L263.5 686L264.3 685.2L265.1 684.4L265.9 684L266.8 683.6L267.6 682.9L268.4 682.2L269.3 682.1L270.1 681.9L270.9 681.2L271.8 680.5L272.6 680.3L273.4 679.8L274.3 678.3L275.1 677.4L276 677.4L276.8 677.4L277.6 676.4L278.5 676.4L279.3 676.4L280.2 676L281 674.8L281.9 674.4L282.7 673.5L283.6 672.6L284.4 672.6L285.3 672.6L286.1 670.7L287 670L287.9 670L288.7 670L289.6 669.4L290.4 668.9L291.3 668.9L292.1 668.4L292.2 668.3L293 667L293.9 667L294.8 666.7L295.6 665L296.5 664.5L297.4 664.5L298.3 664.5L299.1 664.2L300 664.1L300.9 663.5L301.8 661.9L302.7 660.9L303.5 660.9L304.4 660.9L305.3 659.4L306.2 657.6L307.1 657.6L308 657.6L308.9 657.6L309.8 657L310.7 657L311.6 656.8L312.5 655.4L313.3 655.2L314.3 654.6L315.2 652.9L316.1 652.4L317 652.4L317.9 652.4L318.8 652.4L319.7 652.4L320.6 651.6L321.5 649.6L322.4 649.3L323.3 649.3L324.3 648.3L325.2 647.3L326.1 647.3L327 647.3L327.9 647.3L328.9 647.3L329.8 646L330.7 644.5L331.7 644.5L332.2 644.5L332.6 644.5L333.5 643.4L334.5 643.1L335.4 643.1L336.3 643.1L337.3 641.5L338.2 641.5L339.2 641.5L340.1 640.2L341.1 640L342 640L343 639.6L343.9 639.3L344.9 639.3L345.8 638.1L346.8 637.5L347.7 637.5L348.7 636.6L349.6 635.7L350.6 635.7L351.6 635.7L352.5 635.7L353.5 635.5L354.5 634.8L355.5 634.4L356.4 633.8L357.4 632L358.4 631.8L359.4 631.8L360.3 631.8L361.3 631.8L362.3 631.8L363.3 631.3L364.3 629.9L365.3 629.9L366.3 629.3L367.3 628.4L368.3 628.4L369.3 628.4L370.3 628.4L371.3 628.4L372.3 627.7L373.3 626.6L374.3 626.3L375.3 626.3L376.3 625.9L377.3 624.9L378.3 624.9L379.3 624.9L380.4 624.9L381.4 624.4L382.4 623.7L383.4 623.2L384.5 623L385.5 622.8L386.5 622.3L387.6 621.7L388.6 621.4L389.6 621.4L390.7 621.4L391.1 621.1L391.7 620.5L392.7 620.1L393.8 620.1L394.8 619.8L395.9 619.6L396.9 618.9L398 618L399 618L400.1 618L401.2 618L402.2 617.2L403.3 617.2L404.3 617.2L405.4 616.2L406.5 616.1L407.5 615.6L408.6 615.1L409.7 615.1L410.8 615.1L411.8 614.6L412.9 614.6L414 613.9L415.1 613.6L416.2 613.6L417.3 613L418.4 612.9L419.5 612.9L420.6 612.6L421.7 612.2L422.8 611.8L423.9 611.8L425 611.5L426.1 610.7L427.2 610.7L428.3 610.7L429.4 610L430.5 610L431.6 609.8L432.8 609.7L433.9 609.2L435 608.6L436.1 608.6L437.3 608.4L438.4 607.9L439.5 607.9L440.7 607.4L441.8 607.4L442.9 607.2L444.1 606.9L445.2 606.4L446.4 605.8L447.5 605.8L448.7 605.6L449.8 604.5L451 604.5L452.1 604.5L453.3 603.9L454.5 603.9L455.6 603.7L456.8 603.5L458 603.5L459.1 602.5L459.9 602.5L460.3 602.5L461.5 602.5L462.7 601.5L463.8 601.5L465 600.9L466.2 600.9L467.4 600.9L468.6 599.6L469.8 599.6L471 599.6L472.2 599.6L473.4 599.1L474.6 598.8L475.8 598.8L477 598.1L478.2 597.5L479.4 597.2L480.6 596.9L481.9 596.9L483.1 596.9L484.3 596.4L485.5 596L486.8 595.7L488 594.7L489.2 594.3L490.5 594.3L491.7 594.3L492.9 594.3L494.2 593.5L495.4 593.5L496.7 592L497.9 592L498 592L499.2 592L500.4 592L501.7 592L502.9 591.4L504.2 590.7L505.5 590.3L506.7 590L508 590L509.3 589.9L510.6 589.7L511.8 589.1L513.1 588.5L514.4 588.3L515.7 587.9L517 587.4L518.3 587.4L519.6 587.4L520.9 586.3L522.2 586.3L523.5 586.2L524.8 585.5L526.1 585.5L527.4 584.8L528.7 584.8L530 584.1L531.3 583.9L532.7 583.9L534 583.8L535.3 583.7L536.6 582.5L536.7 582.5L538 582.5L539.3 582.3L540.6 582.3L542 582L543.3 582L544.7 581.5L546 580.9L547.4 580.9L548.7 580.8L550.1 580.8L551.4 580.1L552.8 580.1L554.2 580L555.5 579.8L556.9 579.8L558.3 579.3L559.7 579.3L561 578.6L562.4 578.6L563.8 578.6L565.2 578.2L566.6 578.2L568 577.9L569.4 577.8L570.8 577.4L572.2 577.4L573.6 577.4L575 577.3L576.4 577.1L577.8 576.3L579.2 576.3L580.7 576.2L582.1 576.2L583.5 576.2L584.9 575.7L586.4 575.4L587.8 575.2L589.2 574.9L590.7 574.9L592.1 574.9L593.6 574.2L594.5 574.2L595 574.2L596.5 573.8L597.9 573.8L599.4 573.4L600.8 573.4L602.3 572.8L603.8 572.8L605.2 572.8L606.7 572.7L608.2 571.9L609.7 571.7L611.2 571.7L612.6 571.1L614.1 571.1L615.6 571.1L617.1 570.7L618.6 570.3L620.1 570.3L621.6 569.9L623.1 569.9L624.6 569.9L626.1 569.6L627.7 568.7L629.2 568.7L630.7 568.7L632.2 568.6L633.8 568.5L635.3 568.3L636.8 567.4L638.4 567.4L639.9 567.4L641.4 567L643 566.8L644.5 566.7L646.1 566.7L647.7 566.3L649.2 566.2L650.8 565.6L651.6 565.6L652.3 565.2L653.9 565.2L655.5 565.2L657.1 565.1L658.6 564.8L660.2 563.9L661.8 563.9L663.4 563.8L665 563.8L666.6 563.7L668.2 563.1L669.8 562.2L671.4 562.2L673 562.2L674.6 562.2L676.2 562L677.8 561.5L679.5 561.1L681.1 561L682.7 561L684.4 560.2L686 560.2L687.6 560L689.3 559.7L690.9 559.4L692.6 559.4L694.2 558.9L695.9 558.9L697.5 558.5L699.2 558.3L700.9 558L702.5 558L704.2 557.6L705.9 557.6L707.6 557.4L709.2 556.7L709.3 556.7L710.9 556.7L712.6 556.7L714.3 556.4L716 556.4L717.7 555.6L719.4 555.6L721.1 555.5L722.8 555.5L724.5 555L726.2 555L728 555L729.7 554.7L731.4 554.7L733.2 554L734.9 554L736.6 554L738.4 554L740.1 553.8L741.9 553.4L743.6 553.4L745.4 553.3L747.1 553.3L748.1 553.2L748.9 553L750.7 553L752.4 552.6L754.2 552.6L756 552.5L757.8 552.5L759.5 552.3L761.3 552.2L763.1 552.2L764.9 551.9L766.7 551.9L768.5 551.8L770.3 551.8L772.1 551.4L773.9 551.4L775.8 551.3L777.6 551.3L779.4 551.2L781.2 551L783.1 551L784.9 550.9L786.7 550.9L788.6 550.8L790.4 550.7L792.3 550.6L794.1 550.6L796 550.5L797.8 550.5L799.7 550.4" stroke="#E50914" stroke-width="2.95" stroke-linecap="square"/>
<path d="M120.2 927.6L799.7 550.4" stroke="#000" stroke-width="2.78" stroke-dasharray="10.28 4.44"/>
</g>
<rect x="120.2" y="531.5" width="679.5" height="396.1" fill="none" stroke="#111" stroke-width="1.11"/>
<g stroke="#111" stroke-width="1.11"><path d="M120.2 927.6v4.9"/><path d="M120.2 927.6h-4.9"/><path d="M256.1 927.6v4.9"/><path d="M120.2 852.2h-4.9"/><path d="M392 927.6v4.9"/><path d="M120.2 776.7h-4.9"/><path d="M527.9 927.6v4.9"/><path d="M120.2 701.3h-4.9"/><path d="M663.8 927.6v4.9"/><path d="M120.2 625.8h-4.9"/><path d="M799.7 927.6v4.9"/><path d="M120.2 550.4h-4.9"/></g>
<g font-family="'DejaVu Sans', 'Liberation Sans', sans-serif" font-size="19.44" letter-spacing="0.56" fill="#000" stroke="#000" stroke-width="0.35"><text x="120.2" y="952.7" text-anchor="middle" letter-spacing="0">0.0</text><text x="110.5" y="935" text-anchor="end" letter-spacing="0">0.0</text><text x="256.1" y="952.7" text-anchor="middle" letter-spacing="0">0.2</text><text x="110.5" y="859.5" text-anchor="end" letter-spacing="0">0.2</text><text x="392" y="952.7" text-anchor="middle" letter-spacing="0">0.4</text><text x="110.5" y="784.1" text-anchor="end" letter-spacing="0">0.4</text><text x="527.9" y="952.7" text-anchor="middle" letter-spacing="0">0.6</text><text x="110.5" y="708.7" text-anchor="end" letter-spacing="0">0.6</text><text x="663.8" y="952.7" text-anchor="middle" letter-spacing="0">0.8</text><text x="110.5" y="633.2" text-anchor="end" letter-spacing="0">0.8</text><text x="799.7" y="952.7" text-anchor="middle" letter-spacing="0">1.0</text><text x="110.5" y="557.8" text-anchor="end" letter-spacing="0">1.0</text><text x="460" y="523.2" text-anchor="middle">ROC curve</text><text x="460" y="977" text-anchor="middle">False Positive Rate</text><text transform="translate(69.4 729.6) rotate(-90)" text-anchor="middle">True Positive Rate</text></g>
<rect x="398.3" y="772.8" width="393.5" height="146" rx="3.1" fill="#fff" fill-opacity="0.8" stroke="#ccc" stroke-opacity="0.8" stroke-width="1.39"/>
<g font-family="'DejaVu Sans', 'Liberation Sans', sans-serif" font-size="15.28" letter-spacing="0.44" fill="#000" stroke="#000" stroke-width="0.30"><path d="M404.8 786.8H437" fill="none" stroke="#E6177A" stroke-width="5.56" stroke-dasharray="5.56 9.17"/><text x="450" y="791.8">micro-average ROC curve (area = 0.841)</text><path d="M404.8 810.3H437" fill="none" stroke="#111E57" stroke-width="5.60" stroke-dasharray="5.60 9.24"/><text x="450" y="815.3">macro-average ROC curve (area = 0.741)</text><path d="M404.8 833.8H437" fill="none" stroke="#52BFCF" stroke-width="2.95" stroke-linecap="square"/><text x="450" y="838.8">Class 0 (area = 0.796)</text><path d="M404.8 857.3H437" fill="none" stroke="#F07F09" stroke-width="2.95" stroke-linecap="square"/><text x="450" y="862.3">Class 1 (area = 0.717)</text><path d="M404.8 880.8H437" fill="none" stroke="#4D7FCB" stroke-width="2.95" stroke-linecap="square"/><text x="450" y="885.8">Class 2 (area = 0.667)</text><path d="M404.8 904.3H437" fill="none" stroke="#E50914" stroke-width="2.95" stroke-linecap="square"/><text x="450" y="909.3">Class 3 (area = 0.784)</text></g>
<clipPath id="cpD"><rect x="1074.4" y="531.5" width="679.5" height="396.1"/></clipPath>
<g clip-path="url(#cpD)" fill="none" stroke-linejoin="round">
<path d="M1072.4 921.8v6.3L1076.6 921.8v6.3M1072.8 907.4v6.3L1077 907.4v6.3M1073.3 893.2v6.3L1077.4 893.2v6.3M1074.3 879.5v6.3L1078.4 879.5v6.3M1076 866.4v6.3L1080.1 866.4v6.3M1078.1 853.9v6.3L1082.3 853.9v6.3M1080 841v6.3L1084.1 841v6.3M1082 828.3v6.3L1086.2 828.3v6.3M1084.3 815.9v6.3L1088.5 815.9v6.3M1087 803.9v6.3L1091.2 803.9v6.3M1090.3 792.4v6.3L1094.4 792.4v6.3M1094 781.4v6.3L1098.1 781.4v6.3M1097.9 770.6v6.3L1102.1 770.6v6.3M1102.3 760.3v6.3L1106.4 760.3v6.3M1107.1 750.4v6.3L1111.3 750.4v6.3M1112.4 740.9v6.3L1116.5 740.9v6.3M1118.2 732v6.3L1122.4 732v6.3M1124.5 723.6v6.3L1128.6 723.6v6.3M1131.2 715.6v6.3L1135.4 715.6v6.3M1137.4 709.2h6.3L1137.4 713.3h6.3M1145 702.1h6.3L1145 706.2h6.3M1153 695.4h6.3L1153 699.5h6.3M1161.5 689h6.3L1161.5 693.2h6.3M1170.2 683h6.3L1170.2 687.2h6.3M1179.1 677.2h6.3L1179.1 681.4h6.3M1188.3 671.8h6.3L1188.3 675.9h6.3M1198.1 666.8h6.3L1198.1 671h6.3M1208.7 662.6h6.3L1208.7 666.8h6.3M1219.8 659h6.3L1219.8 663.2h6.3M1231 655.6h6.3L1231 659.7h6.3M1242.2 652h6.3L1242.2 656.1h6.3M1253.3 648.4h6.3L1253.3 652.6h6.3M1264.4 644.8h6.3L1264.4 648.9h6.3M1275.2 640.8h6.3L1275.2 645h6.3M1285.6 636.5h6.3L1285.6 640.7h6.3M1295.8 632h6.3L1295.8 636.2h6.3M1306 627.4h6.3L1306 631.6h6.3M1316.2 623h6.3L1316.2 627.2h6.3M1326.9 618.9h6.3L1326.9 623.1h6.3M1337.9 615.2h6.3L1337.9 619.4h6.3M1349.2 611.8h6.3L1349.2 615.9h6.3M1360.7 608.6h6.3L1360.7 612.7h6.3M1372.7 605.8h6.3L1372.7 610h6.3M1385.1 603.6h6.3L1385.1 607.7h6.3M1397.8 601.4h6.3L1397.8 605.6h6.3M1410.2 599.1h6.3L1410.2 603.3h6.3M1422.2 596.5h6.3L1422.2 600.6h6.3M1434 593.6h6.3L1434 597.7h6.3M1445.7 590.5h6.3L1445.7 594.7h6.3M1457.4 587.5h6.3L1457.4 591.6h6.3M1469.1 584.5h6.3L1469.1 588.6h6.3M1480.8 581.4h6.3L1480.8 585.6h6.3M1492.4 578.3h6.3L1492.4 582.5h6.3M1504.1 575.3h6.3L1504.1 579.4h6.3M1515.9 572.4h6.3L1515.9 576.5h6.3M1528 569.8h6.3L1528 573.9h6.3M1540.4 567.4h6.3L1540.4 571.6h6.3M1552.9 565.2h6.3L1552.9 569.3h6.3M1565.5 563.1h6.3L1565.5 567.3h6.3M1578.4 561.3h6.3L1578.4 565.4h6.3M1591.5 559.6h6.3L1591.5 563.8h6.3M1604.8 558.2h6.3L1604.8 562.4h6.3M1618.3 557h6.3L1618.3 561.1h6.3M1631.8 555.7h6.3L1631.8 559.9h6.3M1645.2 554.5h6.3L1645.2 558.6h6.3M1658.6 553.1h6.3L1658.6 557.2h6.3M1671.9 551.7h6.3L1671.9 555.8h6.3M1685.4 550.5h6.3L1685.4 554.6h6.3M1699.3 549.6h6.3L1699.3 553.8h6.3M1713.5 549.1h6.3L1713.5 553.3h6.3M1727.7 548.7h6.3L1727.7 552.8h6.3M1742.2 548.4h6.3L1742.2 552.5h6.3" fill="none" stroke="#E6177A" stroke-width="2.3" stroke-linejoin="bevel"/>
<path d="M1076.9 928.8L1079.1 924.4L1074 922L1071.9 926.4ZM1082.7 916.8L1084.9 912.4L1079.9 909.9L1077.7 914.3ZM1088.6 904.8L1090.8 900.4L1085.7 897.9L1083.6 902.3ZM1094.4 892.7L1096.6 888.3L1091.6 885.8L1089.4 890.2ZM1100.4 881L1102.9 876.8L1098 874L1095.6 878.2ZM1107.2 869.8L1109.9 865.8L1105.2 862.7L1102.5 866.7ZM1114.5 859.1L1117.5 855.3L1113 851.9L1110.1 855.7ZM1122.6 849L1125.8 845.3L1121.5 841.7L1118.4 845.3ZM1131.3 839.2L1134.5 835.7L1130.4 831.9L1127.2 835.4ZM1140.2 829.7L1143.5 826.3L1139.5 822.4L1136.2 825.8ZM1149.3 820.5L1152.8 817.1L1148.8 813.1L1145.4 816.5ZM1158.7 811.3L1162.1 807.9L1158.2 803.9L1154.8 807.3ZM1168.1 802.2L1171.5 798.8L1167.6 794.8L1164.2 798.1ZM1177.5 793.2L1181.1 790L1177.4 785.8L1173.8 789ZM1187.3 784.8L1191.1 781.9L1187.7 777.4L1183.9 780.4ZM1197.7 776.9L1201.6 774.1L1198.3 769.6L1194.4 772.4ZM1208.4 769.2L1212.3 766.3L1209 761.8L1205.1 764.7ZM1219 761.3L1222.8 758.4L1219.4 753.9L1215.6 756.9ZM1229.4 753.3L1233.3 750.4L1229.9 746L1226.1 748.9ZM1239.9 745.4L1243.8 742.5L1240.4 738L1236.5 740.9ZM1250.4 737.6L1254.3 734.7L1251 730.2L1247.1 733ZM1261 729.8L1264.9 726.9L1261.6 722.4L1257.7 725.3ZM1271.7 722.1L1275.6 719.2L1272.3 714.7L1268.4 717.5ZM1282.4 714.4L1286.3 711.5L1283 707L1279.1 709.8ZM1293 706.6L1296.9 703.8L1293.6 699.2L1289.7 702.1ZM1303.6 699L1307.6 696.3L1304.5 691.7L1300.5 694.4ZM1314.6 691.9L1318.8 689.4L1315.9 684.6L1311.7 687.1ZM1325.9 685.2L1330.2 682.8L1327.4 677.9L1323.2 680.3ZM1337.5 678.8L1341.8 676.4L1339.2 671.5L1334.9 673.8ZM1349.2 672.5L1353.6 670.2L1351 665.3L1346.6 667.5ZM1361 666.3L1365.4 664.1L1362.8 659.1L1358.5 661.3ZM1372.9 660.3L1377.3 658.2L1374.8 653.1L1370.4 655.3ZM1384.9 654.5L1389.3 652.3L1386.9 647.3L1382.5 649.4ZM1397 648.7L1401.4 646.5L1399 641.5L1394.5 643.6ZM1409 642.9L1413.5 640.9L1411.1 635.8L1406.7 637.8ZM1421.2 637.7L1425.9 636L1423.9 630.8L1419.3 632.5ZM1433.9 633.2L1438.7 631.6L1436.9 626.3L1432.1 627.9ZM1446.9 628.9L1451.6 627.3L1449.9 622L1445.1 623.6ZM1459.9 624.6L1464.6 623L1462.8 617.7L1458 619.3ZM1472.8 620L1477.4 618.2L1475.4 613L1470.8 614.8ZM1485.4 614.9L1489.9 613L1487.8 607.9L1483.2 609.8ZM1497.8 609.7L1502.4 607.9L1500.3 602.7L1495.7 604.5ZM1510.2 604.9L1515 603.4L1513.2 598.1L1508.5 599.6ZM1523.2 600.9L1528 599.5L1526.5 594.1L1521.7 595.5ZM1536.4 597.1L1541.3 595.7L1539.7 590.3L1534.9 591.7ZM1549.6 593.2L1554.5 591.8L1552.9 586.4L1548.1 587.9ZM1562.8 589.4L1567.6 588L1566.1 582.6L1561.2 584ZM1576 585.6L1580.9 584.3L1579.4 578.9L1574.5 580.2ZM1589.3 582.2L1594.2 581L1592.9 575.6L1588 576.7ZM1602.8 579L1607.8 577.9L1606.5 572.5L1601.6 573.6ZM1616.4 576L1621.4 575L1620.2 569.5L1615.2 570.6ZM1630 573.2L1635 572.2L1633.9 566.7L1628.9 567.7ZM1643.7 570.5L1648.7 569.5L1647.6 564L1642.6 565ZM1657.4 567.8L1662.5 566.8L1661.4 561.3L1656.4 562.3ZM1671.2 565.1L1676.2 564.2L1675.2 558.7L1670.1 559.6ZM1684.9 562.6L1690 561.7L1689.1 556.2L1684 557.1ZM1698.8 560.3L1703.9 559.5L1703.1 554L1697.9 554.8ZM1712.8 558.2L1717.9 557.5L1717.1 552L1712 552.7ZM1726.8 556.3L1732 555.7L1731.3 550.1L1726.1 550.8ZM1740.9 554.6L1746.1 554L1745.5 548.5L1740.3 549.1Z" fill="#111E57" stroke="none"/>
<path d="M1074.4 927.6L1075.1 923.6L1075.8 919.6L1076.5 915.7L1077.3 912.2L1078 908.9L1078.7 905.7L1079.2 903.6L1079.4 902.6L1080.1 899.6L1080.8 896.9L1081.5 894.7L1082.3 893L1083 891.1L1083.7 888.4L1084.4 885.5L1085.1 883L1085.8 881L1086.2 879.9L1086.5 878.6L1087.2 876.4L1088 874.7L1088.7 872.7L1089.4 869.7L1090.1 866.8L1090.8 865.3L1091.5 865L1092.3 864.2L1093 862.5L1093.7 860.3L1094.4 857.7L1094.4 857.6L1095.1 854.7L1095.8 852L1096.5 850.3L1097.3 849.2L1098 848.3L1098.7 847.4L1099.4 846.6L1100.1 845.6L1100.9 844.6L1101.6 844L1102.3 842.9L1103 840.1L1103.7 836.6L1104.4 834.4L1105.2 834.1L1105.9 833.9L1106.2 833.5L1106.6 832.9L1107.3 831.7L1108 830.7L1108.8 829.2L1109.5 827.3L1110.2 825.9L1110.9 825.1L1111.6 824.2L1112.4 822.6L1113.1 820.9L1113.8 819.3L1114.5 817.9L1115.3 816.8L1116 815.9L1116.7 814.8L1117.4 813L1118.2 811.3L1118.9 810.1L1119.2 809.5L1119.6 808.8L1120.3 807.4L1121.1 806.5L1121.8 805.9L1122.5 804L1123.2 801L1124 798.6L1124.7 797.7L1125.4 796.7L1126.1 794.6L1126.9 792.1L1127.6 790.5L1128.3 789.9L1129.1 789.6L1129.8 789.3L1130.5 788.5L1130.8 788L1131.3 786.9L1132 784.8L1132.7 783.1L1133.5 781.9L1134.2 780.7L1134.9 779.9L1135.7 779.7L1136.4 779.3L1137.1 778.7L1137.9 778.7L1138.6 778.7L1139.3 777.9L1140.1 775.8L1140.8 774.2L1141.6 773.5L1142.3 772.9L1143 772L1143.8 771.8L1144.5 771.8L1145.3 771.8L1146 770.3L1146.8 768.8L1147.5 768.3L1148.2 768.3L1149 768.3L1149.7 768.3L1150.5 767L1151.2 764.6L1152 763.3L1152.7 763.3L1153.5 763.3L1154.2 763L1154.6 762.7L1155 762.4L1155.7 761.7L1156.5 760.6L1157.2 759.8L1158 759.8L1158.7 759.8L1159.5 758.3L1160.2 756.3L1161 755.4L1161.8 754.9L1162.5 754L1163.3 753.1L1164 752.8L1164.8 752.8L1165.5 752.6L1166.3 751.9L1167.1 751.1L1167.8 750.1L1168.6 749.2L1169.4 748.2L1170.1 746.3L1170.9 744.5L1171.7 744.3L1172.4 744.3L1173.2 744.3L1174 744.2L1174.7 743.1L1175.5 742.3L1176.3 741.1L1177 740L1177.8 739.5L1178.1 739.3L1178.6 738.6L1179.4 737L1180.1 736.1L1180.9 736.1L1181.7 736.1L1182.5 734.9L1183.3 732.7L1184 731L1184.8 730.3L1185.6 730.3L1186.4 730.3L1187.2 729.4L1187.9 727.8L1188.7 726.7L1189.5 725.6L1190.3 723.9L1191.1 722.8L1191.9 722.8L1192.7 722.3L1193.5 720.6L1194.3 719.5L1195 719.5L1195.8 719.3L1196.6 718.5L1197.4 717.6L1198.2 716.3L1199 714.8L1199.3 714.4L1199.8 714L1200.6 714L1201.4 714L1202.2 713.3L1203 712.3L1203.8 711.6L1204.6 711.5L1205.4 711.5L1206.3 711L1207.1 709.1L1207.9 707.9L1208.7 707.9L1209.5 707.9L1210.3 707.9L1211.1 707.9L1211.9 707.3L1212.8 705.8L1213.6 704.6L1214.4 704.5L1215.2 704.5L1216 704.5L1216.8 704.5L1217.7 704.5L1218.5 703.7L1219.3 703L1220.1 702.4L1221 701.6L1221.8 700.9L1222.6 700.6L1223.5 700.4L1224.3 700.4L1225.1 700.4L1226 700.4L1226.8 699.3L1227.6 698.3L1228.5 698.3L1229.3 698L1230.2 696.8L1231 696.1L1231.8 696.1L1232.7 696.1L1233.5 696L1234.4 695.3L1235.2 694.3L1236.1 693.5L1236.9 693.2L1237.8 693L1238.6 692.8L1239.3 692.5L1239.5 692.4L1240.3 691.3L1241.2 690.2L1242.1 690.1L1242.9 689.7L1243.8 688.2L1244.6 687.1L1245.5 686.9L1246.4 686.7L1247.2 686.7L1248.1 686.7L1249 686.7L1249.8 683.9L1250.7 681.4L1251.6 680.7L1252.5 680.7L1253.3 680.7L1254.2 680.7L1255.1 680.4L1256 679.7L1256.9 679L1257.7 678L1258.6 677.4L1259.5 676.6L1260.4 674.7L1261.3 673.7L1262.2 673.7L1263.1 673.5L1264 672.7L1264.9 672.7L1265.8 672.3L1266.7 671L1267.5 670.2L1268.5 669.4L1269.4 668.3L1270.1 667.6L1270.3 667.6L1271.2 667.2L1272.1 666.6L1273 665.9L1273.9 665L1274.8 664.6L1275.7 664.6L1276.6 664.6L1277.5 662.9L1278.5 661.9L1279.4 661.3L1280.3 660.2L1281.2 659.6L1282.1 659.6L1283.1 658.9L1284 658.6L1284.9 658.6L1285.9 658.2L1286.8 656.7L1287.7 655.2L1288.7 654L1289.6 654L1290.5 654L1291.5 654L1292.4 653.4L1293.4 652.1L1294.3 650.8L1295.3 650.8L1296.2 650.8L1297.2 649.5L1298.1 648.8L1299.1 648.8L1300 647.9L1301 646.9L1301.9 646.6L1302.9 646.3L1303.8 646.1L1304.8 645.4L1305.4 644.7L1305.8 644.3L1306.7 643.7L1307.7 643.2L1308.7 643L1309.7 642.8L1310.6 641.6L1311.6 640.7L1312.6 640.7L1313.6 640.2L1314.5 640L1315.5 639.9L1316.5 638.1L1317.5 636.8L1318.5 636.8L1319.5 636.8L1320.5 636.8L1321.5 636L1322.5 635.1L1323.5 634.7L1324.5 634L1325.5 633.6L1326.5 633.6L1327.5 633.4L1328.5 632.6L1329.5 632L1330.5 630.9L1331.5 630.5L1332.5 630.4L1333.5 629.5L1334.6 629.5L1335.6 629.5L1336.6 628.7L1337.6 627.5L1338.7 627L1339.7 626.6L1340.7 626.4L1341.8 626.3L1342.8 626.3L1343.8 625L1344.9 623.5L1345.9 623.5L1346.9 623.5L1348 623L1349 622.2L1350.1 621.6L1351.1 621.6L1352.2 621.6L1352.3 621.6L1353.2 620.3L1354.3 618.8L1355.4 618.8L1356.4 618.8L1357.5 618.8L1358.5 618.8L1359.6 617.6L1360.7 615.7L1361.7 615.2L1362.8 615.2L1363.9 615.2L1365 615L1366 614.7L1367.1 613.8L1368.2 613.2L1369.3 612.7L1370.4 611.9L1371.5 611.9L1372.6 611.7L1373.7 611.4L1374.8 611.2L1375.9 610.1L1377 609L1378.1 608.5L1378.1 608.5L1379.2 608.5L1380.3 608.5L1381.4 607.6L1382.5 607.6L1383.6 607.5L1384.7 606.7L1385.8 606.5L1387 605.6L1388.1 605.2L1389.2 605.2L1390.3 605L1391.5 604.6L1392.6 603.9L1393.7 603.9L1394.9 603.9L1396 603.3L1397.1 601.9L1398.3 601L1399.4 601L1400.6 601L1401.7 601L1402.9 601L1404 600L1405.2 599.4L1406.3 599.3L1407.5 599.2L1408.7 599L1409.8 598.9L1411 598.9L1412.2 598.6L1413.3 598L1414.2 597.1L1414.5 596.8L1415.7 596.3L1416.9 596.2L1418 596.2L1419.2 596.2L1420.4 595.9L1421.6 595.2L1422.8 595.1L1424 594.4L1425.2 593.9L1426.4 593.4L1427.6 593.2L1428.8 593.2L1430 593.2L1431.2 592.8L1432.4 592.2L1433.6 591.7L1434.8 591.1L1436.1 591L1437.3 590.6L1438.5 590.6L1439.7 590.6L1441 590.3L1442.2 589.8L1442.7 589.6L1443.4 589.4L1444.7 589.4L1445.9 589.3L1447.1 588.9L1448.4 588.6L1449.6 588.6L1450.9 588.6L1452.1 588.5L1453.4 587.9L1454.6 587.5L1455.9 587.5L1457.1 587.5L1458.4 587.5L1459.7 587.5L1460.9 587.5L1462.2 587.5L1463.5 586.6L1464.8 586.1L1466 586.1L1467.3 586.1L1468.6 586.1L1469.9 586.1L1471.2 585.4L1471.9 585.4L1472.5 585.4L1473.8 585.4L1475.1 585.2L1476.4 585.2L1477.7 585.2L1479 584.5L1480.3 584.1L1481.6 584.1L1482.9 584.1L1484.2 583.5L1485.5 583.1L1486.9 583.1L1488.2 582.8L1489.5 582.8L1490.8 581.7L1492.2 581.7L1493.5 581.7L1494.8 581.3L1496.2 580.8L1497.5 580.6L1498.9 580.4L1500.2 580.4L1501.6 579.2L1502.9 579L1504.3 579L1505.6 579L1507 577.8L1508.4 577.3L1509.7 577.3L1511.1 577.3L1512.5 577.3L1513.9 576.7L1515.2 576L1516.6 576L1518 575.7L1519.4 575.7L1520.8 575.4L1522.2 574.8L1523.6 574.4L1525 574L1526.4 573.9L1527.8 573.8L1529 573.8L1529.2 573.8L1530.6 572.9L1532 572.6L1533.4 572.6L1534.9 572.1L1536.3 572.1L1537.7 572.1L1539.1 571.5L1540.6 571L1542 571L1543.4 571L1544.9 570.5L1546.3 570L1547.8 570L1549.2 570L1550.7 569.3L1552.1 569L1553.6 569L1555 568.6L1556.5 568.6L1558 567.9L1559.4 567.9L1560.9 567.9L1562.4 567.4L1563.9 566.8L1565.4 566.8L1566.8 566.8L1568.3 566.3L1569.8 566.3L1571.3 566.1L1572.8 565.9L1574.3 565.3L1575.8 565.3L1577.3 565.3L1578.8 564.6L1580.3 564.6L1581.9 564.5L1583.4 564.1L1584.9 564.1L1586.4 564.1L1586.7 564.1L1588 563.3L1589.5 563.1L1591 563L1592.6 563L1594.1 562.8L1595.6 562.6L1597.2 562.3L1598.7 562L1600.3 561.4L1601.9 561.2L1603.4 561.2L1605 561.2L1606.5 560.5L1608.1 560.4L1609.7 560.4L1611.3 559.5L1612.8 559.5L1614.4 559.5L1616 559.4L1617.6 558.9L1619.2 558.9L1620.8 558.8L1622.4 558.8L1624 558.6L1625.6 557.7L1627.2 557.7L1628.8 557.7L1630.4 557.4L1632 557.4L1633.7 557.2L1635.3 557L1636.9 557L1638.6 556.6L1640.2 556.5L1641.8 556.3L1643.5 556.3L1644.5 556.1L1645.1 556.1L1646.8 556.1L1648.4 555.7L1650.1 555.5L1651.7 555.5L1653.4 555.5L1655.1 555.5L1656.7 555.4L1658.4 555.1L1660.1 555.1L1661.8 554.8L1663.4 554.8L1665.1 554.8L1666.8 554.8L1668.5 554.5L1670.2 554.5L1671.9 554.4L1673.6 554.4L1675.3 554.4L1677 554.3L1678.7 554.1L1680.4 554.1L1682.2 554L1683.9 554L1685.6 554L1687.4 553.7L1689.1 553.6L1690.8 553.6L1692.6 553.6L1694.3 553.6L1696.1 553.5L1697.8 553.2L1699.6 553.2L1701.3 553.1L1702.3 553.1L1703.1 553.1L1704.9 552.8L1706.6 552.8L1708.4 552.8L1710.2 552.6L1712 552.6L1713.7 552.6L1715.5 552.3L1717.3 552.2L1719.1 552.2L1720.9 552.2L1722.7 552.2L1724.5 551.8L1726.3 551.8L1728.1 551.7L1730 551.7L1731.8 551.7L1733.6 551.4L1735.4 551.3L1737.3 551.3L1739.1 551.2L1740.9 551.1L1742.8 551L1744.6 550.9L1746.5 550.8L1748.3 550.7L1750.2 550.6L1752 550.5L1753.9 550.4" stroke="#52BFCF" stroke-width="2.95" stroke-linecap="square"/>
<path d="M1074.4 927.6L1075.1 927L1075.8 926.4L1076.5 925.6L1077.3 924.6L1078 923.8L1078.7 923.5L1079.4 923.1L1080.1 922.3L1080.8 921.2L1081.5 920.2L1082.3 919.8L1083 919.7L1083.7 919.1L1084.4 917.6L1085.1 915.8L1085.8 914.9L1086.5 914.9L1087.2 914.9L1088 914.6L1088.7 912.2L1089.4 910.4L1090.1 910.4L1090.8 910.4L1091.5 910.4L1092.3 908.3L1093 905.6L1093.7 904.9L1094.4 904.9L1095.1 904.9L1095.6 904.9L1095.8 904.9L1096.5 902.7L1097.3 900.8L1098 900.6L1098.7 900.6L1099.4 899.6L1100.1 897.4L1100.9 895.4L1101.6 894.9L1102.3 894.9L1103 894.9L1103.7 893.4L1104.4 890.4L1105.2 888.3L1105.9 888.2L1106.6 888.2L1107.3 888.2L1108 886.6L1108.8 883.4L1109.5 881.8L1110.2 881.8L1110.9 881.8L1111.6 881.8L1112.1 881.1L1112.4 880.2L1113.1 878.1L1113.8 877.6L1114.5 877.6L1115.3 877.3L1116 875.7L1116.7 874.3L1117.4 874L1118.2 874L1118.9 874L1119.6 872.8L1120.3 870.9L1121.1 869.5L1121.8 869L1122.5 869L1123.2 868.7L1124 867.7L1124.7 866.5L1125.4 865.9L1126.1 865.9L1126.9 865.9L1127.6 865.5L1128.3 863.7L1129.1 861.7L1129.8 860.6L1130.5 860.1L1131.3 859.5L1132 858.8L1132.7 858.6L1133.5 858.6L1134.2 858.6L1134.5 858.6L1134.9 858.6L1135.7 856.8L1136.4 854.2L1137.1 852L1137.9 850.9L1138.6 850.7L1139.3 850.7L1140.1 850.7L1140.8 850.7L1141.6 849.5L1142.3 848.1L1143 847L1143.8 846.3L1144.5 845.1L1145.3 843.5L1146 842.1L1146.8 841.5L1147.5 841.2L1148.2 840.6L1149 839.6L1149.7 838.8L1150.5 838.2L1151.2 837.5L1152 836.7L1152.7 835.8L1153.5 834.9L1154.2 833.8L1154.6 833.3L1155 832.8L1155.7 831.9L1156.5 831.3L1157.2 830.7L1158 830.3L1158.7 830.2L1159.5 830.2L1160.2 829.8L1161 828.4L1161.8 826.9L1162.5 826.1L1163.3 825.9L1164 825.5L1164.8 824.8L1165.5 824.3L1166.3 824.3L1167.1 824.3L1167.8 823.6L1168.6 822.2L1169.4 821.1L1170.1 820.9L1170.9 820.9L1171.7 820.6L1172.4 819.7L1173.2 818.9L1174 818.6L1174.7 818.4L1175.5 817.9L1176.3 817.2L1177 816.4L1177.8 815.8L1178.6 815.2L1179.4 814.4L1180.1 813.4L1180.9 812.7L1181.7 812.7L1182.5 812.7L1183.3 812.7L1184 810.8L1184.8 808.6L1185.2 808.2L1185.6 808.2L1186.4 808.2L1187.2 808.2L1187.9 806.9L1188.7 805L1189.5 804.9L1190.3 804.9L1191.1 804.9L1191.9 802.7L1192.7 800.8L1193.5 800.7L1194.3 800.7L1195 799.7L1195.8 797.2L1196.6 795.3L1197.4 795.3L1198.2 795.3L1199 795.3L1199.8 793.9L1200.6 791.2L1201.4 790.2L1202.2 790.2L1203 790.2L1203.8 788.6L1204.6 787.3L1205.4 787.3L1206.2 787.3L1206.3 787.3L1207.1 786.5L1207.9 782.9L1208.7 781.3L1209.5 781.3L1210.3 781.3L1211.1 781.3L1211.9 781.3L1212.8 780.1L1213.6 780.1L1214.4 779.9L1215.2 778L1216 775.9L1216.8 775.6L1217.7 775.6L1218.5 775.6L1219.3 775.6L1220.1 774.7L1221 773.3L1221.8 773.3L1222.6 773.3L1223.5 772L1224.3 770.2L1225.1 769.9L1226 769.9L1226.8 769.9L1227.6 768.8L1228.5 768L1229.3 768L1230.2 768L1231 766.7L1231.8 764.1L1232.7 762.8L1233.5 762.8L1234.4 762.8L1234.8 762.8L1235.2 762.5L1236.1 761.9L1236.9 761.5L1237.8 761.1L1238.6 760L1239.5 758.2L1240.3 756.5L1241.2 755.7L1242.1 755.7L1242.9 755.2L1243.8 753.6L1244.6 752.2L1245.5 751.8L1245.6 751.8L1246.4 750.8L1247.2 747.7L1248.1 743.5L1249 739.9L1249.7 738.1L1249.8 737.9L1250.7 737L1251.6 736.9L1252.5 736.8L1253.3 735.7L1254.2 734L1255.1 732.6L1256 731.7L1256.9 730.7L1257.7 729.9L1258.6 729.6L1259.5 729.2L1260.4 728L1261.3 726.8L1262.2 726.4L1263.1 726.2L1264 725.6L1264.9 724.8L1265.8 724.1L1266.7 723.4L1267.5 722.7L1268.5 722.6L1269.4 722.6L1270.3 722.5L1271.2 721.6L1272.1 720.1L1273 718.9L1273.9 718.7L1274.8 718.7L1275.7 718.7L1276.6 718.7L1277.5 718.2L1278.5 717.1L1279.4 716L1280.3 715L1281.2 715L1281.6 715L1282.1 715L1283.1 715L1284 714.1L1284.9 713.2L1285.9 712.9L1286.8 712.1L1287.7 711.2L1288.7 711.1L1289.6 711.1L1290.5 710.5L1291.5 708.9L1292.4 708L1293.4 708L1294.3 708L1295.3 707.9L1296.2 706.4L1297.2 706.3L1298.1 706.3L1299.1 705.7L1300 703.9L1301 703.9L1301.9 703.9L1302.9 703.8L1303.8 702L1304.8 702L1305.8 702L1306.7 702L1307.7 700.1L1308.7 699.6L1309.7 699.6L1310.6 699.4L1311.6 698.2L1312.6 698.2L1313.6 698.2L1314.5 698.2L1315.5 696.2L1316.5 695.6L1317.5 695.6L1318.5 695.6L1319.5 692.8L1320.5 692.3L1321.5 692.3L1322.5 692.3L1323.5 692.3L1324.1 691.9L1324.5 691.7L1325.5 691.6L1326.5 689.8L1327.5 687.7L1328.5 687.7L1329.5 687.7L1330.5 687.7L1331.5 687L1332.5 686.1L1333.5 686.1L1334.6 685.6L1335.6 683.4L1336.6 682.4L1337.6 682.4L1338.7 682.1L1339.7 681.5L1340.7 681.5L1341.8 681.5L1342.8 678.4L1343.8 676L1344.9 676L1345.9 676L1346.9 676L1348 676L1349 675.1L1350.1 673.8L1351.1 672.6L1352.2 672.2L1353.2 672.2L1354.3 672.1L1355.4 670.8L1356.4 669.4L1357.5 668.9L1358.5 668.7L1359.5 668.3L1359.6 668.3L1360.7 668L1361.7 667.4L1362.8 666.4L1363.9 665.7L1365 665.2L1366 664.4L1367.1 664L1368.2 663.8L1369.3 663.2L1370.4 662.9L1371.5 662.5L1372.6 661.4L1373.7 660.4L1374.8 660L1375.9 659.6L1377 659.5L1378.1 659.4L1379.2 658.3L1380.3 657.3L1381.4 657.3L1382.5 657.2L1383.6 656.1L1384.7 655L1385.8 654.6L1387 654.6L1388.1 654.6L1389.2 654.2L1390.3 652.9L1391.5 651.9L1392.6 651.9L1393.7 651.9L1394.9 651.5L1396 649.9L1397.1 649.9L1398.3 649.9L1399.4 649.7L1400.6 649.7L1401.7 649L1402.9 647L1404 646.8L1405.2 646.8L1406.3 646.8L1407.5 646.2L1408.7 646.2L1409.8 646.2L1411 645.4L1412.2 644.5L1413.3 644.5L1413.5 644.5L1414.5 643.9L1415.7 643.5L1416.9 643.5L1418 643.5L1419.2 642.7L1420.4 642.5L1421.6 642.5L1421.6 642.4L1422.8 640.9L1424 640.9L1425.2 640.9L1426.4 640.9L1427.6 639.3L1428.8 639.3L1430 639.2L1431.2 637.8L1432.4 637.8L1433.6 637.8L1434.8 636.8L1436.1 636.1L1437.3 636.1L1438.5 634.1L1439.7 633.5L1441 633.5L1442.2 633.5L1443.4 632L1444.7 632L1445.9 631.4L1447.1 630.5L1448.4 630.5L1449.6 629.4L1450.9 628L1452.1 628L1452.2 628L1453.4 628L1454.6 626.8L1455.9 625.9L1457.1 625.9L1458.4 625.9L1459.7 625.4L1460.9 624.5L1462.2 623.9L1463.5 623.9L1464.8 623.9L1466 623L1467.3 622.1L1468.6 621.8L1469.9 621.8L1471.2 621.5L1472.5 620.8L1473.8 620.3L1475.1 620L1476.4 619.7L1477.7 618.6L1479 618.1L1480.3 618.1L1481.6 617.8L1482.9 617.4L1484.2 616.7L1485.5 615.9L1486.9 615.3L1488.2 614.7L1489.5 614.7L1490.8 614.4L1490.9 614.3L1492.2 612.9L1493.5 612.6L1494.8 612.6L1496.2 612.5L1497.5 611L1498.9 609.5L1500.2 609.5L1501.6 609.5L1502.9 609.1L1504.3 608.6L1505.6 607.5L1507 605.8L1508.4 605.8L1509.7 605.8L1511.1 605.5L1512.5 605.5L1513.9 602.8L1515.2 600.5L1516.6 600.5L1518 600.5L1519.4 600.5L1519.5 600.5L1520.8 600.4L1522.2 598.2L1523.6 597.4L1525 596.8L1526.4 593.8L1527.8 593.8L1529.2 593.8L1530.6 590.4L1532 590.4L1533.4 590.4L1534.9 589.4L1535.1 589.4L1536.3 589.4L1537.7 589.4L1539.1 589.1L1540.6 589.1L1542 589L1543.4 589L1544.9 589L1546.3 588.9L1547.8 588.9L1549.2 588.9L1550.7 588.5L1552.1 588.5L1552.1 588.5L1553.6 588.5L1555 588.4L1556.5 588.4L1558 587.1L1559.4 587.1L1560.9 587.1L1562.4 586.2L1563.9 586L1565.4 586L1566.8 585.9L1568.3 585.3L1569.8 584.2L1571.3 583.9L1572.8 583.6L1574.3 583.1L1575.8 583.1L1577.3 581.7L1578.8 581L1580.3 581L1581.9 581L1583.4 580.5L1584.9 579.1L1586.4 579.1L1586.7 579.1L1588 579.1L1589.5 579L1591 578.1L1592.6 578.1L1594.1 577.9L1595.6 577.6L1597.2 577.4L1598.7 577.2L1600.3 576.2L1601.9 576.2L1603.4 576.2L1605 575.9L1606.5 575.4L1608.1 575.4L1609.7 574.5L1611.3 574.3L1612.8 574.3L1614.4 574.3L1616 574L1617.6 572.9L1619.2 572.9L1620.8 572.9L1622.4 572.6L1624 572.6L1624.8 572.6L1625.6 572.3L1627.2 571.7L1628.8 571.7L1630.4 571.7L1632 571.7L1633.7 570.7L1635.3 570.7L1636.9 570.7L1638.6 570.7L1640.2 570.7L1641.8 570L1643.5 570L1645.1 570L1646.8 570L1648.4 570L1650.1 568.6L1651.7 568.6L1653.4 568.6L1654 568.1L1655.1 568.1L1656.7 567.8L1658.4 566.3L1660.1 566.3L1661.8 563L1663.4 563L1663.5 563L1665.1 562.2L1666.8 562.2L1668.5 562.2L1670.2 560.1L1671.9 560.1L1673.6 560.1L1675.3 560.1L1677 559.6L1678.7 559.6L1680.4 559L1682.2 558.6L1683.9 558.6L1685.6 558.5L1687.4 558L1689.1 557.7L1690.8 557.7L1692.6 557.3L1694.3 557.3L1696.1 557L1697.8 556.7L1699.6 556.6L1701.3 556.6L1702.3 556.3L1703.1 556L1704.9 555.7L1706.6 555.7L1708.4 555.5L1710.2 555.4L1712 554.7L1713.7 554.5L1715.5 554.5L1717.3 554.4L1719.1 553.8L1720.9 553.6L1722.7 553.6L1724.5 553.5L1726.3 553L1728.1 552.8L1730 552.6L1731.8 552.6L1733.6 552.2L1735.4 552.1L1737.3 551.9L1739.1 551.8L1740.9 551.5L1742.8 551.5L1744.6 551.2L1746.5 551L1748.3 550.9L1750.2 550.7L1752 550.6L1753.9 550.4" stroke="#F07F09" stroke-width="2.95" stroke-linecap="square"/>
<path d="M1074.4 927.6L1075.1 926.8L1075.8 926.1L1076.5 925.4L1077.3 924.5L1078 923.6L1078.7 922.7L1079.4 921.8L1080.1 921.1L1080.8 920.5L1081.5 920.2L1082.3 919.7L1083 918.8L1083.7 917.8L1084.4 917.6L1085.1 917.6L1085.8 917.4L1086.2 916.7L1086.5 915.5L1087.2 913.4L1088 912.4L1088.7 912.4L1089.4 912.4L1090.1 912.4L1090.8 911.9L1091.5 910.5L1092.3 909.6L1093 909.2L1093.7 909.2L1094.4 909.2L1095.1 909.1L1095.8 907.7L1096.5 906.2L1097.3 905.8L1098 905.8L1098.7 905.8L1099.4 904.9L1100.1 903.3L1100.2 903.2L1100.9 902.8L1101.6 902.8L1102.3 902.8L1103 901.9L1103.7 900.8L1104.4 900.3L1105.2 900.2L1105.9 899.9L1106.6 899.5L1107.3 899.3L1108 899L1108.8 897.9L1109.5 896.2L1110.2 894.9L1110.9 894.7L1111.6 894.7L1112.4 894.7L1113.1 894.4L1113.8 893.4L1114.5 892.4L1115.3 891.8L1116 891.6L1116.7 891.6L1117.4 891.6L1118.2 891.1L1118.9 889.6L1119.6 888.6L1120.3 888.6L1121.1 888.6L1121.8 887.4L1122.5 885.3L1123.2 884.3L1124 884.3L1124.7 884.3L1125.4 884.3L1126.1 884.3L1126.9 884.3L1127.6 883.6L1128.3 883.5L1129.1 883L1129.8 882.1L1130.5 881L1131.3 880.2L1132 879.9L1132.7 879.9L1133.3 879.9L1133.5 879.9L1134.2 879.9L1134.9 879.6L1135.7 878.6L1136.4 878.3L1137.1 878.3L1137.9 878.2L1138.6 877.4L1139.3 876.9L1140.1 876.9L1140.8 876.9L1141.6 876.7L1142.3 875.3L1143 874.4L1143.8 874.4L1144.5 874.4L1145.3 874.4L1146 874.4L1146.8 874.4L1147.5 874.4L1148.2 874.4L1149 873.8L1149.7 872.8L1150.5 872.1L1151.2 871.4L1152 871L1152.7 871L1153.5 871L1154.2 870.9L1155 870.4L1155.7 870.4L1156.5 870.4L1157.2 870.4L1158 870.4L1158.7 869.3L1159.3 868.5L1159.5 868.3L1160.2 867.3L1161 866L1161.8 864.9L1162.5 864.9L1163.3 864.9L1164 864.9L1164.8 864.9L1165.5 864.9L1166.3 864.6L1167.1 863.8L1167.8 862.5L1168.6 861.3L1169.4 860.8L1170.1 860.7L1170.9 860.3L1171.7 859.6L1172.4 858.8L1173.2 857.9L1174 857.1L1174.7 856.8L1175.5 856.8L1175.6 856.8L1176.3 856.8L1177 856.8L1177.8 855.7L1178.6 854.4L1179.4 854.1L1180.1 854.1L1180.9 853.4L1181.7 852.6L1182.5 852.3L1183.3 852.2L1184 852L1184.8 851.8L1185.6 851.7L1186.4 851.2L1187.2 850.2L1187.9 849.7L1188.7 849.7L1189.5 849.7L1190.3 848.8L1191.1 847L1191.9 846.3L1192.7 846.3L1193.5 846.3L1194.3 846.3L1195 846.3L1195.8 845.8L1196.6 845.8L1197.4 845.8L1198.2 845.7L1199 844.7L1199.8 843.2L1200.6 842.3L1201.4 842.3L1202.2 842.3L1203 842.3L1203.8 841.2L1204.6 840.6L1205.4 840.6L1206.3 840.6L1207.1 840.6L1207.9 840.6L1208.7 840.2L1209.5 839.7L1210.3 838.4L1211.1 837.2L1211.9 836.6L1212.8 836.4L1213.6 836.4L1214.4 836.4L1215.2 836.4L1216 836.4L1216.8 836.4L1217.7 834.4L1218.5 832.9L1219.3 832.4L1220.1 832.4L1220.5 832.4L1221 832.4L1221.8 832.4L1222.6 832.4L1223.5 831.5L1224.3 831.3L1225.1 831.3L1226 830.4L1226.8 829L1227.6 829L1228.5 829L1229.3 829L1230.2 827.3L1231 825.7L1231.8 825.7L1232.7 825.7L1233.5 825.7L1234.4 825.7L1235.2 825L1236.1 824.2L1236.9 824.2L1237.8 824.2L1238.6 823.2L1239.5 821.8L1240.3 821.5L1241.2 821.5L1242.1 820.8L1242.9 819.3L1243.8 819.1L1244.6 819.1L1245.5 819.1L1246.4 819L1247.2 817.8L1248.1 817.1L1249 815.9L1249.8 814.5L1250.7 814.1L1251.6 814.1L1252.5 814.1L1253.3 814.1L1254.2 814L1255.1 813.1L1256 811.8L1256.9 810.8L1257.7 809.7L1258.2 809L1258.6 808.2L1259.5 807.3L1260.4 807.3L1261.3 807.3L1262.2 806.9L1263.1 805.6L1264 805.1L1264.9 804.2L1265.8 802.8L1266.7 802.2L1267.5 801.7L1268.5 799.8L1269.4 797.6L1270.3 797L1271.2 796.9L1272.1 796.1L1273 795.6L1273.9 795.6L1274.8 794.6L1275.7 792.5L1276.6 790.7L1277.5 789.3L1278.5 788.3L1279.4 788.3L1280.3 788.3L1281.2 787.1L1281.6 786.3L1282.1 785.5L1283.1 785.3L1284 785.3L1284.9 783.8L1285.9 782L1286.8 781.4L1287.7 781.1L1288.7 780.8L1289.6 780.4L1290.5 778.9L1291.5 776.8L1292.4 776L1293.4 776L1294.3 775.8L1295.3 774.6L1296.2 774.6L1297.2 774.6L1298.1 773.4L1299.1 770.2L1300 768.8L1301 768.8L1301.9 768.8L1302.9 768.8L1303.8 768.1L1304.8 767.6L1305.8 767.6L1306.7 767.6L1307.7 764.8L1308.7 763.3L1309.7 763.3L1310.6 763.2L1311.6 761.7L1312.2 761.6L1312.6 761.6L1313.6 761.6L1314.5 761.6L1315.5 761.2L1316.5 759.7L1317.5 758.7L1318.5 758.6L1319.5 758.6L1320.5 757.8L1321.5 756.6L1322.5 756.3L1323.5 756.2L1324.5 756.2L1325.5 756.2L1326.5 755.8L1327.5 754.5L1328.5 754.1L1329.5 753.3L1330.5 751.4L1331.5 751.2L1332.5 751.2L1333.5 751.2L1334.6 751.2L1335.6 751.2L1336.6 751.2L1337.6 750.6L1338.7 748.6L1339.7 747.4L1340.7 747.4L1341.8 747.4L1342.8 747.4L1343.8 747.3L1344.9 747.3L1345.9 747.3L1346.9 745.8L1348 744.7L1349 744.5L1350.1 743.2L1351.1 742.3L1352.2 742.3L1353.2 742.3L1354.3 742.3L1355.4 742.3L1356.4 741.9L1357.5 740.6L1358.5 739.3L1359.5 737.6L1359.6 737.4L1360.7 736.6L1361.7 736.6L1362.8 736.6L1363.9 736.6L1365 736.6L1366 735.6L1367.1 732.5L1368.2 731.5L1369.3 731.1L1370.4 731.1L1371.5 731.1L1372.6 729.1L1373.7 727.6L1374.8 727.6L1375.9 727.6L1377 727.1L1378.1 726.1L1379.2 723.1L1380.3 720.4L1381.4 720.2L1382.5 720.2L1383.6 720.2L1384.7 720.2L1385.8 719L1387 718.2L1388.1 717.6L1389.2 715.2L1390.1 713.7L1390.3 713.6L1391.5 713.1L1392.6 713L1393.7 713L1394.9 713L1396 713L1397.1 712L1398.3 709.2L1399.4 706.8L1400.6 706.8L1401.7 706.8L1402.9 706.8L1404 706.8L1405.2 706.8L1406.3 706.3L1407.5 704.3L1408.7 703.5L1409.8 703.5L1411 702.6L1412.2 700.2L1413.3 700.2L1414.2 700.2L1414.5 700.2L1415.7 700.2L1416.9 700.2L1418 699.7L1419.2 697.3L1420.4 696.5L1421.6 696.5L1422.8 696.5L1424 696.5L1425.2 695.4L1426.4 695.4L1427.6 695.2L1428.8 694.1L1430 693L1431.2 691.5L1432.4 691.5L1433.6 691.5L1434.8 691.3L1436.1 691.3L1437.3 690.9L1438.5 688.5L1439.7 688.3L1441 688.3L1442.2 686.9L1443.4 686.5L1444.7 686.5L1445.9 686.5L1447.1 685.3L1448.4 684L1449.6 684L1450.9 682.8L1452.1 682.8L1452.2 682.8L1453.4 682.8L1454.6 681.6L1455.9 681.2L1457.1 681.1L1458.4 680.5L1459.7 679.7L1460.9 678.6L1462.2 678.4L1463.5 677.5L1464.8 677L1466 677L1467.3 676.7L1468.6 676.7L1469.9 675.4L1471.2 673.3L1472.5 672.8L1473.8 672.8L1475.1 672.8L1476.4 672.8L1477.7 672.1L1479 671.1L1480.3 668.9L1481.6 668.7L1482.9 668.7L1484.2 668.2L1485.5 668.2L1486.9 667.4L1486.9 667.4L1488.2 666L1489.5 664.4L1490.8 664.2L1492.2 663.6L1493.5 661.8L1494.8 661.8L1496.2 661.8L1497.5 660.9L1498.9 659.2L1500.2 657.2L1501.6 657.1L1502.9 655.8L1504.3 655.8L1505.6 655.4L1507 652.4L1508.4 652L1509.7 651.2L1510 650.9L1511.1 648.5L1512.5 647.2L1513.9 647.2L1515.2 644.1L1516.6 641.3L1518 641.3L1519.4 639.7L1519.5 639.6L1520.8 638.9L1522.2 638.3L1523.6 636.1L1525 636.1L1526.4 636.1L1527.8 635L1529.2 632.7L1530.6 632.7L1532 632.7L1533.4 632.7L1534.9 631.8L1536.3 630.8L1537.7 630.5L1539.1 629.4L1540.6 629.4L1542 628.8L1543.4 628.8L1544.9 628.7L1546.3 626.2L1547.8 625.7L1548.7 625.7L1549.2 625.7L1550.7 625.7L1552.1 625.3L1553.6 624.9L1555 623.1L1556.5 623.1L1558 623.1L1559.4 623L1560.9 622.6L1562.4 622.1L1563.9 622.1L1565.4 621.8L1566.8 620.7L1568.3 619L1569.8 619L1571.3 619L1571.5 619L1572.8 618.8L1574.3 615.4L1575.8 614.1L1577.3 613.4L1578.8 611.3L1580.3 608.9L1581 608.4L1581.9 608.4L1583.4 608.4L1584.9 607.1L1586.4 606.2L1588 604.9L1589.5 604.9L1591 604.9L1592.6 604.8L1594.1 604.3L1595.6 604L1597.2 602.2L1598.7 602.2L1600.3 602.2L1601.9 602.2L1603.4 601.7L1605 600.1L1605.8 599.8L1606.5 599.4L1608.1 599.4L1609.7 599.4L1611.3 597.9L1612.8 597.8L1614.4 596.3L1616 594.6L1617.6 594.6L1619.2 592.7L1620.8 592.3L1622.4 592.3L1624 590.1L1625.6 590.1L1627.2 587.2L1628.8 586.9L1630.4 586.9L1632 586.5L1633.7 585.6L1635.3 584.2L1636.9 582.1L1638.6 582.1L1640.2 582.1L1640.4 582.1L1641.8 582.1L1643.5 580.9L1645.1 580.9L1646.8 580.2L1648.4 580.1L1650.1 579.1L1651.7 579.1L1653.4 579.1L1655.1 578L1656.7 578L1658.4 577.7L1660.1 577.2L1661.8 577.2L1663.4 576.6L1663.5 576.6L1665.1 576.5L1666.8 574.9L1668.5 573.6L1670.2 573.6L1671.9 572.7L1673.6 572.7L1675.3 571.7L1677 569.6L1678.7 567.9L1680.4 567.9L1682.2 567.9L1682.6 567.9L1683.9 567.9L1685.6 566.3L1687.4 565.7L1689.1 564.9L1690.8 564.9L1692.6 564.9L1694.3 564.4L1696.1 562.7L1697.8 562.7L1699.6 562.7L1701.3 561.9L1703.1 561.9L1704.9 561.2L1706.6 561.1L1708.4 560L1710.2 560L1711.8 560L1712 560L1713.7 560L1715.5 559.3L1717.3 559L1719.1 559L1720.9 559L1722.7 559L1724.5 558.6L1726.3 558.6L1728.1 558.1L1730 558.1L1730.8 558.1L1731.8 557.9L1733.6 557.8L1735.4 556.9L1737.3 556.5L1739.1 556.4L1740.9 555.5L1742.8 555.1L1744.6 554.3L1746.5 553.5L1748.3 552.8L1750.2 552.1L1752 551.3L1753.9 550.4" stroke="#4D7FCB" stroke-width="2.95" stroke-linecap="square"/>
<path d="M1074.4 927.6L1075.1 923.5L1075.8 919.4L1076.5 915.5L1077.3 911.9L1078 908.6L1078.7 905.5L1079.2 903.7L1079.4 902.8L1080.1 900.5L1080.8 898.4L1081.5 896L1082.3 893.6L1083 891.9L1083.7 890.8L1084.4 889.7L1085.1 888L1085.8 886.1L1086.5 885L1087.2 884.5L1088 883.3L1088.5 881.3L1088.7 880.7L1089.4 877.6L1090.1 875.4L1090.8 874L1091.5 873L1092.3 871.5L1093 869.6L1093.7 867.5L1094.4 865.8L1095.1 865.1L1095.8 865L1096.5 864.4L1097.3 862.3L1098 859.1L1098.7 856.5L1099.1 855.5L1099.4 855.2L1100.1 854.8L1100.9 854L1101.6 852.3L1102.3 850L1103 848.3L1103.7 847.6L1104.4 847.4L1105.2 846.8L1105.9 845.3L1106.6 843.4L1107.3 842L1108 841.1L1108.8 839.9L1109.5 838.1L1110.2 836.1L1110.9 834.6L1111.6 833.7L1112.1 833.1L1112.4 832.8L1113.1 831.7L1113.8 830.5L1114.5 829.1L1115.3 827.9L1116 826.7L1116.7 825.7L1117.4 824.2L1118.2 821.8L1118.9 819.1L1119.6 817.4L1120.3 817.3L1121.1 817.3L1121.8 816.4L1122.5 814.1L1123.2 812L1124 810.9L1124.7 810.1L1125 809.7L1125.4 809.3L1126.1 808.5L1126.9 807.8L1127.6 806.6L1128.3 804.4L1129.1 802.4L1129.8 801.5L1130.5 801.4L1131.3 801L1132 800.2L1132.7 799.5L1133.5 799.1L1134.2 797.9L1134.9 796L1135.7 794.5L1136.4 794.1L1137.1 793.6L1137.9 792L1138.6 790.2L1139.3 789.7L1140.1 789.7L1140.8 789.5L1141.6 787.9L1142.3 786.8L1142.7 786.5L1143 786.4L1143.8 785.8L1144.5 784.2L1145.3 782.7L1146 782.1L1146.8 781.4L1147.5 779.5L1148.2 777.5L1149 776.7L1149.7 776.7L1150.5 776.3L1151.2 775.3L1152 774.8L1152.7 774.6L1153.5 773.3L1154.2 770.9L1155 769.4L1155.7 769.4L1156.5 769L1157.2 767L1158 764.8L1158.7 764.3L1159.5 764.3L1160.2 764.3L1161 763.1L1161.4 762.7L1161.8 762.5L1162.5 762.3L1163.3 761.5L1164 760.1L1164.8 759L1165.5 758.2L1166.3 756.8L1167.1 755.1L1167.8 754.6L1168.6 754.6L1169.4 754.6L1170.1 752.9L1170.9 751.3L1171.7 751.3L1172.4 751.3L1173.2 751.3L1174 750.4L1174.7 749.2L1175.5 748.1L1176.3 746.6L1177 745.2L1177.8 744.9L1178.6 744.9L1179.4 744.9L1180.1 743.9L1180.9 742.9L1181.7 742.2L1182.5 741.3L1183.3 740.6L1184 740.6L1184.8 740.6L1185.2 740.4L1185.6 739.4L1186.4 737.3L1187.2 736.2L1187.9 736.2L1188.7 736.2L1189.5 735L1190.3 733.6L1191.1 733.1L1191.9 733.1L1192.7 733.1L1193.5 732.4L1194.3 731L1195 729.6L1195.8 728.9L1196.6 728.9L1197.4 728.9L1198.2 728.1L1199 726.6L1199.8 725.5L1200.6 724.9L1201.4 724.2L1202.2 723.3L1203 722.7L1203.8 722.7L1204.6 722.7L1205.4 722.4L1206.3 720.7L1207.1 719.3L1207.9 719.1L1208.7 719.1L1209.5 719.1L1210.3 717.6L1211.1 715.7L1211.9 714.9L1212.8 714.9L1213.4 714.9L1213.6 714.9L1214.4 714.9L1215.2 714.3L1216 713.6L1216.8 713.3L1217.7 713.3L1218.5 712.8L1219.3 711.5L1220.1 710.1L1221 709.5L1221.8 709.4L1222.6 708.7L1223.5 707.9L1224.3 707.9L1225.1 707.9L1226 707.9L1226.8 707.3L1227.6 706.7L1228.5 706.4L1229.3 705.6L1230.2 704.6L1231 703.9L1231.8 703.2L1232.7 702.4L1233.5 702.3L1234.4 702.3L1235.2 702.3L1236.1 701.6L1236.9 701.5L1237.8 701.5L1238.6 701.2L1239.5 699.5L1240.3 698.6L1241.2 698.2L1242.1 697.4L1242.9 696.8L1243.8 696.8L1244.6 696.8L1245.5 696.5L1246.4 696.1L1247.2 696.1L1248.1 695.8L1249 694.3L1249.8 693.7L1250.7 693.7L1251.6 692.9L1252.5 691.6L1253.3 691.2L1253.4 691.2L1254.2 690.9L1255.1 690.4L1256 690.4L1256.9 690.4L1257.7 690.4L1258.6 688.1L1259.5 687.5L1260.4 687.5L1261.3 687.5L1262.2 686.2L1263.1 685.6L1264 685.3L1264.9 684.8L1265.8 684.7L1266.7 684.6L1267.5 683.4L1268.5 682.4L1269.4 682.4L1270.3 682.4L1271.2 681.1L1272.1 680.2L1273 680.2L1273.9 679.5L1274.8 678.4L1275.7 678.4L1276.6 678.4L1277.5 677.5L1278.5 676L1279.4 675.8L1280.3 675.8L1281.2 675.8L1282.1 675.6L1283.1 674.3L1284 672.7L1284.9 672.5L1285.9 672.5L1286.8 671.9L1287.7 670.6L1288.7 670.5L1289.6 670.5L1290.5 670L1291.5 669.4L1292.4 669.3L1293.4 668.8L1293.5 668.6L1294.3 667.7L1295.3 666.8L1296.2 666.2L1297.2 665.7L1298.1 665.2L1299.1 664.5L1300 664.1L1301 664.1L1301.9 664.1L1302.9 663.6L1303.8 662.2L1304.8 661.7L1305.8 661.4L1306.7 660.5L1307.7 659.3L1308.7 659L1309.7 659L1310.6 659L1311.6 658.5L1312.6 658.1L1313.6 657.8L1314.5 656.9L1315.5 655.8L1316.5 655.2L1317.5 654.7L1318.5 654.1L1319.5 653.5L1320.5 653.2L1321.5 653.2L1322.5 653.2L1323.5 652.5L1324.5 650.9L1325.5 650.7L1326.5 650.5L1327.5 649.4L1328.5 649L1329.5 649L1330.5 648.2L1331.5 647.5L1332.5 647.5L1333.5 647.4L1334.6 647.3L1335.6 646.4L1336.6 644.4L1337.6 643.9L1338 643.9L1338.7 643.9L1339.7 643.9L1340.7 642.9L1341.8 642.7L1342.8 642.5L1343.8 641.9L1344.9 641.9L1345.9 641.2L1346.9 640.3L1348 640.3L1349 639.9L1350.1 638.1L1351.1 638L1352.2 638L1353.2 637.6L1354.3 637.5L1355.4 636.7L1356.4 635.8L1357.5 635.8L1358.5 635.8L1359.6 634.3L1360.7 633.7L1361.7 633.4L1362.8 632.5L1363.9 632.5L1365 632.5L1366 631.9L1367.1 631.8L1368.2 631.8L1369.3 630.9L1370.4 630L1371.5 628.4L1372.6 627.9L1373.7 627.9L1374.8 627.9L1375.9 627.4L1377 627.4L1378.1 627.4L1379.2 626.4L1380.3 625.7L1381.4 624.9L1382.5 624.2L1383.6 623.9L1384.7 623.7L1385.8 623.7L1387 623.7L1388.1 622.8L1389.2 622.1L1390.3 621.9L1391.5 620.5L1392.4 619.9L1392.6 619.9L1393.7 619.9L1394.9 619.9L1396 619.4L1397.1 619.3L1398.3 619.3L1399.4 618.6L1400.6 616.9L1401.7 616.1L1402.9 616.1L1404 616L1405.2 615.9L1406.3 615.9L1407.5 615.1L1408.7 614L1409.8 613.9L1411 613.8L1412.2 612.8L1413.3 612.1L1414.2 612.1L1414.5 612.1L1415.7 612.1L1416.9 611.8L1418 611.3L1419.2 610.5L1420.4 610.1L1421.6 610L1422.8 609.8L1424 609.2L1425.2 608.7L1426.4 608.7L1427.6 608.2L1428.8 606.9L1430 606.9L1431.2 606.9L1432.4 606.9L1433.6 606.4L1434.8 606.2L1436.1 606.2L1437.3 605.2L1438.5 604.4L1439.7 604.4L1441 604.4L1442.2 604.4L1443.4 604.3L1444.7 603.4L1445.9 603.4L1447.1 602.6L1448.4 601.6L1449.6 601.6L1450.9 601.6L1452.1 601.6L1453.4 601.5L1454.6 600.9L1455.9 600.9L1457.1 599.8L1458.4 599.5L1459.7 599.3L1460.9 599.1L1462.2 599.1L1463.5 598.8L1464.8 598.8L1466 598.2L1467.3 596.9L1468.6 596.9L1469.9 596.8L1471.2 596.8L1471.9 596.8L1472.5 596.5L1473.8 596.1L1475.1 596.1L1476.4 594.9L1477.7 594.9L1479 594.5L1480.3 593.5L1481.6 593.5L1482.9 593.5L1484.2 593.3L1485.5 592.5L1486.9 592.5L1488.2 592.4L1489.5 591.6L1490.8 591.6L1492.2 590.8L1493.5 590.7L1494.8 590.7L1496.2 589.9L1497.5 589.6L1498.9 589.6L1500.2 589.3L1501.6 588.3L1502.9 588.3L1504.3 588.1L1505.6 587.2L1507 587.2L1508.4 587.2L1509.7 586.8L1511.1 586.3L1512.5 585.8L1513.9 585.4L1515.2 585.2L1516.6 585L1518 585L1519.4 585L1520.8 583.8L1522.2 583.3L1523.6 583.3L1525 582.6L1526.4 582.2L1527.8 582.2L1529 582.2L1529.2 582.2L1530.6 581.8L1532 580.8L1533.4 580.7L1534.9 580.7L1536.3 580.3L1537.7 580.3L1539.1 580L1540.6 579.9L1542 578.7L1543.4 578.5L1544.9 577.7L1546.3 577.7L1547.8 577.7L1549.2 577.4L1550.7 577.2L1552.1 576.5L1553.6 576.5L1555 575.7L1556.5 575.7L1558 575.2L1559.4 575.2L1560.9 574.7L1562.4 574.2L1563.9 574.1L1565.4 574L1566.8 573.7L1568.3 572.7L1569.8 572.7L1571.3 572.5L1572.8 572.3L1574.3 571.9L1575.8 571.9L1577.3 570.9L1578.8 570.9L1580.3 570.4L1581.9 570.4L1583.4 570.3L1584.9 570.1L1586.4 570.1L1586.7 570L1588 569.2L1589.5 568.2L1591 568.2L1592.6 568.2L1594.1 568.2L1595.6 568.2L1597.2 567.4L1598.7 567.1L1600.3 567.1L1601.9 566.7L1603.4 566.7L1605 566.7L1606.5 566.7L1608.1 565.8L1609.7 564.9L1611.3 564.9L1612.8 564.9L1614.4 564.9L1616 564.9L1617.6 564.5L1619.2 564L1620.8 563.9L1622.4 563.6L1624 563.6L1625.6 563.6L1627.2 563.1L1628.8 563L1630.4 562.3L1632 562.3L1633.7 562.3L1635.3 562.3L1636.9 562.2L1638.6 561.9L1640.2 561L1641.8 561L1643.5 561L1644.5 561L1645.1 561L1646.8 560.7L1648.4 560.7L1650.1 560L1651.7 559.9L1653.4 559.6L1655.1 559.4L1656.7 559.4L1658.4 559.4L1660.1 559.2L1661.8 558.4L1663.4 558.4L1665.1 557.9L1666.8 557.9L1668.5 557.9L1670.2 557.9L1671.9 557.4L1673.6 557.2L1675.3 556.5L1677 556.5L1678.7 556.5L1680.4 556.5L1682.2 556.2L1683.9 556.2L1685.6 555.3L1687.4 555.3L1689.1 555.3L1690.8 555.3L1692.6 555.3L1694.3 554.7L1696.1 554.7L1697.8 554.5L1699.6 554.5L1701.3 554.5L1702.3 554.5L1703.1 554.3L1704.9 553.9L1706.6 553.6L1708.4 553.6L1710.2 553.5L1712 553.5L1713.7 553.3L1715.5 553L1717.3 552.9L1719.1 552.7L1720.9 552.7L1722.7 552.5L1724.5 552.5L1726.3 552.2L1728.1 552L1730 552L1731.8 551.8L1733.6 551.7L1735.4 551.6L1737.3 551.4L1739.1 551.2L1740.9 551.2L1742.8 551.1L1744.6 551L1746.5 550.9L1748.3 550.7L1750.2 550.6L1752 550.5L1753.9 550.4" stroke="#E50914" stroke-width="2.95" stroke-linecap="square"/>
<path d="M1074.4 927.6L1753.9 550.4" stroke="#000" stroke-width="2.78" stroke-dasharray="10.28 4.44"/>
</g>
<rect x="1074.4" y="531.5" width="679.5" height="396.1" fill="none" stroke="#111" stroke-width="1.11"/>
<g stroke="#111" stroke-width="1.11"><path d="M1074.4 927.6v4.9"/><path d="M1074.4 927.6h-4.9"/><path d="M1210.3 927.6v4.9"/><path d="M1074.4 852.2h-4.9"/><path d="M1346.2 927.6v4.9"/><path d="M1074.4 776.7h-4.9"/><path d="M1482.1 927.6v4.9"/><path d="M1074.4 701.3h-4.9"/><path d="M1618 927.6v4.9"/><path d="M1074.4 625.8h-4.9"/><path d="M1753.9 927.6v4.9"/><path d="M1074.4 550.4h-4.9"/></g>
<g font-family="'DejaVu Sans', 'Liberation Sans', sans-serif" font-size="19.44" letter-spacing="0.56" fill="#000" stroke="#000" stroke-width="0.35"><text x="1074.4" y="952.7" text-anchor="middle" letter-spacing="0">0.0</text><text x="1064.7" y="935" text-anchor="end" letter-spacing="0">0.0</text><text x="1210.3" y="952.7" text-anchor="middle" letter-spacing="0">0.2</text><text x="1064.7" y="859.5" text-anchor="end" letter-spacing="0">0.2</text><text x="1346.2" y="952.7" text-anchor="middle" letter-spacing="0">0.4</text><text x="1064.7" y="784.1" text-anchor="end" letter-spacing="0">0.4</text><text x="1482.1" y="952.7" text-anchor="middle" letter-spacing="0">0.6</text><text x="1064.7" y="708.7" text-anchor="end" letter-spacing="0">0.6</text><text x="1618" y="952.7" text-anchor="middle" letter-spacing="0">0.8</text><text x="1064.7" y="633.2" text-anchor="end" letter-spacing="0">0.8</text><text x="1753.9" y="952.7" text-anchor="middle" letter-spacing="0">1.0</text><text x="1064.7" y="557.8" text-anchor="end" letter-spacing="0">1.0</text><text x="1414.2" y="523.2" text-anchor="middle">ROC curve</text><text x="1414.2" y="977" text-anchor="middle">False Positive Rate</text><text transform="translate(1023.6 729.6) rotate(-90)" text-anchor="middle">True Positive Rate</text></g>
<rect x="1352.5" y="772.8" width="393.5" height="146" rx="3.1" fill="#fff" fill-opacity="0.8" stroke="#ccc" stroke-opacity="0.8" stroke-width="1.39"/>
<g font-family="'DejaVu Sans', 'Liberation Sans', sans-serif" font-size="15.28" letter-spacing="0.44" fill="#000" stroke="#000" stroke-width="0.30"><path d="M1359 786.8H1391.2" fill="none" stroke="#E6177A" stroke-width="5.56" stroke-dasharray="5.56 9.17"/><text x="1404.2" y="791.8">micro-average ROC curve (area = 0.818)</text><path d="M1359 810.3H1391.2" fill="none" stroke="#111E57" stroke-width="5.60" stroke-dasharray="5.60 9.24"/><text x="1404.2" y="815.3">macro-average ROC curve (area = 0.691)</text><path d="M1359 833.8H1391.2" fill="none" stroke="#52BFCF" stroke-width="2.95" stroke-linecap="square"/><text x="1404.2" y="838.8">Class 0 (area = 0.776)</text><path d="M1359 857.3H1391.2" fill="none" stroke="#F07F09" stroke-width="2.95" stroke-linecap="square"/><text x="1404.2" y="862.3">Class 1 (area = 0.670)</text><path d="M1359 880.8H1391.2" fill="none" stroke="#4D7FCB" stroke-width="2.95" stroke-linecap="square"/><text x="1404.2" y="885.8">Class 2 (area = 0.567)</text><path d="M1359 904.3H1391.2" fill="none" stroke="#E50914" stroke-width="2.95" stroke-linecap="square"/><text x="1404.2" y="909.3">Class 3 (area = 0.750)</text></g>
<clipPath id="cpE"><rect x="347.8" y="1020.7" width="1133.8" height="514.8"/></clipPath>
<g clip-path="url(#cpE)" fill="none" stroke-linejoin="round">
<path d="M347.8 1535.5L348.7 1506.1L349 1496.9L350.2 1459.2L350.5 1451.3L351.4 1436.6L352.2 1425.6L352.6 1421.8L353.8 1410.8L354 1408.6L354.9 1403.1L355.5 1399.8L356.1 1395.6L357.3 1386.7L358.5 1378.1L359.1 1374.1L359.7 1370.8L360.9 1364.2L362.1 1358.1L363.3 1352.8L363.3 1352.5L364.5 1348.3L365.7 1344.7L366.9 1341.2L368 1337.6L368.5 1335.9L369.2 1333.4L370.4 1329.1L371.6 1325L372.8 1321.3L373.7 1318.9L374 1317.9L375.2 1314.5L376.4 1311.3L377.6 1308.5L378.8 1305.9L379.5 1304.3L380 1303.3L381.2 1300.5L382.4 1297.9L383.6 1295.5L384.8 1293.5L386 1291.6L386.5 1290.7L387.1 1289.6L388.3 1287.5L389.5 1285.6L390.7 1284L391.9 1282.5L393.1 1280.8L394.2 1279.3L394.3 1279L395.5 1277.4L396.7 1276L397.9 1274.6L399.1 1273.1L400.3 1271.4L401 1270.6L401.5 1269.9L402.7 1268.8L403.9 1267.9L405.1 1266.8L406.3 1265.5L407.5 1264.1L408.7 1262.9L408.7 1262.9L409.9 1261.8L411.1 1260.8L412.4 1259.7L413.6 1258.4L414.8 1257.3L416 1256.2L417.2 1255L418.4 1253.6L419.6 1252.1L420.8 1250.8L422 1249.8L423.2 1249L424.4 1248L425.6 1246.9L426.9 1245.7L428.1 1244.6L429.3 1243.5L430.5 1242.3L431.7 1240.9L432.9 1239.6L434.1 1238.6L435.4 1237.8L436.6 1236.9L437.8 1236L439 1235.1L440 1234.4L440.2 1234.3L441.5 1233.4L442.7 1232.5L443.9 1231.6L445.1 1230.8L446.4 1230.1L447.6 1229.4L448.8 1228.6L450 1227.7L450.3 1227.4L451.3 1226.5L452.5 1225.3L453.7 1224.1L454.9 1222.9L456.2 1221.9L457.4 1220.9L458.6 1219.9L459.9 1218.8L461.1 1217.6L461.4 1217.3L462.3 1216.5L463.6 1215.6L464.8 1214.8L466.1 1214L467.3 1213.3L468.5 1212.5L469.8 1211.8L471 1211.1L472.3 1210.5L473.5 1209.9L474.2 1209.6L474.7 1209.4L476 1208.8L477.2 1208.1L478.5 1207.2L479.7 1206.3L481 1205.5L482.2 1205L483.5 1204.5L484.7 1203.8L486 1203.1L487 1202.5L487.3 1202.4L488.5 1201.9L489.8 1201.4L491 1200.7L492.3 1199.9L493.6 1199.1L494.8 1198.4L496.1 1197.6L497.4 1196.7L498.6 1196L499.7 1195.7L499.9 1195.6L501.2 1195.4L502.4 1194.9L503.7 1194.1L505 1193.3L506.3 1192.7L507.5 1192.2L508.8 1191.7L510.1 1190.9L511.4 1190.2L512.6 1189.7L512.7 1189.7L513.9 1189.3L515.2 1188.7L516.5 1188L517.8 1187.2L519.1 1186.4L520.4 1185.7L521.7 1184.9L522.9 1184L524.2 1183.3L525.5 1183L525.5 1182.9L526.8 1182.5L528.1 1181.9L529.4 1181.2L530.7 1180.6L532 1180.3L533.3 1180L534.6 1179.5L536 1178.9L537.3 1178.3L538.3 1177.9L538.6 1177.7L539.9 1177.2L541.2 1176.4L542.5 1175.7L543.8 1175.2L545.1 1174.8L546.5 1174.3L547.8 1173.5L549.1 1172.8L550.4 1172.2L551.1 1172L551.8 1171.7L553.1 1171L554.4 1170.3L555.8 1169.6L557.1 1169.1L558.4 1168.5L559.8 1167.7L561.1 1166.9L562.4 1166.4L563.8 1166.1L563.9 1166L565.1 1165.7L566.5 1165.1L567.8 1164.4L569.2 1163.7L570.5 1163.1L571.9 1162.5L573.2 1161.9L574.6 1161.4L575.9 1160.9L576.7 1160.6L577.3 1160.4L578.7 1159.6L580 1158.8L581.4 1158L582.7 1157.2L584.1 1156.3L585.5 1155.4L586.9 1154.5L587.8 1154L588.2 1153.9L589.6 1153.2L591 1152.6L592.4 1151.9L593.8 1151.2L595.1 1150.5L596.5 1149.9L597.9 1149.3L599.3 1148.7L600.6 1148.2L600.7 1148.2L602.1 1147.6L603.5 1147L604.9 1146.6L606.3 1146.2L607.7 1145.8L609.1 1145.3L610.5 1144.9L611.9 1144.4L613.3 1143.9L613.4 1143.8L614.7 1143.4L616.1 1143L617.6 1142.7L619 1142.2L620.4 1141.6L621.8 1141L623.3 1140.7L624.7 1140.3L626.1 1139.8L626.3 1139.7L627.5 1139.1L629 1138.5L630.4 1137.8L631.9 1137L633.3 1136.2L634.7 1135.6L636.2 1135.1L637.6 1134.4L639.1 1133.6L639.1 1133.6L640.5 1132.9L642 1132.5L643.4 1132.1L644.9 1131.5L646.4 1130.9L647.8 1130.5L649.3 1130.1L650.8 1129.7L651.9 1129.4L652.2 1129.3L653.7 1128.9L655.2 1128.7L656.7 1128.3L658.1 1128L659.6 1127.8L661.1 1127.8L662.6 1127.6L664.1 1127L664.7 1126.7L665.6 1126.3L667.1 1125.9L668.6 1125.4L670.1 1124.7L671.6 1124L673.1 1123.6L674.6 1123.1L676.1 1122.3L677.5 1121.6L677.6 1121.6L679.1 1121.1L680.7 1120.7L682.2 1120.2L683.7 1119.8L685.2 1119.6L686.8 1119.3L688.3 1118.9L689.8 1118.3L690.3 1118.1L691.4 1117.9L692.9 1117.7L694.4 1117.5L696 1117.1L697.5 1116.8L699.1 1116.5L700.6 1116.2L702.2 1115.8L703.1 1115.6L703.7 1115.5L705.3 1115.2L706.9 1114.8L708.4 1114.3L710 1113.9L711.6 1113.5L713.2 1113.1L714.7 1112.6L715.9 1112.3L716.3 1112.2L717.9 1111.8L719.5 1111.4L721.1 1111L722.7 1110.7L724.3 1110.4L725.8 1110L727.4 1109.5L729 1108.9L730.7 1108.5L732.3 1108.2L733.9 1108L735.5 1107.7L737 1107.3L737.1 1107.2L738.7 1106.6L740.3 1106L742 1105.4L743.6 1104.9L745.2 1104.5L746.9 1104.1L748.5 1103.6L750.1 1103.2L751.8 1102.7L753.4 1102.2L754.2 1101.9L755.1 1101.6L756.7 1101.2L758.4 1101L760.1 1100.7L761.7 1100.3L763.4 1100L765.1 1099.7L766.7 1099.4L768.4 1099.1L770.1 1098.8L771.3 1098.6L771.8 1098.5L773.4 1098L775.1 1097.5L776.8 1097.3L778.5 1097L780.2 1096.5L781.9 1096.2L783.6 1096L785.3 1095.6L787 1095.2L788.3 1095L788.7 1094.9L790.5 1094.8L792.2 1094.6L793.9 1094.5L795.6 1094.5L797.4 1094.3L799.1 1094L800.8 1093.8L802.6 1093.8L804.3 1093.6L805.4 1093.4L806 1093.2L807.8 1092.6L809.5 1091.9L811.3 1091L813.1 1090.2L813.9 1090L814.8 1089.8L816.6 1089.4L818.4 1089L820.1 1088.8L821.9 1088.8L823.7 1088.5L825.5 1088.1L827.3 1087.9L829 1087.7L830.8 1087.4L831 1087.3L832.6 1087L834.4 1086.8L836.2 1086.3L838 1086L839.9 1085.7L841.7 1085.3L843.5 1084.8L845.3 1084.5L847.1 1084.2L848.1 1083.9L849 1083.7L850.8 1083.4L852.6 1083.4L854.5 1083.3L856.3 1083L858.2 1082.7L860 1082.3L861.9 1082.1L863.7 1081.9L865.6 1081.7L867.4 1081.5L869.3 1081.2L870 1081.1L871.2 1080.9L873.1 1080.5L874.9 1080.1L876.8 1079.6L878.7 1079.1L880.6 1078.8L882 1078.5L882.5 1078.4L884.4 1078.1L886.3 1077.8L888.2 1077.5L890.1 1077.1L892 1076.8L893.9 1076.7L895.9 1076.5L897.8 1076.1L899.2 1075.9L899.7 1075.8L901.7 1075.6L903.6 1075.4L905.5 1075.3L907.5 1075.1L909.4 1074.9L911.4 1074.7L913.3 1074.6L915.3 1074.2L916.3 1074.1L917.3 1074L919.2 1074L921.2 1073.8L923.2 1073.5L925.2 1073.4L927.1 1073.2L929.1 1073L931.1 1072.8L933.1 1072.5L933.3 1072.5L935.1 1072.1L937.1 1072L939.1 1071.7L941.1 1071.3L943.1 1071.1L945.2 1070.9L947.2 1070.4L949.2 1070.1L950.4 1070L951.3 1069.9L953.3 1069.6L955.3 1069.4L957.4 1069.3L959.4 1069L961.5 1068.9L963.5 1068.8L965.6 1068.4L967.5 1068.1L967.7 1068.1L969.7 1068L971.8 1067.7L973.9 1067.4L976 1067L978.1 1066.5L980.1 1066.3L982.2 1066.2L984.3 1065.8L984.5 1065.8L986.4 1065.4L988.5 1065.2L990.7 1064.9L992.8 1064.8L994.9 1064.7L997 1064.5L999.2 1064.3L1001.3 1064L1001.7 1064L1003.4 1063.7L1005.6 1063.5L1007.7 1063.3L1009.9 1063L1012 1062.7L1014.2 1062.6L1015 1062.5L1016.3 1062.4L1018.5 1062L1020.7 1061.7L1022.9 1061.6L1025 1061.4L1027.2 1061.1L1029.4 1061L1031.6 1060.8L1033.8 1060.6L1036 1060.3L1038.2 1060L1040.4 1059.9L1042.7 1059.7L1044.9 1059.4L1047.1 1059.3L1049.2 1059.1L1049.4 1059L1051.6 1058.8L1053.8 1058.7L1056.1 1058.5L1058.3 1058.2L1060.6 1058L1062.8 1057.7L1065.1 1057.6L1067.4 1057.5L1069.6 1057.1L1071.9 1057L1074.2 1056.8L1076.5 1056.5L1078.8 1056.5L1081.1 1056.3L1083.3 1056L1083.4 1056L1085.7 1055.9L1088 1055.7L1090.3 1055.7L1092.6 1055.5L1095 1055.2L1097.3 1055.2L1099.6 1055L1102 1054.9L1104.3 1054.9L1106.7 1054.6L1109 1054.4L1111.4 1054.3L1113.7 1054.2L1116.1 1054.1L1117.5 1054L1118.5 1053.9L1120.9 1053.7L1123.2 1053.7L1125.6 1053.4L1128 1053.2L1130.4 1053.1L1132.8 1052.9L1135.2 1052.7L1137.7 1052.5L1140.1 1052.4L1142.5 1052.4L1144.9 1052.1L1147.4 1051.9L1149.8 1051.8L1151.7 1051.8L1152.2 1051.8L1154.7 1051.8L1157.1 1051.7L1159.6 1051.6L1162.1 1051.6L1164.5 1051.5L1165 1051.5L1167 1051.4L1169.5 1051.3L1172 1051.3L1174.4 1051.2L1176.9 1051.1L1179.4 1050.8L1181.9 1050.7L1184.5 1050.7L1187 1050.5L1189.5 1050.5L1192 1050.3L1194.5 1050.2L1197.1 1050L1199.2 1049.9L1199.6 1049.9L1202.2 1049.9L1204.7 1049.7L1207.3 1049.6L1209.8 1049.5L1212.4 1049.4L1215 1049.3L1217.5 1049.2L1220.1 1049.2L1222.7 1049L1225.3 1048.9L1227.9 1048.8L1230.5 1048.8L1233.1 1048.8L1233.3 1048.8L1235.7 1048.5L1238.3 1048.5L1241 1048.4L1243.6 1048.4L1246.2 1048.4L1248.9 1048.3L1251.5 1048.2L1254.2 1048L1256.8 1048L1259.5 1048L1262.2 1048L1264.8 1047.9L1267.5 1047.7L1267.5 1047.7L1270.2 1047.6L1272.9 1047.6L1275.6 1047.6L1278.3 1047.5L1281 1047.4L1283.7 1047.4L1286.4 1047.2L1289.1 1047.2L1291.9 1047.2L1294.6 1047.1L1297.3 1047L1300.1 1047L1301.7 1047L1302.8 1046.9L1305.6 1046.8L1308.4 1046.8L1311.1 1046.8L1313.9 1046.8L1316.7 1046.8L1319.5 1046.7L1322.2 1046.7L1325 1046.7L1327.8 1046.6L1330.7 1046.6L1333.5 1046.6L1336.3 1046.6L1339.1 1046.5L1341.9 1046.5L1344.8 1046.5L1347.6 1046.5L1350.5 1046.5L1353.3 1046.5L1353.4 1046.5L1356.2 1046.4L1359 1046.2L1361.9 1046.2L1364.8 1046.2L1367.7 1046.2L1370.6 1046.1L1373.5 1046.1L1376.4 1046L1379.3 1046L1382.2 1045.9L1385.1 1045.8L1388 1045.8L1390.9 1045.8L1391.8 1045.8L1393.9 1045.7L1396.8 1045.6L1399.8 1045.6L1402.7 1045.6L1405.7 1045.6L1408.6 1045.6L1411.6 1045.6L1414.6 1045.5L1417.6 1045.5L1420.6 1045.5L1423.5 1045.5L1426.5 1045.5L1429.6 1045.4L1430.1 1045.4L1432.6 1045.4L1435.6 1045.4L1438.6 1045.4L1441.6 1045.4L1444.7 1045.4L1447.7 1045.3L1450.8 1045.3L1453.8 1045.3L1456.9 1045.3L1460 1045.3L1463 1045.3L1466.1 1045.3L1469.2 1045.2L1472.3 1045.2L1475.4 1045.2L1478.5 1045.2L1481.6 1045.2" stroke="#52BFCF" stroke-width="4.00" stroke-linecap="square"/>
<path d="M349.5 1535.8L350.1 1532.5L346.7 1531.9L346.1 1535.2ZM351.1 1527.1L351.7 1523.8L348.3 1523.2L347.7 1526.5ZM352.7 1518.4L353.3 1515.1L349.9 1514.5L349.3 1517.7ZM354.3 1509.7L355 1506.4L351.5 1505.8L350.9 1509ZM356 1501L356.7 1497.7L353.2 1497.1L352.6 1500.3ZM357.7 1492.4L358.4 1489.1L355 1488.4L354.3 1491.7ZM359.6 1483.8L360.3 1480.6L356.9 1479.8L356.2 1483ZM361.6 1475.3L362.4 1472.1L359 1471.3L358.2 1474.4ZM363.8 1467L364.8 1463.9L361.4 1462.8L360.5 1465.9ZM366.5 1459.1L367.9 1456.2L364.7 1454.7L363.4 1457.6ZM370.3 1451.4L371.5 1448.5L368.3 1447.1L367.1 1450.1ZM373.5 1443.6L374.8 1440.7L371.6 1439.2L370.3 1442.1ZM377.1 1436.1L378.6 1433.2L375.5 1431.6L374 1434.5ZM381 1428.5L382.3 1425.6L379.1 1424.1L377.8 1427ZM384.4 1420.8L385.9 1418L382.7 1416.4L381.3 1419.2ZM388.5 1413.6L390.1 1410.9L387.1 1409.1L385.5 1411.8ZM392.7 1406.3L394.2 1403.5L391.1 1401.8L389.6 1404.6ZM396.5 1398.8L398 1396L395 1394.3L393.5 1397.1ZM400.8 1391.8L402.6 1389.3L399.8 1387.3L397.9 1389.8ZM406 1385.5L407.9 1383L405.1 1380.9L403.2 1383.3ZM410.6 1378.5L412.5 1376L409.7 1373.9L407.8 1376.5ZM416 1372.5L418.2 1370.3L415.6 1367.9L413.5 1370.2ZM421.4 1366L423.3 1363.5L420.5 1361.4L418.6 1363.9ZM426.5 1359.7L428.6 1357.4L426 1355L423.9 1357.3ZM432.3 1353.8L434.4 1351.5L431.8 1349.2L429.8 1351.5ZM437.5 1347.2L439.5 1344.8L436.7 1342.6L434.8 1345ZM443 1341.3L445.2 1339.1L442.8 1336.6L440.5 1338.8ZM448.9 1335.4L451 1333.2L448.6 1330.8L446.4 1333ZM454.6 1329.6L456.9 1327.4L454.5 1324.9L452.2 1327ZM460.9 1324.5L463.4 1322.6L461.2 1319.8L458.8 1321.7ZM467.1 1318.5L469.1 1316.1L466.4 1313.8L464.4 1316.2ZM472.6 1312.5L474.8 1310.3L472.4 1307.8L470.1 1310ZM478.6 1307L481 1305L478.7 1302.4L476.4 1304.4ZM484.7 1301.2L486.9 1299L484.4 1296.6L482.2 1298.8ZM490.8 1296.1L493.4 1294.3L491.3 1291.5L488.8 1293.3ZM497 1289.9L498.9 1287.4L496.1 1285.3L494.2 1287.8ZM502.6 1284.8L505.2 1283.1L503.3 1280.1L500.7 1281.8ZM509.4 1279.6L511.7 1277.5L509.4 1274.9L507.1 1277ZM515.7 1274.5L518.3 1272.7L516.2 1269.8L513.7 1271.7ZM522.5 1269.6L525 1267.7L522.8 1264.9L520.3 1266.8ZM528.8 1263.9L531 1261.7L528.5 1259.2L526.3 1261.5ZM534.8 1258.9L537.6 1257.4L535.8 1254.3L533.1 1255.9ZM542.3 1255.3L545.2 1254L543.7 1250.8L540.8 1252.2ZM549.6 1250.2L551.7 1248L549.2 1245.6L547 1247.9ZM555.4 1244.6L557.8 1242.6L555.5 1239.9L553.1 1241.9ZM561.7 1239.5L564.3 1237.7L562.2 1234.8L559.7 1236.6ZM568.6 1235.2L571.4 1233.7L569.7 1230.6L566.9 1232.1ZM575.9 1230.8L578.5 1229.2L576.7 1226.2L574 1227.9ZM583 1226.8L585.8 1225.4L584.3 1222.3L581.5 1223.6ZM590.7 1223.5L593.7 1222.3L592.4 1219.1L589.4 1220.2ZM598.5 1219.5L601.1 1217.7L599.1 1214.9L596.6 1216.6ZM605.5 1215.3L608.3 1213.9L606.8 1210.8L603.9 1212.2ZM613.1 1212L616.1 1210.8L614.9 1207.6L611.8 1208.7ZM621.1 1208.5L623.8 1206.9L622.2 1203.9L619.4 1205.4ZM628.4 1204.3L631.1 1202.7L629.3 1199.7L626.6 1201.3ZM635.6 1200.3L638.5 1199L637 1195.8L634.1 1197.2ZM643.3 1196.6L646.1 1195.2L644.5 1192.1L641.7 1193.5ZM650.8 1193L653.7 1191.7L652.3 1188.5L649.4 1189.8ZM658.6 1189.8L661.6 1188.7L660.4 1185.4L657.4 1186.5ZM666.7 1186.6L669.5 1185.2L668 1182L665.1 1183.4ZM674.3 1182.8L677.1 1181.3L675.5 1178.2L672.7 1179.7ZM681.8 1179.5L684.9 1178.5L683.8 1175.2L680.7 1176.2ZM690 1176.4L692.8 1175L691.3 1171.8L688.4 1173.2ZM697.5 1173.1L700.6 1172.1L699.5 1168.8L696.5 1169.8ZM705.8 1169.9L708.6 1168.4L706.9 1165.3L704.1 1166.8ZM713.2 1165.9L716 1164.4L714.3 1161.3L711.5 1162.8ZM720.6 1162.6L723.7 1161.7L722.7 1158.3L719.6 1159.2ZM729 1159.7L731.8 1158.4L730.4 1155.2L727.5 1156.5ZM736.6 1156.3L739.6 1155.2L738.4 1151.9L735.4 1153.1ZM744.6 1153.3L747.7 1152.3L746.5 1149L743.4 1150ZM752.7 1150.6L755.8 1149.7L754.8 1146.4L751.7 1147.3ZM761 1148.2L764.1 1147.3L763.1 1143.9L760 1144.8ZM769.3 1145.7L772.4 1144.8L771.4 1141.4L768.3 1142.4ZM777.6 1143.2L780.7 1142.3L779.7 1138.9L776.6 1139.9ZM785.9 1140.7L789 1139.8L788 1136.4L784.9 1137.4ZM794.2 1138.2L797.3 1137.1L796.2 1133.8L793.1 1134.9ZM802.4 1135.3L805.4 1134.2L804.2 1130.9L801.2 1132ZM810.4 1132.3L813.4 1131.1L812.2 1127.8L809.2 1129ZM818.4 1129.3L821.4 1128.3L820.3 1125L817.3 1126ZM826.5 1126.8L829.7 1125.9L828.8 1122.5L825.6 1123.4ZM834.9 1124.7L838.2 1124.2L837.6 1120.7L834.3 1121.3ZM843.8 1123.1L846.9 1122.2L846 1118.9L842.8 1119.7ZM852.1 1120.6L855.2 1119.6L854.2 1116.3L851.1 1117.3ZM860.4 1117.9L863.4 1116.9L862.3 1113.6L859.2 1114.6ZM868.5 1115.2L871.6 1114.2L870.5 1110.8L867.4 1111.9ZM876.7 1112.5L879.8 1111.4L878.7 1108.1L875.6 1109.1ZM884.9 1109.8L888 1108.9L887 1105.5L883.8 1106.5ZM893.1 1107.4L896.3 1106.6L895.4 1103.2L892.2 1104ZM901.5 1105.3L904.7 1104.7L904.1 1101.2L900.8 1101.9ZM910.2 1103.7L913.5 1103.1L912.8 1099.7L909.5 1100.3ZM918.9 1102L922.1 1101.2L921.3 1097.8L918.1 1098.6ZM927.4 1099.9L930.6 1099.2L929.9 1095.8L926.6 1096.5ZM935.8 1098.2L939.2 1097.8L938.9 1094.3L935.5 1094.7ZM945 1097.3L948.3 1096.8L947.8 1093.4L944.4 1093.9ZM953.8 1095.6L957 1094.8L956.1 1091.4L952.9 1092.2ZM962.1 1093.5L965.4 1093L964.9 1089.5L961.6 1090ZM971 1092.3L974.3 1091.7L973.7 1088.3L970.4 1088.8ZM979.8 1090.6L983 1089.8L982.2 1086.4L979 1087.2ZM988 1088.5L991.4 1088.2L991.1 1084.7L987.7 1085ZM997.2 1088L1000.6 1087.5L1000.1 1084L996.8 1084.5ZM1005.9 1086L1009.1 1085.3L1008.4 1081.9L1005.2 1082.6ZM1014.5 1084.5L1017.8 1084.1L1017.4 1080.6L1014.1 1081ZM1023.5 1083.5L1026.8 1083.1L1026.4 1079.6L1023 1080.1ZM1032.3 1082.3L1035.7 1081.9L1035.3 1078.5L1031.9 1078.8ZM1041.4 1081.4L1044.7 1080.9L1044.2 1077.5L1040.9 1077.9ZM1050.2 1079.9L1053.5 1079.3L1052.8 1075.8L1049.6 1076.5ZM1058.8 1078.2L1062.1 1077.7L1061.7 1074.3L1058.3 1074.7ZM1067.7 1077.2L1071.1 1076.8L1070.7 1073.4L1067.3 1073.7ZM1076.7 1076.1L1080 1075.5L1079.4 1072.1L1076.1 1072.6ZM1085.4 1074.4L1088.7 1073.9L1088.1 1070.4L1084.8 1071ZM1094.2 1073.1L1097.5 1072.6L1097.1 1069.2L1093.7 1069.6ZM1103.1 1072.1L1106.5 1071.8L1106.2 1068.3L1102.8 1068.7ZM1112.1 1071.2L1115.5 1070.9L1115.1 1067.4L1111.7 1067.8ZM1121.1 1070.3L1124.5 1069.9L1124.1 1066.4L1120.7 1066.8ZM1130.1 1069.3L1133.4 1068.9L1133 1065.4L1129.7 1065.8ZM1139 1068.2L1142.4 1067.8L1142 1064.4L1138.6 1064.7ZM1148 1067.2L1151.3 1066.8L1150.9 1063.3L1147.6 1063.7ZM1156.9 1066.2L1160.3 1065.8L1159.9 1062.3L1156.5 1062.7ZM1165.9 1065.2L1169.2 1064.8L1168.8 1061.3L1165.5 1061.7ZM1174.8 1064.2L1178.2 1063.8L1177.8 1060.3L1174.4 1060.7ZM1183.8 1063.2L1187.2 1062.8L1186.8 1059.3L1183.4 1059.7ZM1192.8 1062.2L1196.1 1061.8L1195.8 1058.4L1192.4 1058.7ZM1201.7 1061.2L1205.1 1060.9L1204.7 1057.4L1201.4 1057.8ZM1210.7 1060.3L1214.1 1059.9L1213.7 1056.4L1210.3 1056.8ZM1219.7 1059.3L1223.1 1059L1222.7 1055.5L1219.3 1055.9ZM1228.7 1058.4L1232 1058L1231.7 1054.5L1228.3 1054.9ZM1237.6 1057.4L1241 1057.1L1240.6 1053.6L1237.3 1053.9ZM1246.6 1056.5L1250 1056.1L1249.6 1052.6L1246.2 1053ZM1255.6 1055.5L1259 1055.2L1258.6 1051.7L1255.3 1052.1ZM1264.6 1054.7L1268 1054.4L1267.7 1050.9L1264.3 1051.2ZM1273.6 1053.9L1277 1053.7L1276.8 1050.2L1273.4 1050.5ZM1282.7 1053.3L1286.1 1053.1L1285.9 1049.6L1282.5 1049.8ZM1291.8 1052.8L1295.2 1052.6L1295 1049.1L1291.6 1049.3ZM1300.9 1052.3L1304.4 1052.1L1304.2 1048.6L1300.8 1048.8ZM1310.1 1051.8L1313.5 1051.6L1313.4 1048.1L1309.9 1048.3ZM1319.2 1051.4L1322.7 1051.2L1322.5 1047.7L1319.1 1047.9ZM1328.4 1050.9L1331.9 1050.8L1331.7 1047.3L1328.3 1047.5ZM1337.6 1050.5L1341 1050.4L1340.9 1046.9L1337.4 1047.1ZM1346.8 1050.2L1350.2 1050L1350.1 1046.5L1346.6 1046.7ZM1355.9 1049.8L1359.4 1049.7L1359.3 1046.2L1355.8 1046.3ZM1365.1 1049.5L1368.6 1049.4L1368.5 1045.9L1365 1046ZM1374.3 1049.2L1377.8 1049.1L1377.7 1045.6L1374.2 1045.7ZM1383.6 1048.9L1387 1048.8L1386.9 1045.3L1383.5 1045.4ZM1392.8 1048.7L1396.2 1048.6L1396.2 1045.1L1392.7 1045.2ZM1402 1048.5L1405.5 1048.4L1405.4 1044.9L1401.9 1045ZM1411.2 1048.2L1414.7 1048.2L1414.6 1044.7L1411.1 1044.7ZM1420.5 1048L1423.9 1048L1423.9 1044.5L1420.4 1044.5ZM1429.7 1047.8L1433.2 1047.8L1433.1 1044.3L1429.6 1044.3ZM1438.9 1047.6L1442.4 1047.6L1442.4 1044.1L1438.9 1044.2ZM1448.2 1047.5L1451.7 1047.4L1451.6 1043.9L1448.1 1044ZM1457.4 1047.3L1460.9 1047.3L1460.9 1043.8L1457.4 1043.8ZM1466.7 1047.2L1470.2 1047.1L1470.1 1043.6L1466.6 1043.7ZM1475.9 1047L1479.4 1047L1479.4 1043.5L1475.9 1043.5Z" fill="#52BFCF" stroke="none"/>
<path d="M347.8 1535.5L348.9 1528.2L349 1527.8L350.2 1521.8L351.4 1515.6L351.4 1515.3L352.6 1507.3L353.8 1497.8L354.8 1489.8L354.9 1489.1L356.1 1481.6L357.3 1474.6L358.5 1467.7L359.1 1463.9L359.7 1460.4L360.9 1452.9L362.1 1445.6L362.5 1442.9L363.3 1438.7L364.5 1431.9L365.7 1425.4L366.4 1421.6L366.9 1419.3L368 1413.6L369.2 1408.1L370.4 1402.7L371 1399.9L371.6 1397.2L372.8 1391.6L374 1386.1L375.2 1380.5L376.4 1375L377.6 1369.6L378.8 1364.4L380 1359.8L381.2 1356L381.4 1355.5L382.4 1352.9L383.6 1350L384.8 1347.2L386 1344.4L386.5 1343.2L387.1 1341.8L388.3 1339.6L389.5 1337.6L390.7 1335.7L391.9 1333.8L393.1 1331.8L394.3 1329.9L395.5 1328.2L396.7 1326.6L397.9 1324.9L399.1 1323.1L400.3 1321.2L401.5 1319.4L402.7 1317.8L403.9 1316.3L405.1 1314.8L406.3 1313.2L407.5 1311.3L407.8 1311L408.7 1309.5L409.9 1307.7L411.1 1306.2L412.4 1304.7L413.6 1303.3L414.8 1301.8L415.5 1300.9L416 1300.3L417.2 1298.7L418.4 1297.2L419.6 1295.9L420.8 1294.6L422 1293.4L422.3 1293.1L423.2 1292.1L424.4 1290.9L425.6 1289.7L426.9 1288.7L428.1 1287.9L429.3 1287.1L430 1286.5L430.5 1286L431.7 1284.7L432.9 1283.3L434.1 1282.1L435.4 1281.2L436.6 1280.5L437.7 1279.8L437.8 1279.7L439 1278.6L440.2 1277.2L441.5 1276L442.7 1275L443.9 1274.3L445.1 1273.6L446.2 1272.7L446.4 1272.6L447.6 1271.5L448.8 1270.5L450 1269.7L451.3 1269.1L452.5 1268.5L453.7 1267.6L454.8 1266.6L454.9 1266.5L456.2 1265.4L457.4 1264.2L458.6 1263L459.9 1261.7L461.1 1260.2L462.3 1258.8L463.6 1257.6L464.8 1256.8L465.6 1256.4L466.1 1256.2L467.3 1255.8L468.5 1255.2L469.8 1254.8L471 1254.4L472.3 1254L473.5 1253.5L474.2 1253.1L474.7 1252.8L476 1252L477.2 1251.2L478.5 1250.5L479.7 1249.9L481 1249.1L482.2 1248.2L482.7 1247.8L483.5 1247.3L484.7 1246.7L486 1246.1L487.3 1245.6L488.5 1244.8L489.8 1243.9L491 1242.8L491.2 1242.7L492.3 1241.8L493.6 1240.9L494.8 1240.1L496.1 1239.4L497.4 1238.7L498.6 1237.8L499.7 1237L499.9 1236.9L501.2 1235.9L502.4 1235L503.7 1234.2L505 1233.5L506.3 1232.9L507.5 1232.3L508.3 1231.8L508.8 1231.5L510.1 1230.8L511.4 1230.2L512.6 1229.6L513.9 1228.9L515.2 1228.2L516.5 1227.5L516.8 1227.3L517.8 1226.8L519.1 1226.3L520.4 1225.7L521.7 1225L522.9 1224.2L524.2 1223.6L525.5 1223.1L525.5 1223.1L526.8 1222.7L528.1 1222.1L529.4 1221.3L530.7 1220.4L532 1219.6L533.3 1219L534 1218.7L534.6 1218.4L536 1217.8L537.3 1217.1L538.6 1216.4L539.9 1215.9L541.2 1215.4L542.5 1214.8L542.5 1214.8L543.8 1214.1L545.1 1213.4L546.5 1212.9L547.8 1212.5L549.1 1212L550.4 1211.4L551.1 1211L551.8 1210.7L553.1 1210L554.4 1209.6L555.8 1209.1L557.1 1208.5L558.4 1207.7L559.6 1207L559.8 1206.9L561.1 1206L562.4 1205.2L563.8 1204.2L565.1 1203.3L566.5 1202.5L567.8 1201.9L568.1 1201.8L569.2 1201.5L570.5 1201L571.9 1200.5L573.2 1199.9L574.6 1199.5L575.9 1199.1L576.7 1198.9L577.3 1198.7L578.7 1198.1L580 1197.5L581.4 1196.8L582.7 1196L584.1 1195.4L585.5 1194.7L586.9 1194L587.8 1193.5L588.2 1193.3L589.6 1192.6L591 1191.7L592.4 1190.9L593.8 1190.1L595.1 1189.5L596.5 1188.8L597.9 1188L599.3 1187.2L600.6 1186.7L600.7 1186.7L602.1 1186.1L603.5 1185.6L604.9 1184.8L606.3 1184L607.7 1183.4L609.1 1183L610.5 1182.8L611.9 1182.4L613.3 1181.7L613.4 1181.6L614.7 1181L616.1 1180.4L617.6 1179.9L619 1179.4L620.4 1178.8L621.8 1178.1L623.3 1177.5L624.7 1176.9L626.1 1176.3L626.3 1176.2L627.5 1175.8L629 1175.3L630.4 1174.7L631.9 1173.9L633.3 1172.9L634.7 1172L636.2 1171.4L637.6 1170.9L639.1 1170.3L639.1 1170.3L640.5 1169.8L642 1169.4L643.4 1169.1L644.9 1168.8L646.4 1168.4L647.8 1167.9L649.3 1167.5L650.8 1167.2L651.9 1167L652.2 1166.9L653.7 1166.5L655.2 1165.9L656.7 1165.6L658.1 1165.4L659.6 1165.2L661.1 1164.8L662.6 1164.2L664.1 1163.5L664.7 1163.3L665.6 1163L667.1 1162.6L668.6 1162.1L670.1 1161.6L671.6 1161.1L673.1 1160.4L674.6 1159.6L676.1 1158.8L677.5 1158.2L677.6 1158.2L679.1 1157.7L680.7 1157.2L682.2 1156.8L683.7 1156.4L685.2 1155.9L686.8 1155.5L688.3 1154.9L689.8 1154.4L690.3 1154.2L691.4 1153.8L692.9 1153.1L694.4 1152.3L696 1151.4L697.5 1150.9L698.8 1150.7L699.1 1150.7L700.6 1150.4L702.2 1149.9L703.7 1149.3L705.3 1148.8L706.9 1148.4L708.4 1148L710 1147.6L711.6 1147.3L711.7 1147.2L713.2 1147L714.7 1146.7L716.3 1146.4L717.9 1146.1L719.5 1145.8L721.1 1145.4L722.5 1144.9L722.7 1144.9L724.3 1144.5L725.8 1144.2L727.4 1143.9L729 1143.4L730.7 1142.9L732.3 1142.5L733.9 1142.2L735.5 1141.7L737 1141.1L737.1 1141.1L738.7 1140.6L740.3 1140.4L742 1140.2L743.6 1139.7L745.2 1139.1L746.9 1138.7L748.5 1138.4L750.1 1138.1L751.8 1137.6L753.4 1137L754.2 1136.8L755.1 1136.6L756.7 1136.3L758.4 1135.8L760.1 1135.2L761.7 1134.7L763.4 1134.2L765.1 1133.6L766.7 1133L768.4 1132.4L770.1 1132L771.3 1131.8L771.8 1131.7L773.4 1131.4L775.1 1131.1L776.8 1130.7L778.5 1130.3L780.2 1130L781.9 1129.6L783.6 1129.3L785.3 1129L787 1128.7L788.3 1128.5L788.7 1128.4L790.5 1127.9L792.2 1127.5L793.9 1127.1L795.6 1126.7L797.4 1126.1L799.1 1125.4L800.8 1125L802.6 1124.8L804.3 1124.5L805.4 1124.2L806 1124.1L807.8 1123.7L809.5 1123.5L811.3 1123.3L813.1 1122.9L814.8 1122.6L816.6 1122.5L818.4 1122.3L820.1 1121.9L821.9 1121.6L822.5 1121.6L823.7 1121.4L825.5 1121L827.3 1120.3L829 1119.8L830.8 1119.5L832.6 1119.2L834.4 1118.6L836.2 1118L838 1117.6L839.5 1117.3L839.9 1117.2L841.7 1116.8L843.5 1116.5L845.3 1116.4L847.1 1116.2L849 1115.9L850.8 1115.6L852.6 1115.3L854.5 1115.1L856.3 1114.7L856.6 1114.7L858.2 1114.4L860 1114.1L861.9 1113.9L863.7 1113.8L865.6 1113.5L867.4 1113L867.5 1113L869.3 1112.4L871.2 1111.9L873.1 1111.4L874.9 1111L876.8 1110.6L878.7 1110.1L880.6 1109.6L882 1109.2L882.5 1109.2L884.4 1108.9L886.3 1108.5L888.2 1108.1L890.1 1107.9L892 1107.8L893.9 1107.6L895.9 1107.1L897.8 1106.9L899.2 1106.8L899.7 1106.7L901.7 1106.3L903.6 1105.5L905.5 1105.2L907.5 1105.1L909.4 1104.5L911.4 1104L912 1104L913.3 1103.9L915.3 1103.9L917.3 1103.7L919.2 1103.6L921.2 1103.5L923.2 1103.5L924.8 1103.3L925.2 1103.2L927.1 1103L929.1 1102.7L931.1 1102.4L933.1 1102.1L935.1 1101.8L937.1 1101.6L939.1 1101.3L941.1 1100.9L941.9 1100.7L943.1 1100.4L945.2 1100L947.2 1099.8L949.2 1099.5L951.3 1099L953.3 1098.7L955.3 1098.5L957.4 1098.2L958.9 1098.1L959.4 1098.1L961.5 1098.1L963.5 1098L965.6 1098L967.7 1098L969.7 1098L971.8 1098L973.9 1097.9L976 1097.9L976 1097.9L978.1 1097.8L980.1 1097.7L982.2 1097.3L984.3 1096.7L986.4 1096.2L988.5 1096L990.7 1095.5L992.8 1095L993.2 1094.9L994.9 1094.8L997 1094.7L999.2 1094.3L1001.3 1093.8L1003.4 1093.7L1005.6 1093.6L1007.7 1093.4L1009.9 1093.2L1012 1093L1014.2 1092.6L1015 1092.5L1016.3 1092.3L1018.5 1092.2L1020.7 1092L1022.9 1091.8L1025 1091.5L1027.2 1091.4L1029.4 1091.2L1031.6 1090.8L1033.8 1090.5L1036 1090.4L1038.2 1090.4L1040.4 1090.1L1042.7 1089.7L1044.9 1089.4L1047.1 1089.2L1049.2 1089L1049.4 1089L1051.6 1088.7L1053.8 1088.3L1056.1 1087.9L1058.3 1087.6L1060.6 1087.3L1062.8 1086.9L1065.1 1086.6L1066.3 1086.5L1067.4 1086.3L1069.6 1086.1L1071.9 1085.8L1074.2 1085.6L1076.5 1085.4L1078.8 1085.3L1081.1 1085.1L1083.3 1084.7L1083.4 1084.7L1085.7 1084.4L1088 1084L1090.3 1083.5L1092.6 1083.3L1095 1082.9L1097.3 1082.5L1099.6 1082.3L1100.4 1082.3L1102 1082.1L1104.3 1081.8L1106.7 1081.7L1109 1081.7L1111.4 1081.6L1113.7 1081.5L1116.1 1081.3L1117.5 1081.2L1118.5 1081.2L1120.9 1081.1L1123.2 1080.8L1125.6 1080.4L1128 1080.3L1130.4 1080.1L1132.8 1079.8L1134.5 1079.5L1135.2 1079.5L1137.7 1079.2L1140.1 1079.1L1142.5 1078.8L1144.9 1078.5L1147.4 1078.2L1149.8 1078L1151.7 1077.9L1152.2 1077.9L1154.7 1077.6L1157.1 1077.1L1159.6 1076.9L1162.1 1076.7L1164.5 1076.3L1165 1076.2L1167 1076.1L1169.5 1076.1L1172 1075.8L1174.4 1075.5L1176.9 1075.3L1179.4 1075.2L1181.9 1075.1L1184.5 1074.9L1187 1074.7L1189.5 1074.6L1192 1074.4L1194.5 1074.1L1197.1 1074L1199.2 1073.9L1199.6 1073.9L1202.2 1073.7L1204.7 1073.5L1207.3 1073.1L1209.8 1073.1L1212.4 1073L1215 1072.6L1217.5 1072.4L1220.1 1072.3L1222.7 1072.1L1225.3 1071.8L1227.9 1071.7L1230.5 1071.5L1233.1 1071.3L1233.3 1071.2L1235.7 1071.1L1238.3 1070.8L1241 1070.7L1243.6 1070.6L1246.2 1070.2L1248.9 1070L1251.5 1069.9L1254.2 1069.6L1256.8 1069.4L1259.5 1069.4L1262.2 1069L1264.8 1068.8L1267.5 1068.7L1267.5 1068.7L1270.2 1068.5L1272.9 1068.5L1275.6 1068.3L1278.3 1068L1281 1067.9L1283.7 1067.7L1286.4 1067.6L1289.1 1067.4L1291.9 1067.4L1294.6 1067.3L1297.3 1067L1300.1 1067L1301.7 1067L1302.8 1067L1305.6 1066.9L1308.4 1066.9L1311.1 1066.9L1313.9 1066.8L1315 1066.8L1316.7 1066.8L1319.5 1066.7L1322.2 1066.4L1325 1066.2L1327.8 1066L1330.7 1065.7L1333.5 1065.6L1336.3 1065L1339.1 1064.5L1341.9 1064.4L1344.8 1064.1L1347.6 1063.9L1350.5 1063.5L1353.3 1063.1L1353.4 1063.1L1356.2 1063L1359 1062.8L1361.9 1062.8L1364.8 1062.6L1367.7 1062.2L1370.6 1062.2L1373.5 1062.1L1376.4 1061.9L1379.3 1061.7L1382.2 1061.5L1385.1 1061.4L1388 1061.1L1390.9 1060.9L1391.8 1060.9L1393.9 1060.6L1396.8 1060.2L1399.8 1059.9L1402.7 1059.6L1405.7 1059.1L1408.6 1058.7L1411 1058.4L1411.6 1058.3L1414.6 1058L1417.6 1057.8L1420.6 1057.5L1423.5 1057.3L1426.5 1056.9L1429.6 1056.5L1430.1 1056.5L1432.6 1056.2L1435.6 1055.5L1438.6 1054.9L1439.8 1054.6L1441.6 1054L1444.7 1052.8L1447.7 1051.6L1449.3 1051.2L1450.8 1050.9L1453.8 1050.2L1456.9 1049.7L1458.9 1049.3L1460 1049.1L1463 1048.4L1466.1 1047.8L1468.6 1047.4L1469.2 1047.2L1472.3 1046.7L1475.4 1046.2L1478.5 1045.7L1481.6 1045.2" stroke="#F07F09" stroke-width="4.00" stroke-linecap="square"/>
<path d="M349.5 1536.1L350.5 1533L347.2 1531.9L346.1 1534.9ZM352.3 1528L353.4 1524.9L350.1 1523.8L349 1526.8ZM355.1 1519.9L356.2 1516.8L352.9 1515.7L351.8 1518.7ZM358 1511.8L359 1508.7L355.7 1507.5L354.7 1510.6ZM360.8 1503.6L361.9 1500.6L358.5 1499.4L357.5 1502.5ZM363.5 1495.4L364.5 1492.3L361.2 1491.2L360.2 1494.3ZM366.2 1487.3L367.4 1484.4L364.1 1483.1L362.9 1486ZM369.6 1479.6L370.9 1476.7L367.6 1475.3L366.4 1478.3ZM372.8 1471.8L374.1 1468.9L371 1467.4L369.6 1470.3ZM376.8 1464.6L378.4 1461.8L375.3 1460.1L373.8 1462.9ZM380.7 1457.1L382.2 1454.3L379.1 1452.6L377.6 1455.4ZM384.9 1449.9L386.4 1447.1L383.4 1445.4L381.8 1448.2ZM388.8 1442.3L390.2 1439.4L387.1 1437.9L385.7 1440.8ZM392.4 1434.7L393.9 1431.9L390.8 1430.3L389.3 1433.1ZM396.7 1427.8L398.5 1425.2L395.6 1423.2L393.8 1425.8ZM401.5 1421L403.2 1418.4L400.3 1416.4L398.6 1419ZM406 1413.9L407.8 1411.3L404.8 1409.4L403.1 1412ZM410.6 1407.1L412.5 1404.6L409.7 1402.5L407.8 1405.1ZM415.7 1400.6L417.7 1398.2L414.9 1396L413 1398.5ZM420.5 1393.6L422.2 1391L419.3 1389.1L417.6 1391.7ZM425.5 1387.4L427.6 1385L424.9 1382.7L422.9 1385.1ZM430.6 1380.4L432.2 1377.8L429.3 1375.9L427.6 1378.6ZM435.1 1373.7L437.1 1371.3L434.3 1369.1L432.4 1371.5ZM440.5 1367.7L442.7 1365.5L440.2 1363L438 1365.2ZM446.2 1361.5L448.2 1359.2L445.6 1356.9L443.6 1359.2ZM451.7 1355.6L454 1353.4L451.5 1350.9L449.3 1353.1ZM457.6 1349.7L459.8 1347.5L457.4 1345.1L455.2 1347.3ZM463.3 1343.6L465.4 1341.2L462.8 1338.9L460.7 1341.3ZM468.9 1337.6L471.1 1335.4L468.6 1332.9L466.4 1335.1ZM474.8 1332L477.2 1330L474.9 1327.4L472.5 1329.4ZM481.1 1326.6L483.4 1324.6L481.2 1321.9L478.8 1324ZM487.3 1321.2L489.7 1319.1L487.4 1316.5L485 1318.6ZM493.6 1316.1L496.2 1314.2L494.1 1311.4L491.6 1313.2ZM500.3 1311.1L502.8 1309.2L500.7 1306.4L498.2 1308.3ZM507 1306.7L509.9 1305.3L508.3 1302.2L505.5 1303.6ZM514.6 1302.3L517 1300.4L514.9 1297.7L512.4 1299.6ZM521.1 1296.9L523.3 1294.8L520.9 1292.2L518.7 1294.4ZM527.1 1291.7L529.7 1289.9L527.7 1287L525.1 1288.8ZM533.9 1286.7L536.4 1284.8L534.2 1282L531.7 1284ZM540.4 1281.8L543 1280.2L541.2 1277.2L538.5 1278.9ZM547.5 1277.4L550.1 1275.7L548.3 1272.8L545.6 1274.5ZM554.5 1273.1L557.3 1271.6L555.6 1268.5L552.9 1270ZM561.9 1269L564.6 1267.3L562.7 1264.3L560.1 1266ZM569 1264.5L571.6 1262.8L569.8 1259.8L567.1 1261.5ZM576.1 1260L578.7 1258.2L576.7 1255.3L574.1 1257.1ZM582.9 1255.5L585.7 1254L584.1 1250.9L581.3 1252.4ZM590.4 1251.3L592.9 1249.4L590.9 1246.6L588.4 1248.5ZM597 1246.6L599.8 1245L598 1242L595.3 1243.5ZM604.4 1242L606.8 1240L604.5 1237.4L602.2 1239.4ZM610.6 1237L613.3 1235.4L611.6 1232.4L608.9 1234ZM617.9 1233L620.7 1231.7L619.2 1228.5L616.4 1229.9ZM625.5 1229.5L628.4 1228.3L627.1 1225L624.1 1226.3ZM633.4 1225.9L636.1 1224.2L634.2 1221.2L631.6 1222.9ZM640.4 1221.3L643.1 1219.6L641.2 1216.7L638.6 1218.4ZM647.4 1217.3L650.4 1216.2L649.1 1212.9L646.1 1214ZM655.6 1214.2L658.4 1212.7L656.7 1209.6L653.9 1211.1ZM662.9 1210.1L665.7 1208.6L664.1 1205.5L661.3 1207ZM670.3 1206.4L673.2 1205.2L671.9 1202L669 1203.2ZM678.3 1203.3L681.2 1201.9L679.7 1198.8L676.8 1200.1ZM685.9 1199.7L688.9 1198.4L687.5 1195.2L684.5 1196.5ZM693.8 1196.3L696.7 1194.9L695.2 1191.8L692.3 1193.2ZM701.4 1192.6L704.2 1191.2L702.7 1188L699.9 1189.4ZM708.9 1189.2L712 1188.2L710.9 1184.9L707.8 1185.8ZM717.3 1186.6L720.3 1185.4L718.9 1182.2L716 1183.4ZM725 1183.1L728 1181.8L726.5 1178.6L723.6 1179.9ZM732.7 1179.8L735.8 1178.7L734.6 1175.4L731.6 1176.5ZM741.1 1177L743.9 1175.5L742.3 1172.4L739.5 1173.9ZM748.3 1172.9L751.3 1171.7L750 1168.5L747 1169.7ZM756.3 1170.1L759.3 1168.9L758.1 1165.7L755.1 1166.8ZM764.3 1166.9L767.3 1165.7L766 1162.5L763 1163.7ZM772.1 1163.8L775.2 1162.8L774.1 1159.4L771 1160.5ZM780.3 1161.3L783.5 1160.3L782.5 1157L779.3 1157.9ZM788.7 1158.8L791.8 1157.8L790.7 1154.4L787.6 1155.5ZM796.8 1155.9L799.9 1154.8L798.7 1151.5L795.7 1152.6ZM805 1153.2L808.1 1152.2L807 1148.9L803.9 1149.9ZM813 1150.4L816.1 1149.5L815.2 1146.1L812 1147ZM821.4 1148.5L824.7 1147.8L824 1144.4L820.7 1145ZM830 1146.4L833.2 1145.6L832.4 1142.2L829.2 1143ZM838.6 1144.3L841.7 1143.4L840.7 1140L837.6 1141ZM846.8 1141.3L849.8 1140.2L848.5 1136.9L845.5 1138.1ZM854.7 1138.6L857.9 1137.7L857 1134.3L853.8 1135.2ZM863.2 1136.7L866.5 1136L865.7 1132.6L862.5 1133.3ZM871.7 1134.1L874.8 1133L873.5 1129.7L870.5 1130.9ZM879.8 1131.5L882.9 1130.5L881.9 1127.2L878.8 1128.1ZM888.1 1129L891.2 1128.1L890.2 1124.7L887.1 1125.6ZM896.4 1126.7L899.6 1125.9L898.8 1122.5L895.6 1123.3ZM904.9 1124.8L908.2 1124.2L907.6 1120.8L904.3 1121.4ZM913.7 1123.7L917.1 1123.4L916.7 1119.9L913.3 1120.2ZM922.7 1121.9L925.8 1120.9L924.6 1117.6L921.6 1118.6ZM930.9 1119.6L934.1 1118.8L933.3 1115.4L930.1 1116.1ZM939.4 1117.7L942.7 1117.1L942 1113.7L938.8 1114.3ZM948.1 1116L951.3 1115.4L950.7 1111.9L947.4 1112.6ZM956.7 1114.5L960.1 1114.1L959.6 1110.6L956.3 1111.1ZM965.6 1113.3L968.9 1112.8L968.5 1109.3L965.1 1109.8ZM974.5 1112.3L977.9 1111.9L977.5 1108.4L974.1 1108.8ZM983.6 1110.6L986.6 1109.6L985.5 1106.2L982.5 1107.3ZM991.7 1108.4L995 1107.8L994.4 1104.4L991.1 1105ZM1000.5 1106.8L1003.7 1106.1L1003 1102.7L999.8 1103.3ZM1009.1 1105.3L1012.5 1104.8L1012 1101.3L1008.6 1101.8ZM1018 1103.7L1021.2 1103L1020.5 1099.6L1017.2 1100.3ZM1026.6 1101.7L1029.8 1101L1029 1097.6L1025.8 1098.3ZM1035.1 1099.9L1038.4 1099.3L1037.7 1095.8L1034.5 1096.4ZM1043.8 1098.2L1047.1 1097.5L1046.3 1094.1L1043.1 1094.8ZM1052.4 1096.6L1055.8 1096.2L1055.3 1092.7L1051.9 1093.2ZM1061.3 1095.3L1064.6 1094.6L1063.9 1091.2L1060.7 1091.8ZM1070 1093.7L1073.3 1093.2L1072.8 1089.8L1069.5 1090.2ZM1078.8 1092.4L1082.2 1092L1081.7 1088.5L1078.3 1089ZM1087.7 1091.3L1091 1090.9L1090.7 1087.4L1087.3 1087.8ZM1096.6 1090.5L1100 1090.2L1099.8 1086.7L1096.4 1087ZM1105.7 1089.9L1109.2 1089.6L1108.9 1086.1L1105.5 1086.4ZM1114.9 1089L1118.2 1088.5L1117.7 1085L1114.4 1085.5ZM1123.7 1087.5L1127 1086.9L1126.3 1083.4L1123.1 1084.1ZM1132.4 1085.9L1135.7 1085.4L1135.1 1081.9L1131.8 1082.5ZM1141.2 1084.4L1144.5 1083.8L1143.9 1080.4L1140.6 1081ZM1149.9 1083L1153.2 1082.5L1152.7 1079.1L1149.4 1079.5ZM1158.8 1081.7L1162.1 1081.3L1161.6 1077.8L1158.3 1078.3ZM1167.7 1080.4L1170.9 1079.8L1170.3 1076.3L1167 1076.9ZM1176.4 1078.8L1179.7 1078.1L1179 1074.7L1175.7 1075.3ZM1185.1 1077.2L1188.4 1076.6L1187.8 1073.2L1184.5 1073.7ZM1193.8 1075.7L1197.2 1075.2L1196.6 1071.7L1193.3 1072.3ZM1202.6 1074.3L1205.9 1073.7L1205.3 1070.3L1202 1070.8ZM1211.4 1072.8L1214.7 1072.2L1214.1 1068.8L1210.8 1069.3ZM1220.2 1071.4L1223.5 1071L1223 1067.5L1219.7 1068ZM1229 1070.3L1232.4 1069.9L1232 1066.5L1228.6 1066.8ZM1238 1069.4L1241.4 1069L1241 1065.5L1237.6 1065.9ZM1247 1068.5L1250.4 1068.2L1250.1 1064.7L1246.7 1065ZM1256 1067.7L1259.4 1067.4L1259.1 1063.9L1255.7 1064.2ZM1265.1 1066.8L1268.4 1066.5L1268.1 1063L1264.7 1063.4ZM1274.1 1065.9L1277.4 1065.6L1277.1 1062.1L1273.7 1062.4ZM1283 1064.9L1286.4 1064.5L1286 1061L1282.6 1061.4ZM1292 1063.8L1295.3 1063.3L1294.8 1059.8L1291.5 1060.3ZM1300.8 1062.5L1304.2 1062L1303.7 1058.5L1300.3 1059ZM1309.6 1061.4L1313 1061.1L1312.8 1057.6L1309.3 1057.9ZM1318.7 1060.7L1322.1 1060.4L1321.9 1056.9L1318.4 1057.2ZM1327.8 1060L1331.2 1059.8L1330.9 1056.3L1327.5 1056.5ZM1336.9 1059.3L1340.3 1059.1L1340 1055.6L1336.6 1055.8ZM1346 1058.6L1349.3 1058.2L1349 1054.7L1345.6 1055.1ZM1355 1057.6L1358.3 1057.2L1357.9 1053.7L1354.6 1054.1ZM1363.9 1056.6L1367.3 1056.2L1366.9 1052.8L1363.5 1053.1ZM1372.9 1055.6L1376.3 1055.3L1375.9 1051.8L1372.5 1052.2ZM1381.9 1054.8L1385.3 1054.5L1384.9 1051L1381.5 1051.3ZM1390.9 1054L1394.3 1053.7L1394 1050.2L1390.6 1050.5ZM1399.9 1053.3L1403.4 1053.1L1403.2 1049.6L1399.7 1049.8ZM1409 1052.8L1412.5 1052.7L1412.3 1049.2L1408.9 1049.3ZM1418.2 1052.4L1421.7 1052.4L1421.6 1048.9L1418.1 1048.9ZM1427.4 1052.2L1430.9 1052.2L1430.8 1048.7L1427.3 1048.7ZM1436.7 1052L1440.1 1051.8L1439.9 1048.3L1436.5 1048.5ZM1445.9 1051.3L1449.2 1051L1448.9 1047.5L1445.5 1047.8ZM1454.9 1050.4L1458.2 1050L1457.8 1046.5L1454.5 1046.9ZM1463.8 1049.3L1467.2 1048.9L1466.8 1045.5L1463.4 1045.9ZM1472.8 1048.2L1476.1 1047.8L1475.6 1044.3L1472.3 1044.8Z" fill="#F07F09" stroke="none"/>
<path d="M347.8 1535.5L348.7 1515.9L349 1510.5L350.2 1490L350.5 1485.4L351.4 1475.7L352.6 1464.7L353.1 1459.9L353.8 1454.6L354.9 1445.2L356.1 1436.8L356.5 1434.3L357.3 1429.7L358.5 1423.6L359.7 1418.1L359.9 1417.1L360.9 1413L362.1 1408.5L363.3 1404L364.2 1400.1L364.5 1399.1L365.7 1393.1L366.9 1386.7L367.6 1382.7L368 1380.8L369.2 1375.8L370.4 1371.3L371.6 1367.1L371.9 1365.9L372.8 1362.6L374 1357.9L375.2 1353.3L376.1 1350L376.4 1349.1L377.6 1345.6L378.8 1342.6L380 1339.5L381.2 1336.4L382.2 1334.1L382.4 1333.6L383.6 1331L384.8 1328.3L386 1325.1L387.1 1322.1L388.2 1320.1L388.3 1319.7L389.5 1317.4L390.7 1314.6L391.9 1311.9L393.1 1309.7L393.3 1309.5L394.3 1307.8L395.5 1305.9L396.7 1304L397.9 1302.5L399.1 1300.9L399.3 1300.7L400.3 1298.8L401.5 1296.2L402.7 1293.7L403.9 1291.3L404.4 1290.6L405.1 1289.5L406.3 1288L407.5 1286.8L408.7 1285.7L409.9 1284.7L411.1 1283.8L411.2 1283.7L412.4 1282.7L413.6 1281.3L414.8 1280L416 1279L417.2 1277.9L418.4 1276.3L418.9 1275.6L419.6 1274.7L420.8 1273.7L422 1272.9L423.2 1271.6L424.4 1270.1L425.6 1269.1L426.6 1268.5L426.9 1268.4L428.1 1267.4L429.3 1266.3L430.5 1265.3L431.7 1264.3L432.9 1263.3L433.4 1262.9L434.1 1262.3L435.4 1261.4L436.6 1260.3L437.8 1258.8L439 1257.3L440 1256.4L440.2 1256.2L441.5 1255.2L442.7 1254.1L443.9 1252.8L445.1 1251.7L446.4 1250.8L447.6 1250L448.6 1249.2L448.8 1249L450 1247.5L451.3 1245.9L452.5 1244.8L453.7 1244L454.9 1243L456.2 1241.7L457.1 1240.8L457.4 1240.6L458.6 1240.1L459.9 1239.6L461.1 1238.8L462.3 1237.9L463.6 1237.4L464.8 1236.9L466.1 1236.2L467.3 1235.5L468.5 1234.9L469.8 1234.3L469.9 1234.2L471 1233.7L472.3 1233.1L473.5 1232.5L474.7 1232L476 1231.3L477.2 1230.6L478.4 1229.8L478.5 1229.8L479.7 1229.1L481 1228.5L482.2 1227.9L483.5 1227.2L484.7 1226.4L486 1225.4L487.3 1224.3L488.5 1223.4L489.5 1222.8L489.8 1222.7L491 1222.1L492.3 1221.6L493.6 1221.1L494.8 1220.7L496.1 1220.1L497.4 1219.3L498.6 1218.4L499.7 1217.8L499.9 1217.7L501.2 1217.3L502.4 1217L503.7 1216.4L505 1215.5L506.3 1214.8L507.5 1214.3L508.8 1213.7L510.1 1213L511.4 1212.5L512.6 1212.2L512.7 1212.2L513.9 1211.8L515.2 1211.1L516.5 1210.3L517.8 1209.6L519.1 1208.8L520.4 1208.2L521.7 1207.8L522.9 1207.3L524.2 1206.5L525.5 1205.8L525.5 1205.8L526.8 1205.3L528.1 1204.9L529.4 1204.5L530.7 1204.2L532 1203.7L533.3 1202.9L534.6 1202.3L536 1201.8L537.3 1201.1L538.3 1200.6L538.6 1200.5L539.9 1200.3L541.2 1200.1L542.5 1199.5L543.8 1198.6L545.1 1198L546.5 1197.6L547.8 1197.2L549.1 1196.8L550.4 1196.4L551.1 1196.1L551.8 1195.8L553.1 1194.9L554.4 1194.2L555.8 1193.4L557.1 1192.6L558.4 1192.1L559.8 1191.8L561.1 1191.1L562.4 1190.3L563.8 1189.8L563.9 1189.8L565.1 1189.4L566.5 1189.1L567.8 1188.7L569.2 1188.4L570.5 1187.9L571.9 1187.5L573.2 1187.1L574.6 1186.6L575.9 1186.1L576.7 1185.9L577.3 1185.8L578.7 1185.6L580 1184.7L581.4 1183.6L582.7 1183.2L584.1 1182.9L585.5 1182.1L586.9 1181.2L587.8 1180.6L588.2 1180.4L589.6 1179.7L591 1178.9L592.4 1178.1L593.8 1177.5L595.1 1177.1L596.5 1176.7L597.9 1176.1L599.3 1175.2L600.6 1174.6L600.7 1174.6L602.1 1174.1L603.5 1173.6L604.9 1173L606.3 1172.3L607.7 1171.5L609.1 1170.9L610.5 1170.5L611.9 1170.2L613.3 1169.7L613.4 1169.6L614.7 1169.2L616.1 1168.8L617.6 1168.2L619 1167.6L620.4 1167.1L621.8 1166.9L623.3 1166.5L624.7 1165.9L626.1 1165.2L626.3 1165.1L627.5 1164.6L629 1163.9L630.4 1163.3L631.9 1163L633.3 1162.2L634.7 1161.1L636.2 1160.4L637.6 1159.8L639.1 1159.2L639.1 1159.2L640.5 1158.7L642 1158.5L643.4 1158.1L644.9 1157.6L646.4 1157.1L647.8 1156.8L649.3 1156.6L650.8 1156.3L651.9 1155.9L652.2 1155.8L653.7 1155.3L655.2 1154.8L656.7 1154.2L658.1 1153.8L659.6 1153.5L661.1 1152.9L662.6 1152L664.1 1151.6L664.7 1151.6L665.6 1151.4L667.1 1150.7L668.6 1150.2L670.1 1150L671.6 1149.4L673.1 1148.7L674.6 1148.1L676.1 1147.6L677.5 1147.3L677.6 1147.3L679.1 1147L680.7 1146.4L682.2 1145.9L683.7 1145.7L685.2 1145.4L686.8 1144.9L688.3 1144.4L689.8 1144L690.3 1143.9L691.4 1143.7L692.9 1143.1L694.4 1142.4L696 1142L697.5 1141.8L699.1 1141L700.6 1140.2L702.2 1140L703.1 1139.9L703.7 1139.6L705.3 1138.8L706.9 1138.3L708.4 1137.9L710 1137.2L711.6 1136.7L713.2 1136.3L714.7 1135.8L715.9 1135.5L716.3 1135.4L717.9 1134.8L719.5 1134.2L721.1 1133.7L722.7 1133.3L724.3 1132.9L725.8 1132.6L727.4 1132.2L729 1131.6L730.7 1131.1L732.3 1130.6L733.9 1130.2L735.5 1129.8L737 1129.3L737.1 1129.2L738.7 1128.7L740.3 1128.2L742 1127.6L743.6 1126.9L745.2 1126.4L746.9 1125.8L748.5 1125L750.1 1124.4L751.8 1123.9L753.4 1123.5L754.2 1123.3L755.1 1123.1L756.7 1122.6L758.4 1122.2L760.1 1122L761.7 1121.8L763.4 1121.4L765.1 1121.1L766.7 1120.7L768.4 1120.3L770.1 1120L771.3 1119.9L771.8 1119.8L773.4 1119.7L775.1 1119.2L776.8 1118.6L778.5 1118.4L780.2 1118.3L781.9 1117.8L783.6 1117.6L785.3 1117.3L787 1116.6L788.3 1116.2L788.7 1116.1L790.5 1115.8L792.2 1115.4L793.9 1115L795.6 1114.4L796.9 1113.9L797.4 1113.8L799.1 1113.3L800.8 1112.7L802.6 1112.2L804.3 1111.5L805.4 1111.1L806 1111L807.8 1110.7L809.5 1110.2L811.3 1109.7L813.1 1109.3L814.8 1108.7L816.6 1108.5L818.4 1107.9L820.1 1107.5L821.9 1107.2L822.5 1107L823.7 1106.6L825.5 1106.3L827.3 1106.3L829 1106.1L830.8 1105.8L832.6 1105.6L834.4 1105.3L836.2 1104.9L838 1104.6L839.5 1104.5L839.9 1104.5L841.7 1104.1L843.5 1103.8L845.3 1103.5L847.1 1103L849 1102.6L850.8 1102.1L852.6 1101.8L854.5 1101.6L856.3 1101L856.6 1100.9L858.2 1100.6L860 1100.6L861.9 1100.4L863.7 1100.2L865.6 1100.1L867.4 1099.6L869.3 1099.1L870 1099L871.2 1098.9L873.1 1098.6L874.9 1098L876.8 1097.1L878.7 1096.5L880.6 1096.1L882 1095.7L882.5 1095.6L884.4 1095.1L886.3 1094.7L888.2 1094.2L890.1 1093.8L892 1093.6L893.9 1093.1L895.9 1092.7L897.8 1092.6L899.2 1092.3L899.7 1092.2L901.7 1091.8L903.6 1091.4L905.5 1090.6L907.5 1090.3L909.4 1090.3L911.4 1089.8L913.3 1089.4L915.3 1089L916.3 1088.8L917.3 1088.6L919.2 1088.2L921.2 1087.8L923.2 1087.3L925.2 1086.7L927.1 1086.4L929.1 1086.1L931.1 1085.8L933.1 1085.4L933.3 1085.4L935.1 1085.1L937.1 1084.6L939.1 1084.2L941.1 1084.1L943.1 1083.7L945.2 1083.5L947.2 1083.2L949.2 1082.9L950.4 1082.8L951.3 1082.7L953.3 1082.4L955.3 1082.3L957.4 1082L959.4 1081.8L961.5 1081.6L963.5 1081.5L965.6 1081.2L967.5 1081L967.7 1081L969.7 1080.9L971.8 1080.5L973.9 1080.2L976 1079.7L978.1 1079.5L980.1 1079.2L982.2 1078.9L984.3 1078.6L984.5 1078.5L986.4 1078.1L988.5 1077.9L990.7 1077.6L992.8 1077.2L994.9 1076.7L997 1076.6L999.2 1076.2L1001.3 1076L1001.7 1076L1003.4 1075.8L1005.6 1075.5L1007.7 1075.3L1009.9 1075.2L1012 1075L1014.2 1074.8L1015 1074.8L1016.3 1074.8L1018.5 1074.4L1020.7 1074.2L1022.9 1074.2L1025 1073.8L1027.2 1073.8L1029.4 1073.6L1031.6 1073.3L1033.8 1073.2L1036 1073L1038.2 1072.8L1040.4 1072.6L1042.7 1072.5L1044.9 1072.3L1047.1 1072.1L1049.2 1071.9L1049.4 1071.9L1051.6 1071.7L1053.8 1071.5L1056.1 1071.4L1058.3 1071.2L1060.6 1071.1L1062.8 1070.8L1065.1 1070.7L1067.4 1070.4L1069.6 1070.3L1071.9 1070.2L1074.2 1070L1076.5 1069.9L1078.8 1069.7L1081.1 1069.4L1083.3 1069.3L1083.4 1069.3L1085.7 1069.1L1088 1069L1090.3 1068.7L1092.6 1068.7L1095 1068.4L1097.3 1068.4L1099.6 1068.1L1102 1067.9L1104.3 1067.8L1106.7 1067.6L1109 1067.4L1111.4 1067.3L1113.7 1067.1L1116.1 1066.9L1117.5 1066.8L1118.5 1066.7L1120.9 1066.5L1123.2 1066.3L1125.6 1066.1L1128 1065.8L1130.4 1065.8L1132.8 1065.5L1135.2 1065.2L1137.7 1064.8L1140.1 1064.8L1142.5 1064.6L1144.9 1064.4L1147.4 1064.2L1149.8 1063.8L1151.7 1063.8L1152.2 1063.8L1154.7 1063.5L1157.1 1063.4L1159.6 1063.3L1162.1 1063.1L1164.5 1063L1165 1063L1167 1062.7L1169.5 1062.3L1172 1062.1L1174.4 1061.8L1176.9 1061.5L1179.4 1061.2L1181.9 1060.6L1184.5 1060.5L1187 1059.9L1189.5 1059.6L1192 1059.3L1194.5 1059L1197.1 1058.7L1199.2 1058.5L1199.6 1058.5L1202.2 1058.3L1204.7 1058L1207.3 1057.7L1209.8 1057.5L1212.4 1057.5L1215 1057.2L1217.5 1057L1220.1 1056.8L1222.7 1056.8L1225.3 1056.4L1227.9 1056.3L1230.5 1056.2L1233.1 1056.1L1233.3 1056L1235.7 1055.7L1238.3 1055.3L1241 1055.3L1243.6 1055L1246.2 1054.8L1248.9 1054.6L1251.5 1054.3L1254.2 1054L1256.8 1053.7L1259.5 1053.7L1262.2 1053.3L1264.8 1053.1L1267.5 1053L1267.5 1053L1270.2 1052.8L1272.9 1052.5L1275.6 1052.3L1278.3 1052.2L1281 1052L1283.7 1051.8L1286.4 1051.6L1289.1 1051.5L1291.9 1051.3L1294.6 1051.2L1297.3 1051L1300.1 1050.8L1301.7 1050.8L1302.8 1050.8L1305.6 1050.5L1308.4 1050.4L1311.1 1050.3L1313.9 1050.3L1316.7 1050.1L1319.5 1050L1322.2 1049.9L1325 1049.7L1327.8 1049.6L1330.7 1049.6L1333.5 1049.4L1336.3 1049.4L1339.1 1049.2L1341.9 1049.2L1344.8 1048.9L1347.6 1048.9L1350.5 1048.8L1353.3 1048.7L1353.4 1048.7L1356.2 1048.5L1359 1048.5L1361.9 1048.3L1364.8 1048.1L1367.7 1048L1370.6 1047.9L1373.5 1047.8L1376.4 1047.5L1379.3 1047.5L1382.2 1047.3L1385.1 1047.1L1388 1047.1L1390.9 1047L1391.8 1047L1393.9 1046.9L1396.8 1046.8L1399.8 1046.7L1402.7 1046.6L1405.7 1046.5L1408.6 1046.5L1411.6 1046.4L1414.6 1046.3L1417.6 1046.2L1420.6 1046.1L1423.5 1046.1L1426.5 1046L1429.6 1046L1430.1 1046L1432.6 1045.9L1435.6 1045.9L1438.6 1045.8L1441.6 1045.7L1444.7 1045.7L1447.7 1045.6L1450.8 1045.6L1453.8 1045.5L1456.9 1045.5L1460 1045.5L1463 1045.4L1466.1 1045.4L1469.2 1045.3L1472.3 1045.3L1475.4 1045.3L1478.5 1045.2L1481.6 1045.2" stroke="#4D7FCB" stroke-width="4.00" stroke-linecap="square"/>
<path d="M349.5 1536L350.4 1532.9L347.1 1531.9L346.1 1535ZM352 1527.7L352.9 1524.6L349.6 1523.6L348.6 1526.7ZM354.6 1519.5L355.6 1516.4L352.2 1515.3L351.2 1518.4ZM357.2 1511.3L358.2 1508.2L354.9 1507.1L353.9 1510.2ZM360 1503.3L361.3 1500.4L358 1499L356.8 1501.9ZM363.7 1496L365.3 1493.3L362.2 1491.5L360.7 1494.2ZM367.9 1488.7L369.4 1485.9L366.3 1484.2L364.8 1487ZM371.6 1480.9L372.8 1478L369.6 1476.6L368.4 1479.5ZM374.9 1473.2L376.3 1470.3L373.1 1468.8L371.8 1471.7ZM378.9 1466L380.6 1463.4L377.7 1461.5L375.9 1464.1ZM383.5 1459.2L385.3 1456.6L382.4 1454.6L380.6 1457.2ZM388.1 1452.2L389.8 1449.6L386.9 1447.6L385.2 1450.2ZM393 1445.8L395.1 1443.5L392.5 1441.2L390.4 1443.5ZM398.3 1439.2L400.2 1436.7L397.4 1434.6L395.5 1437.1ZM403.5 1433.2L405.8 1431L403.3 1428.5L401.1 1430.7ZM409.3 1427L411.3 1424.6L408.6 1422.4L406.6 1424.7ZM414.7 1420.9L416.8 1418.6L414.3 1416.2L412.2 1418.5ZM420.4 1414.9L422.5 1412.6L420 1410.2L417.9 1412.5ZM425.9 1408.5L427.8 1406L425.1 1403.9L423.1 1406.3ZM431.3 1402.8L433.7 1400.9L431.6 1398.1L429.1 1400.1ZM437.5 1396.7L439.3 1394.1L436.5 1392.1L434.7 1394.7ZM442.5 1390.5L444.7 1388.3L442.3 1385.8L440 1387.9ZM448.4 1384.4L450.3 1382L447.6 1379.7L445.7 1382.1ZM453.8 1378.6L456.2 1376.6L454 1373.9L451.6 1375.9ZM460.1 1373L462.3 1370.7L459.8 1368.3L457.6 1370.5ZM465.9 1367.1L468.1 1364.9L465.6 1362.4L463.4 1364.6ZM471.8 1361.5L474.1 1359.4L471.9 1356.8L469.5 1358.8ZM478 1355.8L480.2 1353.6L477.7 1351.1L475.5 1353.4ZM483.8 1350.1L486.2 1348.1L483.9 1345.4L481.5 1347.5ZM490.1 1345.2L492.8 1343.6L491 1340.6L488.3 1342.2ZM497.3 1340.7L499.9 1339L497.9 1336.1L495.3 1337.8ZM504.1 1335.4L506.2 1333.1L503.7 1330.7L501.6 1333ZM509.7 1329.2L511.8 1326.9L509.2 1324.6L507.1 1326.9ZM515.2 1323.2L517.4 1321L515 1318.5L512.8 1320.7ZM521.1 1317.3L523.2 1315.1L520.7 1312.6L518.6 1314.9ZM526.9 1311.8L529.4 1310L527.3 1307.2L524.8 1309ZM533.6 1307.2L536.3 1305.7L534.6 1302.6L531.8 1304.2ZM540.9 1302.6L543.3 1300.6L541 1297.9L538.6 1299.9ZM547.1 1297.7L549.9 1296.1L548.2 1293.1L545.4 1294.6ZM554.5 1292.9L556.7 1290.7L554.2 1288.2L552.1 1290.5ZM560.3 1287.4L562.8 1285.5L560.8 1282.7L558.2 1284.6ZM567 1282.4L569.5 1280.5L567.4 1277.7L564.9 1279.7ZM573.6 1277.6L576.2 1276L574.4 1273L571.7 1274.6ZM580.8 1273.1L583.3 1271.3L581.3 1268.5L578.7 1270.3ZM587.5 1268.6L590.3 1267.2L588.7 1264.1L585.9 1265.5ZM595.2 1264.5L597.6 1262.5L595.4 1259.8L593 1261.8ZM601.5 1259.4L604.1 1257.7L602.2 1254.8L599.6 1256.5ZM608.5 1254.9L611.2 1253.3L609.4 1250.3L606.7 1252ZM615.7 1250.5L618.3 1248.8L616.4 1245.9L613.8 1247.6ZM622.5 1246.1L625.3 1244.7L623.8 1241.6L620.9 1243ZM630.1 1242.7L633.1 1241.5L631.8 1238.3L628.8 1239.5ZM638.1 1239.4L640.9 1238L639.5 1234.9L636.6 1236.2ZM645.7 1235.6L648.5 1234.1L646.8 1231L644 1232.5ZM653.1 1231.5L655.8 1230L654.1 1226.9L651.4 1228.4ZM660.4 1227.4L663.2 1225.9L661.5 1222.8L658.7 1224.4ZM667.8 1223.4L670.5 1221.8L668.8 1218.8L666 1220.3ZM674.9 1219.1L677.7 1217.7L676.2 1214.6L673.3 1216ZM682.6 1215.9L685.6 1214.7L684.3 1211.5L681.3 1212.6ZM690.6 1212.6L693.4 1211.2L691.8 1208.1L689 1209.5ZM697.9 1208.2L700.6 1206.6L698.8 1203.6L696.1 1205.2ZM705.1 1204.3L708 1202.9L706.4 1199.8L703.6 1201.2ZM712.6 1200.6L715.5 1199.2L714.1 1196L711.2 1197.4ZM720.4 1197.2L723.3 1195.9L721.9 1192.7L719 1194ZM727.9 1193.3L730.8 1192L729.4 1188.8L726.5 1190.1ZM735.8 1190.6L738.9 1189.6L737.9 1186.3L734.8 1187.3ZM744 1187.4L746.9 1186.1L745.4 1182.9L742.5 1184.2ZM751.5 1183.9L754.5 1182.8L753.4 1179.5L750.3 1180.6ZM759.7 1181.8L763 1181.1L762.2 1177.7L759 1178.4ZM768.3 1179.3L771.3 1178.1L770 1174.9L767 1176ZM776.2 1176.1L779.2 1174.9L777.9 1171.7L774.9 1172.9ZM784.2 1173.3L787.3 1172.4L786.3 1169L783.2 1170ZM792.4 1170.5L795.5 1169.4L794.2 1166.1L791.2 1167.2ZM800.5 1167.6L803.5 1166.6L802.4 1163.2L799.3 1164.3ZM808.6 1164.7L811.6 1163.6L810.4 1160.3L807.4 1161.4ZM816.6 1162L819.8 1161.1L818.8 1157.7L815.7 1158.7ZM825 1159.6L828.1 1158.6L827.1 1155.3L824 1156.2ZM833.3 1157L836.4 1156L835.3 1152.7L832.2 1153.7ZM841.5 1154.5L844.6 1153.5L843.6 1150.2L840.5 1151.1ZM849.8 1151.7L852.8 1150.5L851.6 1147.3L848.5 1148.4ZM857.8 1149.2L861 1148.4L860.2 1145L857 1145.8ZM866.4 1146.9L869.4 1145.9L868.4 1142.5L865.3 1143.5ZM874.6 1144.3L877.7 1143.3L876.6 1140L873.5 1140.9ZM882.8 1142L886 1141.2L885.2 1137.8L882 1138.6ZM891.4 1139.7L894.5 1138.8L893.5 1135.4L890.3 1136.4ZM899.6 1137.2L902.7 1136.2L901.7 1132.9L898.6 1133.8ZM907.9 1134.8L911.1 1134.1L910.3 1130.7L907.1 1131.4ZM916.4 1132.6L919.5 1131.6L918.5 1128.3L915.4 1129.2ZM924.7 1130.2L927.9 1129.4L927 1126L923.8 1126.8ZM933.2 1128.1L936.4 1127.3L935.5 1123.9L932.3 1124.7ZM941.7 1125.6L944.7 1124.4L943.4 1121.2L940.4 1122.4ZM949.6 1123.1L952.9 1122.5L952.3 1119.1L949 1119.7ZM958.3 1121.4L961.6 1120.8L960.9 1117.4L957.6 1118ZM967 1119.8L970.3 1119.2L969.6 1115.7L966.3 1116.3ZM975.7 1117.9L978.9 1117.1L978 1113.7L974.9 1114.6ZM984.2 1115.8L987.4 1115L986.5 1111.6L983.3 1112.4ZM992.7 1113.7L995.9 1112.8L995 1109.5L991.8 1110.3ZM1001.1 1111.7L1004.4 1111L1003.7 1107.6L1000.4 1108.2ZM1009.8 1109.7L1013 1108.8L1012 1105.5L1008.9 1106.4ZM1018.2 1107.3L1021.3 1106.4L1020.3 1103L1017.2 1103.9ZM1026.5 1104.8L1029.6 1103.8L1028.5 1100.4L1025.4 1101.4ZM1034.6 1102.5L1037.9 1101.9L1037.3 1098.5L1034 1099.1ZM1043.4 1100.9L1046.6 1100.2L1045.9 1096.8L1042.7 1097.4ZM1052 1099.1L1055.3 1098.5L1054.6 1095L1051.4 1095.7ZM1060.7 1097.6L1064 1097.1L1063.5 1093.6L1060.2 1094.1ZM1069.5 1096.4L1072.9 1096.1L1072.6 1092.7L1069.2 1093ZM1078.6 1095.5L1081.9 1095L1081.4 1091.6L1078.1 1092.1ZM1087.5 1094.1L1090.7 1093.5L1090 1090L1086.8 1090.7ZM1096.1 1092.4L1099.4 1091.8L1098.7 1088.3L1095.5 1089ZM1104.8 1090.7L1108.1 1090.1L1107.4 1086.6L1104.1 1087.3ZM1113.4 1089.1L1116.8 1088.7L1116.3 1085.2L1113 1085.7ZM1122.4 1087.8L1125.6 1087.2L1125 1083.7L1121.7 1084.4ZM1131 1086.2L1134.3 1085.7L1133.8 1082.2L1130.5 1082.7ZM1139.9 1084.8L1143.2 1084.2L1142.5 1080.7L1139.2 1081.4ZM1148.5 1083.2L1151.8 1082.7L1151.4 1079.3L1148 1079.7ZM1157.4 1081.9L1160.7 1081.4L1160.2 1078L1156.9 1078.5ZM1166.2 1080.6L1169.5 1080.1L1169 1076.6L1165.7 1077.1ZM1175.1 1079.2L1178.3 1078.5L1177.6 1075.1L1174.4 1075.7ZM1183.7 1077.4L1187 1076.8L1186.3 1073.3L1183.1 1074ZM1192.4 1075.8L1195.7 1075.3L1195.2 1071.9L1191.9 1072.4ZM1201.2 1074.5L1204.5 1074.1L1204.1 1070.6L1200.7 1071.1ZM1210.2 1073.3L1213.4 1072.6L1212.7 1069.2L1209.5 1069.8ZM1218.7 1071.6L1222.1 1071.3L1221.7 1067.8L1218.3 1068.2ZM1227.8 1070.7L1231.1 1070.3L1230.6 1066.8L1227.3 1067.3ZM1236.6 1069.4L1239.9 1068.9L1239.4 1065.5L1236.1 1066ZM1245.3 1068.3L1248.8 1068.1L1248.6 1064.6L1245.2 1064.8ZM1254.7 1067.8L1258 1067.3L1257.5 1063.9L1254.2 1064.3ZM1263.4 1066.6L1266.8 1066.4L1266.6 1062.9L1263.2 1063.1ZM1272.6 1066.1L1276 1065.8L1275.7 1062.3L1272.3 1062.6ZM1281.7 1065.2L1285 1064.7L1284.5 1061.3L1281.2 1061.8ZM1290.4 1064L1293.8 1063.7L1293.5 1060.2L1290.1 1060.5ZM1299.6 1063.1L1302.9 1062.5L1302.3 1059.1L1299 1059.7ZM1308.2 1061.5L1311.6 1061.2L1311.2 1057.7L1307.8 1058ZM1317.2 1060.7L1320.6 1060.5L1320.4 1057L1316.9 1057.2ZM1326.3 1060.1L1329.7 1059.9L1329.4 1056.4L1326 1056.6ZM1335.4 1059.4L1338.8 1059.2L1338.5 1055.7L1335.1 1056ZM1344.5 1058.7L1347.9 1058.4L1347.5 1054.9L1344.1 1055.2ZM1353.5 1057.8L1356.8 1057.4L1356.5 1053.9L1353.1 1054.3ZM1362.4 1056.8L1365.8 1056.4L1365.4 1052.9L1362.1 1053.3ZM1371.4 1055.8L1374.8 1055.4L1374.4 1052L1371 1052.3ZM1380.4 1054.9L1383.8 1054.6L1383.4 1051.1L1380 1051.4ZM1389.4 1054.1L1392.8 1053.8L1392.5 1050.3L1389.1 1050.6ZM1398.4 1053.4L1401.9 1053.2L1401.7 1049.7L1398.2 1049.9ZM1407.5 1052.9L1411 1052.7L1410.8 1049.2L1407.4 1049.4ZM1416.7 1052.5L1420.1 1052.4L1420 1048.9L1416.6 1049ZM1425.9 1052.3L1429.4 1052.2L1429.3 1048.7L1425.8 1048.8ZM1435.2 1052L1438.6 1051.9L1438.5 1048.4L1435 1048.5ZM1444.4 1051.4L1447.8 1051.1L1447.4 1047.6L1444 1048ZM1453.4 1050.5L1456.7 1050.1L1456.4 1046.7L1453 1047ZM1462.4 1049.5L1465.7 1049.1L1465.3 1045.6L1461.9 1046ZM1471.3 1048.4L1474.6 1048L1474.2 1044.5L1470.8 1044.9ZM1480.2 1047.2L1481.9 1046.9L1481.3 1043.5L1479.7 1043.7Z" fill="#4D7FCB" stroke="none"/>
<path d="M347.8 1535.5L348.7 1523.2L349 1519.7L350.2 1505.9L350.5 1502.5L351.4 1495.1L352.6 1486.2L353.8 1478.1L353.9 1477L354.9 1470.5L356.1 1463.4L357.3 1456.3L357.4 1455.6L358.5 1448.6L359.7 1440.9L360.8 1434.1L360.9 1433.8L362.1 1427.4L363.3 1421.6L364.2 1417.2L364.5 1416.2L365.7 1411.5L366.9 1407L368 1402.3L368.5 1400.1L369.2 1396.8L370.4 1390.1L371.6 1383.4L372.7 1378.3L372.8 1378L374 1374L375.2 1370.8L376.4 1367.9L377.6 1364.8L377.8 1364.1L378.8 1361.5L380 1358.2L381.2 1355.2L382.4 1352.3L383.6 1349.2L383.9 1348.5L384.8 1346.2L386 1343.4L387.1 1341L388.3 1338.9L389.5 1336.7L389.9 1336.1L390.7 1334.3L391.9 1331.9L393.1 1329.6L394.3 1327.4L395.5 1325.2L395.9 1324.6L396.7 1322.9L397.9 1320.6L399.1 1318.4L400.3 1316.4L401 1315.4L401.5 1314.5L402.7 1312.6L403.9 1310.8L405.1 1309.3L406.3 1307.8L407.5 1306.2L407.8 1305.9L408.7 1304.5L409.9 1302.8L411.1 1301.2L412.4 1299.5L413.6 1297.7L413.8 1297.4L414.8 1296L416 1294.2L417.2 1292.4L418.4 1290.5L419.6 1288.7L419.8 1288.4L420.8 1287.2L422 1285.8L423.2 1284.3L424.4 1282.7L424.9 1282L425.6 1280.9L426.9 1279.4L428.1 1278.1L429.3 1276.9L430.5 1275.6L431.7 1274.2L431.7 1274.2L432.9 1273.1L434.1 1272.1L435.4 1271.1L436.6 1270L437.8 1268.9L439 1268L439.4 1267.7L440.2 1267.2L441.5 1266.4L442.7 1265.4L443.9 1264.2L445.1 1263L446.4 1261.9L447.6 1260.7L448.6 1259.7L448.8 1259.5L450 1258.4L451.3 1257.2L452.5 1255.9L453.7 1254.6L454.9 1253.3L456.2 1252.3L457.1 1251.6L457.4 1251.3L458.6 1250.3L459.9 1249.3L461.1 1248.5L462.3 1247.9L463.6 1247.4L464.8 1246.9L465.6 1246.4L466.1 1246.1L467.3 1245.3L468.5 1244.4L469.8 1243.5L471 1242.5L472.3 1241.5L473.5 1240.7L474.2 1240.3L474.7 1240L476 1239L477.2 1237.9L478.5 1237L479.7 1236.2L481 1235.5L482.2 1234.7L482.7 1234.4L483.5 1233.8L484.7 1233L486 1232.3L487.3 1231.5L488.5 1230.7L489.8 1229.8L491 1229.1L491.2 1229L492.3 1228.6L493.6 1228L494.8 1227.4L496.1 1226.9L497.4 1226.6L498.6 1226.3L499.7 1225.9L499.9 1225.9L501.2 1225.3L502.4 1224.6L503.7 1223.9L505 1223.1L506.3 1222.3L507.5 1221.6L508.3 1221.3L508.8 1221.1L510.1 1220.5L511.4 1220L512.6 1219.6L513.9 1219.3L515.2 1219.1L516.5 1218.6L517.8 1218L519.1 1217.3L520.4 1216.6L521.2 1216.2L521.7 1216L522.9 1215L524.2 1214.1L525.5 1213.2L526.8 1212.4L527.2 1212.2L528.1 1211.6L529.4 1210.8L530.7 1210.2L532 1209.9L533.3 1209.6L534.6 1209.1L536 1208.6L537.3 1208.2L538.3 1207.9L538.6 1207.8L539.9 1207.3L541.2 1206.7L542.5 1206.2L543.8 1205.7L545.1 1205.4L546.5 1205L547.8 1204.6L549.1 1204.2L550.4 1203.8L551.1 1203.5L551.8 1203.3L553.1 1202.8L554.4 1202.4L555.8 1202L557.1 1201.6L558.4 1201.2L559.8 1200.8L561.1 1200.3L562.4 1199.7L563.8 1199L563.9 1198.9L565.1 1198.4L566.5 1198.1L567.8 1197.8L569.2 1197.1L570.5 1196.4L571.9 1195.9L572.4 1195.8L573.2 1195.7L574.6 1195.3L575.9 1194.9L577.3 1194.5L578.7 1194.1L580 1193.8L580.9 1193.5L581.4 1193.4L582.7 1193L584.1 1192.7L585.5 1192.5L586.9 1192.2L588.2 1191.9L589.5 1191.7L589.6 1191.7L591 1191.4L592.4 1190.9L593.8 1190.3L595.1 1189.7L596.5 1189.2L597.9 1188.8L599.3 1188.5L600.6 1188.3L600.7 1188.3L602.1 1188.1L603.5 1187.8L604.9 1187.4L606.3 1187.2L607.7 1187L609.1 1186.7L610.5 1186.4L611.9 1186.1L613.3 1185.8L613.4 1185.8L614.7 1185.4L616.1 1184.9L617.6 1184.4L619 1184L620.4 1183.4L621.8 1182.8L623.3 1182.3L624.7 1182L626.1 1181.7L626.3 1181.7L627.5 1181.3L629 1180.9L630.4 1180.6L631.9 1180.3L633.3 1180L634.7 1179.7L636.2 1179.5L637.6 1179.2L639.1 1178.9L639.1 1178.9L640.5 1178.5L642 1178L643.4 1177.4L644.9 1176.5L646.4 1175.8L647.6 1175.4L647.8 1175.4L649.3 1175L650.8 1174.6L652.2 1174.2L653.7 1173.7L655.2 1173.2L656.7 1172.8L658.1 1172.5L659.6 1172.4L660.4 1172.3L661.1 1172.1L662.6 1171.7L664.1 1171.2L665.6 1170.7L667.1 1170.1L668.6 1169.5L670.1 1169.1L671.6 1169L673.1 1168.7L673.2 1168.6L674.6 1168.3L676.1 1168.1L677.6 1167.9L679.1 1167.5L680.7 1167.1L682.2 1166.8L683.7 1166.6L685.2 1166.3L686 1166.1L686.8 1165.8L688.3 1165.4L689.8 1165L691.4 1164.7L692.9 1164.5L694.4 1164.2L696 1163.7L697.5 1163.1L698.8 1162.7L699.1 1162.6L700.6 1162.1L702.2 1161.4L703.7 1160.9L705.3 1160.5L706.9 1160L708.4 1159.5L710 1159.1L711.6 1158.7L711.7 1158.7L713.2 1158.1L714.7 1157.3L716.3 1156.8L717.9 1156.3L719.5 1155.8L721.1 1155.2L722.5 1154.8L722.7 1154.8L724.3 1154.4L725.8 1154L727.4 1153.4L729 1152.9L730.7 1152.4L732.3 1151.9L733.9 1151.5L735.5 1151.2L737 1150.7L737.1 1150.7L738.7 1150.2L740.3 1149.7L742 1149.3L743.6 1149L745.2 1148.8L746.9 1148.5L748.5 1148L750.1 1147.5L751.8 1147.2L753.4 1146.7L754.2 1146.4L755.1 1145.9L756.7 1145.1L758.4 1144.6L760.1 1143.8L761.7 1142.8L763.4 1142L765.1 1141.3L766.7 1140.5L767 1140.4L768.4 1139.9L770.1 1139.4L771.8 1138.9L773.4 1138.4L775.1 1138.1L776.8 1137.7L778.5 1137.2L779.8 1136.9L780.2 1136.8L781.9 1136.5L783.6 1136.1L785.3 1135.9L787 1135.6L788.7 1135.2L790.5 1134.7L792.2 1134.3L793.9 1134.1L795.6 1133.9L796.9 1133.7L797.4 1133.6L799.1 1133.2L800.8 1132.5L802.6 1132L804.3 1131.5L806 1131L807.8 1130.6L809.5 1130.4L811.3 1130.1L813.1 1129.4L813.9 1129.2L814.8 1128.9L816.6 1128.7L818.4 1128.4L820.1 1128.3L821.9 1128.1L823.7 1127.8L825.5 1127.5L827.3 1127.3L829 1127L830.8 1126.7L831 1126.7L832.6 1126.4L834.4 1126.1L836.2 1125.7L838 1125.4L839.9 1125L841.7 1124.6L843.5 1124.4L845.3 1124L847.1 1123.5L848.1 1123.2L849 1123L850.8 1122.6L852.6 1122.2L854.5 1121.8L856.3 1121.6L858.2 1121L860 1120.4L861.9 1120.1L863.7 1119.7L865.6 1119.1L867.4 1118.8L867.5 1118.8L869.3 1118.6L871.2 1118.2L873.1 1117.7L874.9 1117.3L876.8 1117L878.7 1116.8L880.6 1116.5L882 1116.1L882.5 1116L884.4 1115.7L886.3 1115.3L888.2 1114.8L890.1 1114.6L892 1114.2L893.9 1113.7L895.9 1113.4L897.8 1113.1L899.2 1112.7L899.7 1112.5L901.7 1112.1L903.6 1111.7L905.5 1111L907.5 1110.3L909.4 1109.8L911.4 1109.4L912 1109.3L913.3 1109.1L915.3 1108.6L917.3 1107.8L919.2 1107.2L921.2 1106.7L923.2 1106.1L924.8 1105.8L925.2 1105.7L927.1 1105.3L929.1 1105.1L931.1 1105L933.1 1104.6L935.1 1104.2L937.1 1104L939.1 1103.5L941.1 1103.2L941.9 1103.1L943.1 1103.1L945.2 1102.9L947.2 1102.6L949.2 1102.3L951.3 1101.8L953.3 1101.5L955.3 1101.3L957.4 1100.9L958.9 1100.6L959.4 1100.6L961.5 1100.3L963.5 1100L965.6 1099.9L967.7 1099.5L969.7 1099.2L971.8 1098.9L973.9 1098.5L976 1098L976 1098L978.1 1097.7L980.1 1097.4L982.2 1097L984.3 1096.5L986.4 1096L988.5 1095.7L990.7 1095.1L992.8 1094.6L993.2 1094.6L994.9 1094.5L997 1094.2L999.2 1094L1001.3 1093.9L1003.4 1093.6L1005.6 1093.4L1007.7 1093.2L1009.9 1092.8L1012 1092.6L1014.2 1092.4L1015 1092.4L1016.3 1092.2L1018.5 1091.9L1020.7 1091.5L1022.9 1091L1025 1090.5L1027.2 1089.9L1029.4 1089.5L1031.6 1089L1032 1088.9L1033.8 1088.6L1036 1088.3L1038.2 1087.6L1040.4 1086.9L1042.7 1086L1044.9 1085.3L1047.1 1085.2L1049.2 1084.9L1049.4 1084.9L1051.6 1084.3L1053.8 1084L1056.1 1083.6L1058.3 1083.3L1060.6 1083L1062.8 1082.7L1065.1 1082.3L1066.3 1082.1L1067.4 1081.9L1069.6 1081.7L1071.9 1081.4L1074.2 1081.1L1076.5 1080.7L1078.8 1080.2L1081.1 1080L1083.3 1079.6L1083.4 1079.6L1085.7 1079.1L1088 1078.7L1090.3 1078.3L1092.6 1077.8L1095 1077.2L1097.3 1076.7L1099.6 1076.3L1100.4 1076.1L1102 1075.8L1104.3 1075.5L1106.7 1075.3L1109 1075L1111.4 1074.5L1113.7 1074.1L1116.1 1073.7L1117.5 1073.5L1118.5 1073.4L1120.9 1073.2L1123.2 1072.8L1125.6 1072.4L1128 1072L1130.4 1071.6L1132.8 1071.3L1134.5 1071L1135.2 1070.9L1137.7 1070.5L1140.1 1070.3L1142.5 1069.9L1144.9 1069.5L1147.4 1069L1149.8 1068.7L1151.7 1068.5L1152.2 1068.4L1154.7 1068.1L1157.1 1067.8L1159.6 1067.4L1162.1 1067.1L1164.5 1066.8L1165 1066.7L1167 1066.5L1169.5 1066L1172 1065.7L1174.4 1065.4L1176.9 1064.9L1179.4 1064.6L1181.9 1064.2L1184.5 1063.9L1187 1063.5L1189.5 1062.9L1192 1062.8L1194.5 1062.5L1197.1 1062.2L1199.2 1062L1199.6 1061.9L1202.2 1061.5L1204.7 1061.3L1207.3 1061.2L1209.8 1060.9L1212.4 1060.6L1215 1060.4L1217.5 1060.2L1220.1 1060L1222.7 1059.8L1225.3 1059.6L1227.9 1059.4L1230.5 1059.1L1233.1 1059L1233.3 1059L1235.7 1058.7L1238.3 1058.5L1241 1058.2L1243.6 1058.1L1246.2 1057.8L1248.9 1057.5L1251.5 1057.2L1254.2 1057.1L1256.8 1056.9L1259.5 1056.7L1262.2 1056.3L1264.8 1056L1267.5 1056L1267.5 1056L1270.2 1055.8L1272.9 1055.5L1275.6 1055.2L1278.3 1055L1281 1054.7L1283.7 1054.6L1286.4 1054.3L1289.1 1054.2L1291.9 1054L1294.6 1053.7L1297.3 1053.5L1300.1 1053.4L1301.7 1053.4L1302.8 1053.3L1305.6 1053.1L1308.4 1053.1L1311.1 1053L1313.9 1052.8L1314.9 1052.7L1316.7 1052.7L1319.5 1052.6L1322.2 1052.3L1325 1052.2L1327.8 1051.9L1330.7 1051.7L1333.5 1051.4L1336.3 1051.1L1339.1 1050.8L1341.9 1050.7L1344.8 1050.5L1347.6 1050.2L1350.5 1049.9L1353.3 1049.8L1353.4 1049.8L1356.2 1049.6L1359 1049.5L1361.9 1049.3L1364.8 1049.2L1367.7 1048.9L1370.6 1048.9L1373.5 1048.6L1376.4 1048.6L1379.3 1048.5L1382.2 1048.3L1385.1 1048.1L1388 1048L1390.9 1047.9L1391.8 1047.9L1393.9 1047.9L1396.8 1047.6L1399.8 1047.5L1402.7 1047.4L1405.7 1047.3L1408.6 1047.1L1411.6 1047L1414.6 1046.9L1417.6 1046.9L1420.6 1046.7L1423.5 1046.6L1426.5 1046.5L1429.6 1046.4L1430.1 1046.4L1432.6 1046.3L1435.6 1046.3L1438.6 1046.1L1441.6 1046L1444.7 1046L1447.7 1045.9L1450.8 1045.8L1453.8 1045.8L1456.9 1045.7L1460 1045.6L1463 1045.5L1466.1 1045.5L1469.2 1045.4L1472.3 1045.3L1475.4 1045.3L1478.5 1045.2L1481.6 1045.2" stroke="#E50914" stroke-width="4.00" stroke-linecap="square"/>
<path d="M349.4 1536.2L350.7 1533.3L347.5 1531.9L346.2 1534.8ZM352.9 1528.5L354.2 1525.6L351 1524.1L349.7 1527.1ZM356.3 1520.8L357.7 1517.9L354.6 1516.4L353.1 1519.2ZM360.3 1513.6L362 1511L359 1509.1L357.3 1511.7ZM364.8 1506.7L366.6 1504.2L363.7 1502.1L361.9 1504.7ZM369.7 1500.1L371.6 1497.6L368.8 1495.5L366.9 1498ZM374.8 1493.5L376.6 1491L373.8 1488.9L371.9 1491.4ZM379.6 1486.6L381.3 1484L378.4 1482L376.7 1484.6ZM384.2 1479.8L386.1 1477.2L383.2 1475.2L381.4 1477.7ZM389.2 1473.4L391.3 1471.1L388.7 1468.7L386.6 1471.1ZM394.9 1467.5L397.1 1465.3L394.6 1462.8L392.4 1465ZM400.6 1461.3L402.6 1458.9L399.9 1456.7L397.9 1459ZM405.9 1454.9L407.9 1452.5L405.2 1450.3L403.2 1452.7ZM411.2 1448.7L413.4 1446.4L410.8 1444.1L408.7 1446.3ZM416.9 1442.7L419 1440.4L416.5 1438L414.3 1440.3ZM422.4 1436.3L424.3 1433.8L421.6 1431.7L419.6 1434.1ZM427.6 1430.1L429.8 1427.8L427.3 1425.4L425.1 1427.7ZM433.5 1424.5L435.9 1422.5L433.6 1419.8L431.2 1421.8ZM439.7 1418.8L441.9 1416.6L439.4 1414.2L437.2 1416.4ZM445.5 1413.2L447.9 1411.2L445.6 1408.5L443.3 1410.5ZM451.9 1408L454.4 1406.2L452.3 1403.4L449.8 1405.2ZM458.5 1403.1L461.1 1401.2L459 1398.4L456.5 1400.3ZM465.2 1398L467.6 1395.9L465.3 1393.3L462.9 1395.3ZM471.6 1393.3L474.4 1391.9L472.8 1388.7L470 1390.2ZM479.1 1388.9L481.6 1387L479.4 1384.2L476.9 1386.2ZM485.6 1383.6L487.9 1381.6L485.7 1378.9L483.3 1380.9ZM491.9 1378.4L494.3 1376.5L492.2 1373.7L489.7 1375.6ZM498.4 1373.7L501.2 1372.2L499.5 1369.1L496.7 1370.6ZM505.8 1369.3L508.3 1367.4L506.2 1364.6L503.7 1366.5ZM512.4 1364.6L515.1 1363L513.3 1360L510.6 1361.6ZM519.6 1359.9L522.1 1358L519.9 1355.3L517.5 1357.2ZM526.1 1354.9L528.6 1353.1L526.6 1350.2L524.1 1352ZM532.9 1349.5L535 1347.2L532.4 1344.8L530.3 1347.2ZM538.4 1343.6L540.8 1341.6L538.4 1338.9L536.1 1341ZM544.6 1338.6L547.3 1337L545.6 1334L542.8 1335.6ZM551.8 1334.8L554.8 1333.5L553.3 1330.3L550.4 1331.6ZM559.7 1331.2L562.5 1329.7L560.8 1326.6L558 1328.1ZM567.1 1327L569.7 1325.4L567.9 1322.4L565.2 1324ZM574.2 1322.6L576.9 1321L575 1318L572.3 1319.7ZM581.3 1318.3L584 1316.7L582.2 1313.7L579.5 1315.3ZM588.5 1314.2L591.3 1312.7L589.7 1309.6L586.9 1311.1ZM595.9 1310.4L598.8 1309.1L597.4 1305.9L594.5 1307.2ZM603.8 1306.6L606.4 1304.8L604.4 1302L601.8 1303.8ZM610.5 1302L613.3 1300.6L611.7 1297.5L608.9 1298.9ZM618.1 1298.3L620.9 1296.9L619.3 1293.7L616.5 1295.2ZM625.6 1294.1L628.1 1292.2L626.1 1289.4L623.5 1291.3ZM632.2 1288.7L634.5 1286.6L632.1 1284.1L629.8 1286.2ZM638.2 1283.2L640.6 1281.2L638.4 1278.5L636 1280.5ZM644.5 1278.4L647.4 1277.1L645.9 1273.9L643 1275.3ZM652.5 1274.9L655.1 1273.2L653.2 1270.3L650.6 1272ZM659.1 1270.5L662.1 1269.3L660.8 1266.1L657.8 1267.3ZM667.2 1267.5L670.1 1266.2L668.7 1263L665.8 1264.3ZM674.8 1263.9L677.8 1262.6L676.4 1259.4L673.5 1260.7ZM682.9 1260.6L685.6 1259L683.9 1256L681.2 1257.5ZM689.9 1255.9L692.6 1254.2L690.7 1251.3L688 1253ZM697 1251.6L699.7 1250.1L698.1 1247.1L695.3 1248.6ZM704.3 1247.9L707.2 1246.6L705.9 1243.4L702.9 1244.6ZM712.3 1244.7L715.2 1243.3L713.7 1240.2L710.8 1241.5ZM719.8 1240.7L722.6 1239.2L720.9 1236.1L718.1 1237.6ZM727 1236.8L730 1235.5L728.6 1232.3L725.7 1233.5ZM735 1233.7L738 1232.5L736.6 1229.3L733.7 1230.5ZM742.7 1230L745.6 1228.7L744.1 1225.5L741.2 1226.8ZM750.6 1226.8L753.5 1225.5L752 1222.3L749.1 1223.6ZM758.1 1222.8L760.9 1221.3L759.2 1218.2L756.4 1219.8ZM765.4 1218.7L768.2 1217.3L766.6 1214.2L763.8 1215.6ZM772.8 1215.1L775.8 1213.8L774.4 1210.6L771.5 1211.8ZM780.7 1212L783.7 1211L782.6 1207.7L779.6 1208.7ZM788.9 1209.5L792 1208.5L791 1205.2L787.9 1206.1ZM797.2 1206.9L800.3 1205.9L799.2 1202.6L796.1 1203.6ZM805.5 1204L808.4 1202.7L807 1199.5L804.1 1200.8ZM812.9 1200L815.7 1198.5L814.1 1195.4L811.3 1196.9ZM820.4 1196.7L823.5 1195.6L822.4 1192.3L819.3 1193.3ZM828.7 1194.2L831.8 1193.2L830.7 1189.9L827.7 1190.9ZM836.9 1191L839.7 1189.6L838.2 1186.4L835.4 1187.8ZM844.4 1187.2L847.3 1185.8L845.8 1182.7L842.9 1184ZM852.1 1183.9L855.1 1182.7L853.8 1179.5L850.8 1180.7ZM859.9 1180.5L862.9 1179.3L861.6 1176.1L858.6 1177.3ZM868 1178L871.1 1177L870.1 1173.7L867 1174.6ZM876.2 1175.2L879.3 1174.3L878.3 1170.9L875.1 1171.9ZM884.6 1173.1L887.7 1172.2L886.7 1168.8L883.6 1169.7ZM892.6 1169.4L895.4 1167.9L893.7 1164.9L891 1166.4ZM900.1 1166.1L903.2 1165.1L902 1161.7L899 1162.8ZM908.2 1163.5L911.4 1162.6L910.4 1159.2L907.3 1160.1ZM916.5 1161L919.7 1160.1L918.7 1156.8L915.6 1157.7ZM924.9 1158.8L928.1 1158L927.2 1154.6L924 1155.4ZM933.3 1156.4L936.5 1155.5L935.5 1152.1L932.3 1153.1ZM941.6 1154.2L944.8 1153.4L944 1150L940.8 1150.8ZM950.2 1152L953.3 1151.2L952.4 1147.8L949.3 1148.6ZM958.6 1149.4L961.6 1148.3L960.4 1145L957.4 1146.1ZM966.6 1146.7L969.8 1145.8L968.8 1142.4L965.6 1143.4ZM974.9 1144.4L978.1 1143.7L977.3 1140.2L974.1 1141ZM983.5 1142.4L986.6 1141.5L985.8 1138.2L982.6 1139ZM991.9 1140L995.1 1139.1L994 1135.7L990.9 1136.7ZM1000.2 1137.5L1003.3 1136.5L1002.3 1133.2L999.2 1134.1ZM1008.5 1135.4L1011.7 1134.8L1011.1 1131.3L1007.8 1131.9ZM1017.2 1133.8L1020.5 1133.3L1019.9 1129.8L1016.6 1130.4ZM1026 1132.1L1029.2 1131.3L1028.3 1127.9L1025.1 1128.7ZM1034.4 1130.2L1037.7 1129.6L1037.1 1126.2L1033.8 1126.7ZM1043.3 1128.1L1046.3 1126.9L1045 1123.6L1042 1124.8ZM1051.2 1125.2L1054.3 1124.2L1053.3 1120.9L1050.2 1121.8ZM1059.5 1122.2L1062.4 1120.9L1061 1117.7L1058.1 1119.1ZM1067.2 1119.4L1070.4 1118.7L1069.6 1115.2L1066.4 1116ZM1075.8 1117.1L1078.9 1116L1077.7 1112.7L1074.6 1113.8ZM1083.9 1114.2L1086.9 1113L1085.7 1109.7L1082.7 1110.9ZM1091.9 1111.3L1095 1110.3L1093.9 1107L1090.8 1108ZM1100.1 1108.7L1103.2 1107.8L1102.2 1104.4L1099.1 1105.4ZM1108.4 1106.3L1111.6 1105.6L1110.7 1102.2L1107.5 1102.9ZM1116.9 1104.2L1120.1 1103.4L1119.2 1100L1116 1100.8ZM1125.2 1102.3L1128.6 1101.9L1128.1 1098.4L1124.8 1098.9ZM1134.1 1101.1L1137.5 1100.6L1137 1097.1L1133.6 1097.6ZM1143 1099.7L1146.3 1099.1L1145.6 1095.6L1142.4 1096.3ZM1151.7 1097.9L1154.9 1097.1L1154.1 1093.7L1150.9 1094.5ZM1160.2 1095.9L1163.5 1095.1L1162.7 1091.7L1159.5 1092.5ZM1168.8 1093.9L1172 1093.1L1171.2 1089.7L1168 1090.5ZM1177.3 1091.9L1180.5 1091.1L1179.7 1087.7L1176.5 1088.5ZM1185.9 1089.8L1189.1 1089L1188.2 1085.6L1185 1086.4ZM1194.2 1087.8L1197.5 1087.3L1197 1083.8L1193.7 1084.3ZM1203.1 1086.5L1206.4 1085.9L1205.8 1082.5L1202.5 1083.1ZM1211.8 1084.8L1215.1 1084.2L1214.4 1080.8L1211.2 1081.4ZM1220.6 1083.1L1223.8 1082.2L1222.8 1078.8L1219.7 1079.7ZM1228.8 1080.7L1232.1 1080L1231.4 1076.6L1228.1 1077.3ZM1237.4 1079L1240.8 1078.5L1240.2 1075L1236.9 1075.6ZM1246.3 1077.7L1249.6 1077L1248.9 1073.6L1245.7 1074.2ZM1254.9 1076L1258.2 1075.5L1257.7 1072L1254.4 1072.5ZM1263.8 1074.7L1267.1 1074.2L1266.6 1070.8L1263.3 1071.2ZM1272.6 1073.4L1276 1073L1275.5 1069.5L1272.1 1070ZM1281.5 1072.2L1284.8 1071.7L1284.3 1068.3L1281 1068.7ZM1290.4 1070.9L1293.7 1070.3L1293 1066.9L1289.8 1067.5ZM1299 1069.3L1302.4 1068.9L1302 1065.4L1298.6 1065.8ZM1308 1068.4L1311.4 1067.9L1310.9 1064.5L1307.6 1064.9ZM1316.9 1066.9L1320.2 1066.2L1319.5 1062.8L1316.2 1063.4ZM1325.6 1065.1L1328.8 1064.4L1328.1 1061L1324.8 1061.7ZM1334.1 1063.3L1337.4 1062.7L1336.8 1059.2L1333.5 1059.8ZM1342.9 1061.8L1346.2 1061.3L1345.6 1057.9L1342.3 1058.4ZM1351.7 1060.4L1355 1059.9L1354.4 1056.4L1351.1 1057ZM1360.4 1059L1363.7 1058.5L1363.3 1055.1L1359.9 1055.5ZM1369.3 1057.9L1372.7 1057.6L1372.3 1054.1L1368.9 1054.5ZM1378.3 1057L1381.7 1056.7L1381.3 1053.2L1377.9 1053.5ZM1387.3 1056.1L1390.7 1055.7L1390.2 1052.2L1386.9 1052.6ZM1396.2 1054.8L1399.5 1054.3L1399 1050.8L1395.7 1051.3ZM1405 1053.7L1408.4 1053.3L1408 1049.8L1404.7 1050.2ZM1413.9 1052.7L1417.4 1052.5L1417.1 1049L1413.7 1049.2ZM1423 1052.3L1426.5 1052.2L1426.4 1048.7L1423 1048.8ZM1432.3 1052.1L1435.8 1052L1435.6 1048.5L1432.2 1048.6ZM1441.5 1051.7L1444.9 1051.4L1444.7 1047.9L1441.2 1048.2ZM1450.6 1050.8L1454 1050.4L1453.6 1047L1450.2 1047.3ZM1459.6 1049.8L1462.9 1049.5L1462.6 1046L1459.2 1046.4ZM1468.5 1048.8L1471.9 1048.3L1471.4 1044.9L1468.1 1045.3ZM1477.5 1047.6L1480.8 1047.1L1480.3 1043.6L1477 1044.1Z" fill="#E50914" stroke="none"/>
<path d="M347.8 1535.5L1481.6 1045.2" stroke="#000" stroke-width="3.61" stroke-dasharray="13.36 5.78"/>
</g>
<rect x="347.8" y="1020.7" width="1133.8" height="514.8" fill="none" stroke="#111" stroke-width="1.44"/>
<g stroke="#111" stroke-width="1.44"><path d="M347.8 1535.5v6.3"/><path d="M347.8 1535.5h-6.3"/><path d="M574.6 1535.5v6.3"/><path d="M347.8 1437.4h-6.3"/><path d="M801.3 1535.5v6.3"/><path d="M347.8 1339.4h-6.3"/><path d="M1028.1 1535.5v6.3"/><path d="M347.8 1241.3h-6.3"/><path d="M1254.8 1535.5v6.3"/><path d="M347.8 1143.3h-6.3"/><path d="M1481.6 1535.5v6.3"/><path d="M347.8 1045.2h-6.3"/></g>
<g font-family="'DejaVu Sans', 'Liberation Sans', sans-serif" font-size="25.28" letter-spacing="0.73" fill="#000" stroke="#000" stroke-width="0.45"><text x="347.8" y="1568.1" text-anchor="middle" letter-spacing="0">0.0</text><text x="335.2" y="1545.1" text-anchor="end" letter-spacing="0">0.0</text><text x="574.6" y="1568.1" text-anchor="middle" letter-spacing="0">0.2</text><text x="335.2" y="1447" text-anchor="end" letter-spacing="0">0.2</text><text x="801.3" y="1568.1" text-anchor="middle" letter-spacing="0">0.4</text><text x="335.2" y="1349" text-anchor="end" letter-spacing="0">0.4</text><text x="1028.1" y="1568.1" text-anchor="middle" letter-spacing="0">0.6</text><text x="335.2" y="1250.9" text-anchor="end" letter-spacing="0">0.6</text><text x="1254.8" y="1568.1" text-anchor="middle" letter-spacing="0">0.8</text><text x="335.2" y="1152.9" text-anchor="end" letter-spacing="0">0.8</text><text x="1481.6" y="1568.1" text-anchor="middle" letter-spacing="0">1.0</text><text x="335.2" y="1054.8" text-anchor="end" letter-spacing="0">1.0</text><text x="914.7" y="1009.9" text-anchor="middle">ROC curve</text><text x="914.7" y="1599.7" text-anchor="middle">False Positive Rate</text><text transform="translate(281.8 1278.1) rotate(-90)" text-anchor="middle">True Positive Rate</text></g>
<rect x="946.4" y="1297.4" width="525.9" height="229.1" rx="3.6" fill="#fff" fill-opacity="0.8" stroke="#ccc" stroke-opacity="0.8" stroke-width="1.81"/>
<g font-family="'DejaVu Sans', 'Liberation Sans', sans-serif" font-size="18.06" letter-spacing="0.61" fill="#000" stroke="#000" stroke-width="0.39"><path d="M954.5 1313.2H992.5" fill="none" stroke="#52BFCF" stroke-width="4.00" stroke-linecap="square"/><text x="1007.5" y="1319.2">XGBoost - micro (area = 0.873)</text><path d="M954.5 1341H992.5" fill="none" stroke="#52BFCF" stroke-width="3.50" stroke-dasharray="3.50 5.77"/><text x="1007.5" y="1347">XGBoost - macro (area = 0.795)</text><path d="M954.5 1368.8H992.5" fill="none" stroke="#F07F09" stroke-width="4.00" stroke-linecap="square"/><text x="1007.5" y="1374.8">Naive Bayes - micro (area = 0.811)</text><path d="M954.5 1396.6H992.5" fill="none" stroke="#F07F09" stroke-width="3.50" stroke-dasharray="3.50 5.77"/><text x="1007.5" y="1402.6">Naive Bayes - macro (area = 0.758)</text><path d="M954.5 1424.4H992.5" fill="none" stroke="#4D7FCB" stroke-width="4.00" stroke-linecap="square"/><text x="1007.5" y="1430.4">Logistic Regression - micro (area = 0.841)</text><path d="M954.5 1452.2H992.5" fill="none" stroke="#4D7FCB" stroke-width="3.50" stroke-dasharray="3.50 5.77"/><text x="1007.5" y="1458.2">Logistic Regression - macro (area = 0.741)</text><path d="M954.5 1480H992.5" fill="none" stroke="#E50914" stroke-width="4.00" stroke-linecap="square"/><text x="1007.5" y="1486">Support Vector Machine - micro (area = 0.818)</text><path d="M954.5 1507.8H992.5" fill="none" stroke="#E50914" stroke-width="3.50" stroke-dasharray="3.50 5.77"/><text x="1007.5" y="1513.8">Support Vector Machine - macro (area = 0.691)</text></g>
<g font-family="'Liberation Sans', 'DejaVu Sans', sans-serif" font-size="30" font-weight="bold" fill="#000"><text x="14" y="34.3">A</text><text x="947.4" y="34.3">B</text><text x="13.8" y="512.7">C</text><text x="947.4" y="512.7">D</text><text x="208.9" y="1026">E</text></g>
<ellipse cx="955.2" cy="544.4" rx="1.7" ry="0.8" fill="#666"/>
</svg>
</body></html>
